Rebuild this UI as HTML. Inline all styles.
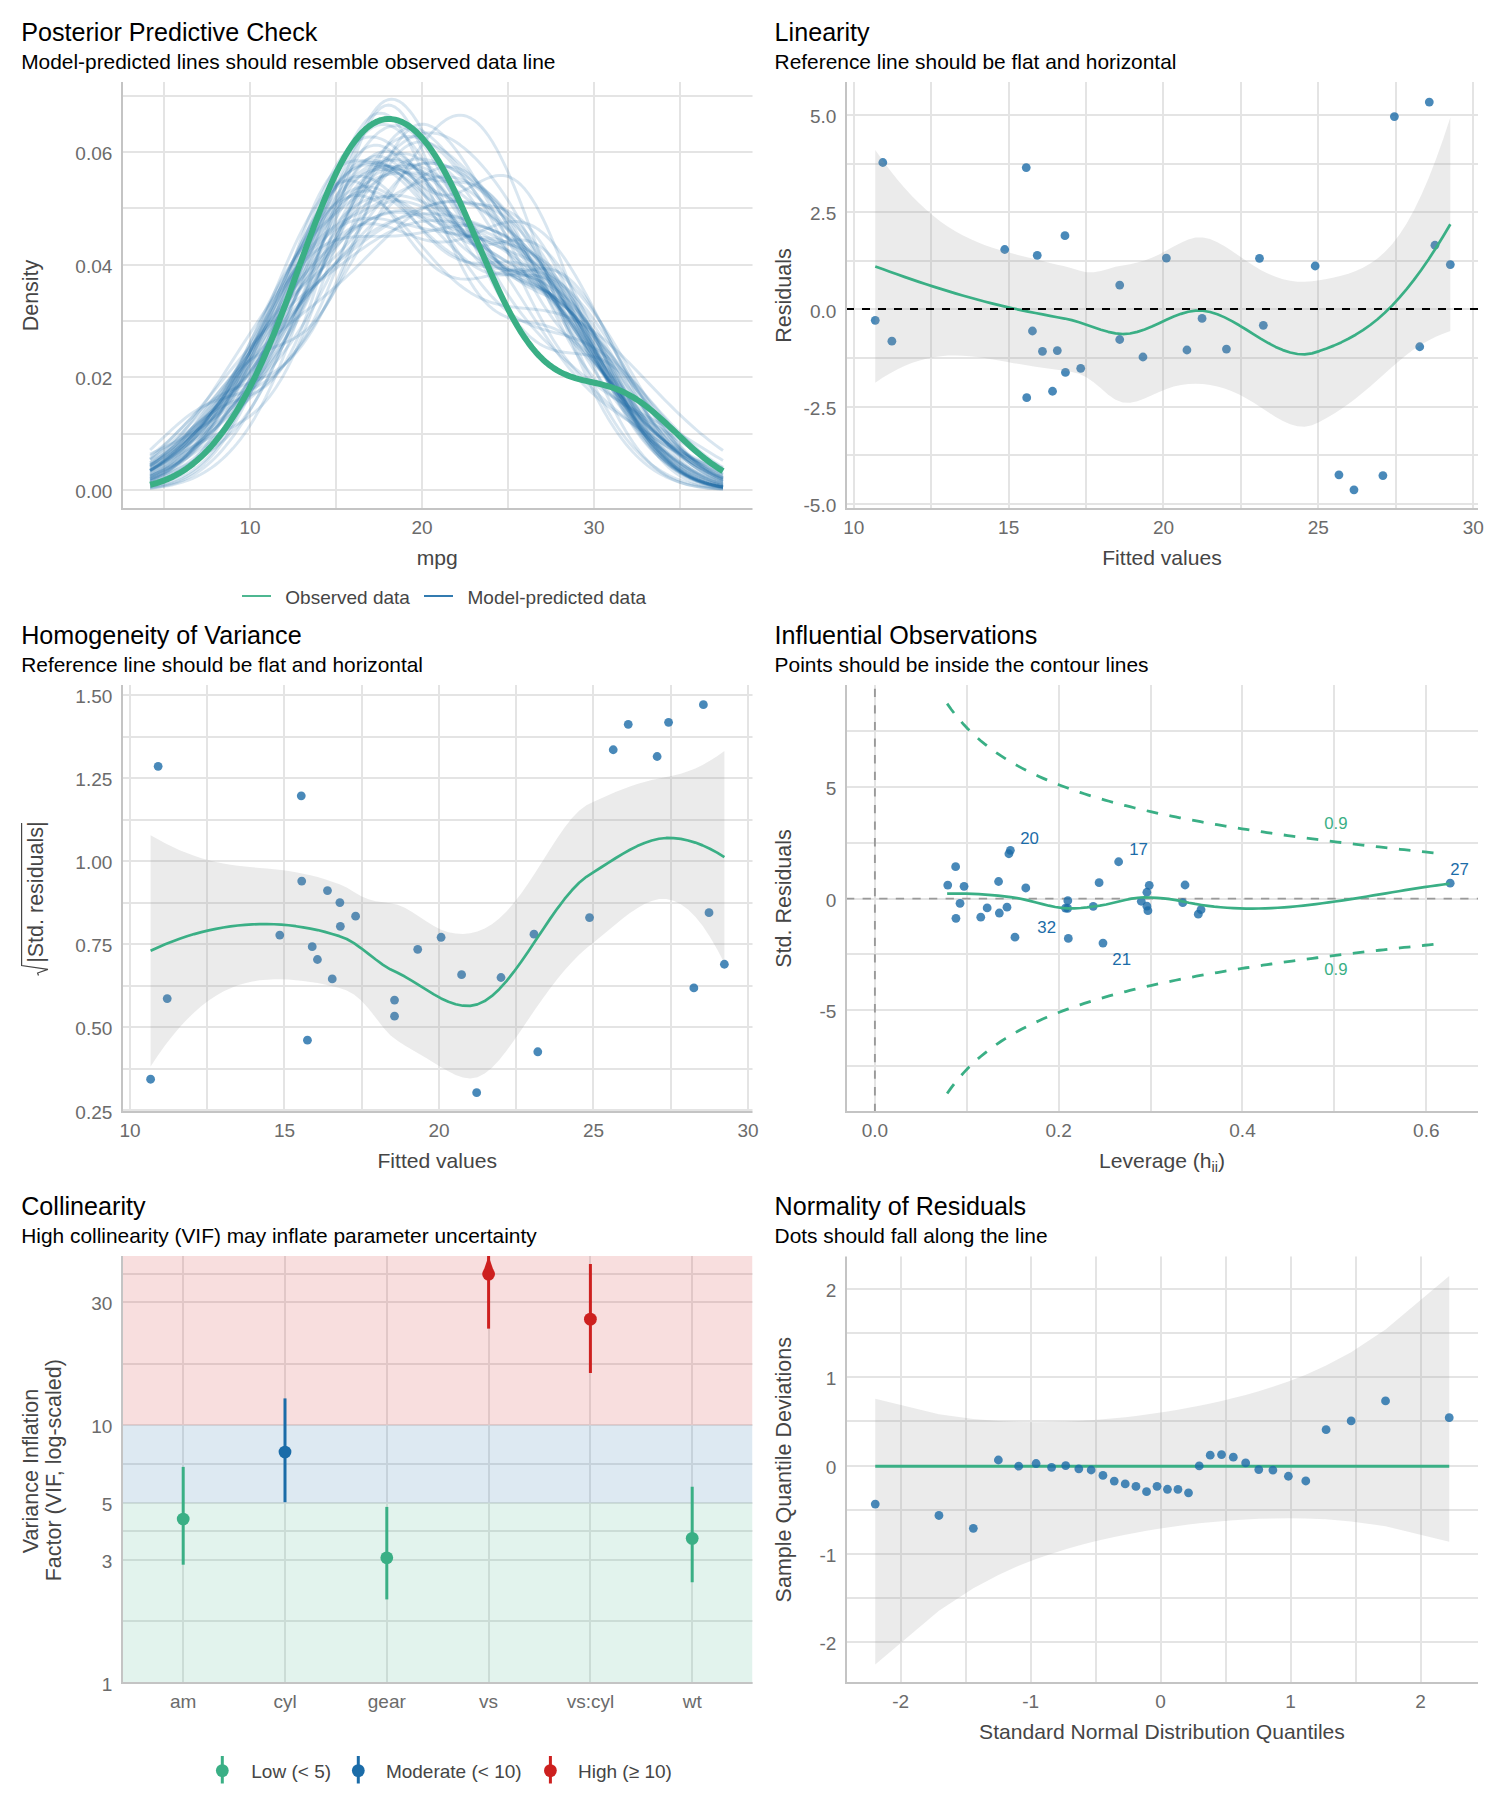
<!DOCTYPE html>
<html><head><meta charset="utf-8"><title>check_model</title>
<style>html,body{margin:0;padding:0;background:#fff}svg{display:block}text{font-family:"Liberation Sans",sans-serif}</style></head>
<body>
<svg width="1500" height="1800" viewBox="0 0 1500 1800" font-family="Liberation Sans, sans-serif">
<rect width="1500" height="1800" fill="#fff"/>
<clipPath id="c1"><rect x="122" y="82" width="630.5" height="427"/></clipPath>
<line x1="164" x2="164" y1="82" y2="509" stroke="#e4e4e4" stroke-width="2"/>
<line x1="336" x2="336" y1="82" y2="509" stroke="#e4e4e4" stroke-width="2"/>
<line x1="508" x2="508" y1="82" y2="509" stroke="#e4e4e4" stroke-width="2"/>
<line x1="680" x2="680" y1="82" y2="509" stroke="#e4e4e4" stroke-width="2"/>
<line x1="250" x2="250" y1="82" y2="509" stroke="#e4e4e4" stroke-width="2"/>
<line x1="422" x2="422" y1="82" y2="509" stroke="#e4e4e4" stroke-width="2"/>
<line x1="594" x2="594" y1="82" y2="509" stroke="#e4e4e4" stroke-width="2"/>
<line x1="122" x2="752.5" y1="434" y2="434" stroke="#e4e4e4" stroke-width="2"/>
<line x1="122" x2="752.5" y1="321" y2="321" stroke="#e4e4e4" stroke-width="2"/>
<line x1="122" x2="752.5" y1="208" y2="208" stroke="#e4e4e4" stroke-width="2"/>
<line x1="122" x2="752.5" y1="96" y2="96" stroke="#e4e4e4" stroke-width="2"/>
<line x1="122" x2="752.5" y1="490" y2="490" stroke="#e4e4e4" stroke-width="2"/>
<line x1="122" x2="752.5" y1="377" y2="377" stroke="#e4e4e4" stroke-width="2"/>
<line x1="122" x2="752.5" y1="265" y2="265" stroke="#e4e4e4" stroke-width="2"/>
<line x1="122" x2="752.5" y1="152" y2="152" stroke="#e4e4e4" stroke-width="2"/>
<g clip-path="url(#c1)" fill="none" stroke-linejoin="round">
<g stroke="#1b6ca8" stroke-opacity="0.17" stroke-width="2.9">
<path d="M150.07,482.43 L153.67,481.45 L157.27,480.38 L160.88,479.21 L164.48,477.95 L168.08,476.57 L171.69,475.09 L175.29,473.48 L178.89,471.75 L182.5,469.88 L186.1,467.86 L189.7,465.67 L193.31,463.32 L196.91,460.76 L200.51,458 L204.12,455.01 L207.72,451.76 L211.32,448.23 L214.93,444.4 L218.53,440.23 L222.13,435.71 L225.74,430.81 L229.34,425.49 L232.94,419.73 L236.55,413.52 L240.15,406.84 L243.75,399.66 L247.36,391.99 L250.96,383.82 L254.57,375.17 L258.17,366.04 L261.77,356.47 L265.38,346.48 L268.98,336.13 L272.58,325.47 L276.19,314.55 L279.79,303.46 L283.39,292.27 L287,281.06 L290.6,269.93 L294.2,258.97 L297.81,248.26 L301.41,237.91 L305.01,228 L308.62,218.61 L312.22,209.81 L315.82,201.68 L319.43,194.25 L323.03,187.58 L326.63,181.68 L330.24,176.57 L333.84,172.24 L337.44,168.68 L341.05,165.84 L344.65,163.7 L348.25,162.19 L351.86,161.24 L355.46,160.77 L359.06,160.72 L362.67,161 L366.27,161.53 L369.87,162.22 L373.48,163 L377.08,163.8 L380.68,164.56 L384.29,165.24 L387.89,165.78 L391.49,166.17 L395.1,166.38 L398.7,166.42 L402.3,166.29 L405.91,166.01 L409.51,165.62 L413.11,165.15 L416.72,164.64 L420.32,164.15 L423.92,163.73 L427.53,163.45 L431.13,163.34 L434.73,163.48 L438.34,163.91 L441.94,164.68 L445.54,165.82 L449.15,167.39 L452.75,169.39 L456.35,171.86 L459.96,174.81 L463.56,178.23 L467.16,182.13 L470.77,186.5 L474.37,191.32 L477.97,196.57 L481.58,202.21 L485.18,208.23 L488.78,214.57 L492.39,221.21 L495.99,228.1 L499.59,235.2 L503.2,242.47 L506.8,249.86 L510.4,257.33 L514.01,264.84 L517.61,272.35 L521.21,279.82 L524.82,287.22 L528.42,294.51 L532.02,301.66 L535.63,308.65 L539.23,315.45 L542.83,322.04 L546.44,328.4 L550.04,334.53 L553.64,340.4 L557.25,346.02 L560.85,351.39 L564.45,356.5 L568.06,361.37 L571.66,366 L575.26,370.4 L578.87,374.59 L582.47,378.59 L586.07,382.4 L589.68,386.06 L593.28,389.59 L596.88,393 L600.49,396.31 L604.09,399.55 L607.69,402.74 L611.3,405.88 L614.9,409 L618.5,412.11 L622.11,415.22 L625.71,418.33 L629.31,421.45 L632.92,424.58 L636.52,427.72 L640.12,430.87 L643.73,434.02 L647.33,437.16 L650.93,440.29 L654.54,443.38 L658.14,446.44 L661.74,449.44 L665.35,452.38 L668.95,455.23 L672.55,458 L676.16,460.67 L679.76,463.22 L683.36,465.66 L686.97,467.97 L690.57,470.14 L694.17,472.19 L697.78,474.09 L701.38,475.85 L704.98,477.48 L708.59,478.98 L712.19,480.34 L715.79,481.57 L719.4,482.68 L723,483.68"/>
<path d="M150.07,468.33 L153.67,466.4 L157.27,464.38 L160.88,462.28 L164.48,460.11 L168.08,457.88 L171.69,455.58 L175.29,453.22 L178.89,450.82 L182.5,448.36 L186.1,445.85 L189.7,443.29 L193.31,440.69 L196.91,438.04 L200.51,435.32 L204.12,432.55 L207.72,429.7 L211.32,426.77 L214.93,423.73 L218.53,420.59 L222.13,417.31 L225.74,413.89 L229.34,410.29 L232.94,406.51 L236.55,402.51 L240.15,398.29 L243.75,393.82 L247.36,389.08 L250.96,384.07 L254.57,378.75 L258.17,373.14 L261.77,367.21 L265.38,360.97 L268.98,354.42 L272.58,347.57 L276.19,340.42 L279.79,332.99 L283.39,325.3 L287,317.37 L290.6,309.24 L294.2,300.92 L297.81,292.47 L301.41,283.91 L305.01,275.28 L308.62,266.64 L312.22,258.02 L315.82,249.47 L319.43,241.04 L323.03,232.76 L326.63,224.69 L330.24,216.86 L333.84,209.33 L337.44,202.13 L341.05,195.29 L344.65,188.86 L348.25,182.87 L351.86,177.34 L355.46,172.3 L359.06,167.78 L362.67,163.79 L366.27,160.35 L369.87,157.46 L373.48,155.14 L377.08,153.39 L380.68,152.2 L384.29,151.58 L387.89,151.52 L391.49,152 L395.1,153 L398.7,154.51 L402.3,156.51 L405.91,158.96 L409.51,161.84 L413.11,165.12 L416.72,168.77 L420.32,172.74 L423.92,177 L427.53,181.51 L431.13,186.23 L434.73,191.12 L438.34,196.14 L441.94,201.25 L445.54,206.41 L449.15,211.58 L452.75,216.72 L456.35,221.8 L459.96,226.78 L463.56,231.64 L467.16,236.35 L470.77,240.88 L474.37,245.22 L477.97,249.34 L481.58,253.23 L485.18,256.89 L488.78,260.31 L492.39,263.49 L495.99,266.42 L499.59,269.13 L503.2,271.62 L506.8,273.91 L510.4,276.01 L514.01,277.95 L517.61,279.75 L521.21,281.45 L524.82,283.07 L528.42,284.65 L532.02,286.22 L535.63,287.82 L539.23,289.48 L542.83,291.24 L546.44,293.12 L550.04,295.17 L553.64,297.42 L557.25,299.88 L560.85,302.59 L564.45,305.55 L568.06,308.8 L571.66,312.34 L575.26,316.17 L578.87,320.3 L582.47,324.72 L586.07,329.42 L589.68,334.39 L593.28,339.61 L596.88,345.06 L600.49,350.72 L604.09,356.55 L607.69,362.52 L611.3,368.6 L614.9,374.76 L618.5,380.95 L622.11,387.15 L625.71,393.32 L629.31,399.43 L632.92,405.44 L636.52,411.32 L640.12,417.05 L643.73,422.6 L647.33,427.94 L650.93,433.07 L654.54,437.96 L658.14,442.6 L661.74,446.99 L665.35,451.11 L668.95,454.97 L672.55,458.56 L676.16,461.89 L679.76,464.96 L683.36,467.78 L686.97,470.36 L690.57,472.7 L694.17,474.83 L697.78,476.74 L701.38,478.46 L704.98,480 L708.59,481.36 L712.19,482.57 L715.79,483.64 L719.4,484.58 L723,485.4"/>
<path d="M150.07,465.71 L153.67,463.27 L157.27,460.67 L160.88,457.91 L164.48,454.99 L168.08,451.91 L171.69,448.69 L175.29,445.31 L178.89,441.79 L182.5,438.14 L186.1,434.37 L189.7,430.47 L193.31,426.47 L196.91,422.38 L200.51,418.21 L204.12,413.97 L207.72,409.69 L211.32,405.36 L214.93,401.01 L218.53,396.65 L222.13,392.3 L225.74,387.97 L229.34,383.67 L232.94,379.42 L236.55,375.23 L240.15,371.11 L243.75,367.07 L247.36,363.12 L250.96,359.26 L254.57,355.49 L258.17,351.83 L261.77,348.27 L265.38,344.81 L268.98,341.45 L272.58,338.18 L276.19,335.01 L279.79,331.91 L283.39,328.89 L287,325.93 L290.6,323.02 L294.2,320.16 L297.81,317.33 L301.41,314.51 L305.01,311.7 L308.62,308.89 L312.22,306.06 L315.82,303.2 L319.43,300.31 L323.03,297.37 L326.63,294.37 L330.24,291.32 L333.84,288.2 L337.44,285.02 L341.05,281.76 L344.65,278.44 L348.25,275.05 L351.86,271.61 L355.46,268.1 L359.06,264.55 L362.67,260.96 L366.27,257.35 L369.87,253.72 L373.48,250.09 L377.08,246.47 L380.68,242.88 L384.29,239.34 L387.89,235.87 L391.49,232.47 L395.1,229.17 L398.7,225.99 L402.3,222.94 L405.91,220.03 L409.51,217.29 L413.11,214.73 L416.72,212.36 L420.32,210.19 L423.92,208.24 L427.53,206.51 L431.13,205.02 L434.73,203.76 L438.34,202.75 L441.94,201.98 L445.54,201.47 L449.15,201.2 L452.75,201.19 L456.35,201.42 L459.96,201.89 L463.56,202.61 L467.16,203.56 L470.77,204.74 L474.37,206.14 L477.97,207.76 L481.58,209.59 L485.18,211.63 L488.78,213.85 L492.39,216.27 L495.99,218.86 L499.59,221.63 L503.2,224.56 L506.8,227.64 L510.4,230.88 L514.01,234.25 L517.61,237.77 L521.21,241.41 L524.82,245.17 L528.42,249.04 L532.02,253.02 L535.63,257.11 L539.23,261.29 L542.83,265.55 L546.44,269.91 L550.04,274.33 L553.64,278.83 L557.25,283.39 L560.85,288.02 L564.45,292.69 L568.06,297.42 L571.66,302.19 L575.26,306.99 L578.87,311.83 L582.47,316.69 L586.07,321.58 L589.68,326.48 L593.28,331.4 L596.88,336.32 L600.49,341.25 L604.09,346.17 L607.69,351.08 L611.3,355.98 L614.9,360.86 L618.5,365.71 L622.11,370.53 L625.71,375.32 L629.31,380.06 L632.92,384.75 L636.52,389.39 L640.12,393.96 L643.73,398.47 L647.33,402.91 L650.93,407.26 L654.54,411.52 L658.14,415.7 L661.74,419.77 L665.35,423.75 L668.95,427.61 L672.55,431.36 L676.16,434.99 L679.76,438.5 L683.36,441.88 L686.97,445.14 L690.57,448.26 L694.17,451.25 L697.78,454.1 L701.38,456.82 L704.98,459.41 L708.59,461.86 L712.19,464.17 L715.79,466.35 L719.4,468.4 L723,470.33"/>
<path d="M150.07,462.92 L153.67,460.68 L157.27,458.33 L160.88,455.88 L164.48,453.32 L168.08,450.67 L171.69,447.91 L175.29,445.05 L178.89,442.09 L182.5,439.04 L186.1,435.89 L189.7,432.64 L193.31,429.3 L196.91,425.86 L200.51,422.33 L204.12,418.71 L207.72,414.99 L211.32,411.18 L214.93,407.28 L218.53,403.29 L222.13,399.21 L225.74,395.05 L229.34,390.8 L232.94,386.48 L236.55,382.07 L240.15,377.6 L243.75,373.07 L247.36,368.47 L250.96,363.83 L254.57,359.15 L258.17,354.44 L261.77,349.71 L265.38,344.98 L268.98,340.24 L272.58,335.52 L276.19,330.83 L279.79,326.18 L283.39,321.57 L287,317.03 L290.6,312.55 L294.2,308.15 L297.81,303.83 L301.41,299.61 L305.01,295.48 L308.62,291.45 L312.22,287.53 L315.82,283.7 L319.43,279.98 L323.03,276.36 L326.63,272.84 L330.24,269.41 L333.84,266.08 L337.44,262.83 L341.05,259.66 L344.65,256.58 L348.25,253.56 L351.86,250.62 L355.46,247.75 L359.06,244.94 L362.67,242.19 L366.27,239.51 L369.87,236.89 L373.48,234.34 L377.08,231.85 L380.68,229.43 L384.29,227.08 L387.89,224.81 L391.49,222.62 L395.1,220.52 L398.7,218.51 L402.3,216.59 L405.91,214.77 L409.51,213.05 L413.11,211.45 L416.72,209.95 L420.32,208.56 L423.92,207.29 L427.53,206.14 L431.13,205.11 L434.73,204.2 L438.34,203.41 L441.94,202.75 L445.54,202.22 L449.15,201.82 L452.75,201.55 L456.35,201.42 L459.96,201.43 L463.56,201.6 L467.16,201.91 L470.77,202.39 L474.37,203.04 L477.97,203.88 L481.58,204.9 L485.18,206.13 L488.78,207.56 L492.39,209.22 L495.99,211.12 L499.59,213.26 L503.2,215.65 L506.8,218.31 L510.4,221.24 L514.01,224.44 L517.61,227.93 L521.21,231.69 L524.82,235.74 L528.42,240.06 L532.02,244.66 L535.63,249.52 L539.23,254.64 L542.83,259.99 L546.44,265.57 L550.04,271.36 L553.64,277.34 L557.25,283.49 L560.85,289.77 L564.45,296.18 L568.06,302.68 L571.66,309.24 L575.26,315.85 L578.87,322.47 L582.47,329.08 L586.07,335.66 L589.68,342.17 L593.28,348.61 L596.88,354.94 L600.49,361.14 L604.09,367.21 L607.69,373.12 L611.3,378.86 L614.9,384.42 L618.5,389.79 L622.11,394.97 L625.71,399.94 L629.31,404.71 L632.92,409.28 L636.52,413.65 L640.12,417.81 L643.73,421.78 L647.33,425.56 L650.93,429.15 L654.54,432.56 L658.14,435.81 L661.74,438.89 L665.35,441.82 L668.95,444.6 L672.55,447.25 L676.16,449.76 L679.76,452.16 L683.36,454.44 L686.97,456.61 L690.57,458.68 L694.17,460.66 L697.78,462.55 L701.38,464.34 L704.98,466.06 L708.59,467.7 L712.19,469.26 L715.79,470.75 L719.4,472.17 L723,473.51"/>
<path d="M150.07,480.07 L153.67,478.57 L157.27,476.9 L160.88,475.06 L164.48,473.02 L168.08,470.79 L171.69,468.35 L175.29,465.7 L178.89,462.84 L182.5,459.76 L186.1,456.45 L189.7,452.92 L193.31,449.17 L196.91,445.2 L200.51,441.02 L204.12,436.62 L207.72,432.01 L211.32,427.21 L214.93,422.22 L218.53,417.04 L222.13,411.68 L225.74,406.16 L229.34,400.47 L232.94,394.62 L236.55,388.62 L240.15,382.47 L243.75,376.17 L247.36,369.73 L250.96,363.14 L254.57,356.41 L258.17,349.53 L261.77,342.5 L265.38,335.32 L268.98,328 L272.58,320.52 L276.19,312.91 L279.79,305.16 L283.39,297.28 L287,289.29 L290.6,281.21 L294.2,273.06 L297.81,264.87 L301.41,256.67 L305.01,248.5 L308.62,240.4 L312.22,232.43 L315.82,224.62 L319.43,217.04 L323.03,209.74 L326.63,202.77 L330.24,196.18 L333.84,190.03 L337.44,184.36 L341.05,179.21 L344.65,174.63 L348.25,170.64 L351.86,167.27 L355.46,164.52 L359.06,162.4 L362.67,160.91 L366.27,160.02 L369.87,159.73 L373.48,159.99 L377.08,160.78 L380.68,162.04 L384.29,163.72 L387.89,165.78 L391.49,168.16 L395.1,170.8 L398.7,173.64 L402.3,176.64 L405.91,179.74 L409.51,182.9 L413.11,186.06 L416.72,189.2 L420.32,192.27 L423.92,195.26 L427.53,198.14 L431.13,200.89 L434.73,203.5 L438.34,205.98 L441.94,208.31 L445.54,210.49 L449.15,212.54 L452.75,214.45 L456.35,216.24 L459.96,217.92 L463.56,219.5 L467.16,220.99 L470.77,222.4 L474.37,223.75 L477.97,225.06 L481.58,226.34 L485.18,227.61 L488.78,228.88 L492.39,230.19 L495.99,231.56 L499.59,233 L503.2,234.54 L506.8,236.22 L510.4,238.06 L514.01,240.1 L517.61,242.35 L521.21,244.87 L524.82,247.66 L528.42,250.77 L532.02,254.22 L535.63,258.02 L539.23,262.2 L542.83,266.78 L546.44,271.75 L550.04,277.12 L553.64,282.89 L557.25,289.04 L560.85,295.56 L564.45,302.42 L568.06,309.59 L571.66,317.05 L575.26,324.74 L578.87,332.63 L582.47,340.66 L586.07,348.8 L589.68,356.97 L593.28,365.15 L596.88,373.26 L600.49,381.27 L604.09,389.13 L607.69,396.79 L611.3,404.22 L614.9,411.38 L618.5,418.24 L622.11,424.77 L625.71,430.96 L629.31,436.78 L632.92,442.24 L636.52,447.32 L640.12,452.03 L643.73,456.36 L647.33,460.33 L650.93,463.95 L654.54,467.23 L658.14,470.18 L661.74,472.83 L665.35,475.2 L668.95,477.29 L672.55,479.14 L676.16,480.77 L679.76,482.19 L683.36,483.42 L686.97,484.49 L690.57,485.41 L694.17,486.19 L697.78,486.86 L701.38,487.43 L704.98,487.9 L708.59,488.3 L712.19,488.64 L715.79,488.91 L719.4,489.14 L723,489.33"/>
<path d="M150.07,485.37 L153.67,484.46 L157.27,483.41 L160.88,482.19 L164.48,480.79 L168.08,479.19 L171.69,477.37 L175.29,475.31 L178.89,473 L182.5,470.41 L186.1,467.52 L189.7,464.33 L193.31,460.8 L196.91,456.93 L200.51,452.71 L204.12,448.14 L207.72,443.19 L211.32,437.88 L214.93,432.21 L218.53,426.18 L222.13,419.81 L225.74,413.11 L229.34,406.11 L232.94,398.83 L236.55,391.29 L240.15,383.54 L243.75,375.62 L247.36,367.55 L250.96,359.39 L254.57,351.19 L258.17,342.98 L261.77,334.82 L265.38,326.74 L268.98,318.81 L272.58,311.05 L276.19,303.52 L279.79,296.23 L283.39,289.24 L287,282.56 L290.6,276.21 L294.2,270.22 L297.81,264.59 L301.41,259.33 L305.01,254.44 L308.62,249.91 L312.22,245.73 L315.82,241.89 L319.43,238.36 L323.03,235.13 L326.63,232.17 L330.24,229.45 L333.84,226.94 L337.44,224.61 L341.05,222.43 L344.65,220.38 L348.25,218.42 L351.86,216.54 L355.46,214.7 L359.06,212.89 L362.67,211.09 L366.27,209.29 L369.87,207.47 L373.48,205.63 L377.08,203.77 L380.68,201.88 L384.29,199.96 L387.89,198.03 L391.49,196.1 L395.1,194.16 L398.7,192.24 L402.3,190.36 L405.91,188.52 L409.51,186.75 L413.11,185.06 L416.72,183.47 L420.32,182 L423.92,180.68 L427.53,179.51 L431.13,178.52 L434.73,177.73 L438.34,177.15 L441.94,176.8 L445.54,176.69 L449.15,176.84 L452.75,177.26 L456.35,177.97 L459.96,178.97 L463.56,180.27 L467.16,181.88 L470.77,183.81 L474.37,186.06 L477.97,188.63 L481.58,191.53 L485.18,194.75 L488.78,198.29 L492.39,202.14 L495.99,206.3 L499.59,210.75 L503.2,215.48 L506.8,220.49 L510.4,225.74 L514.01,231.24 L517.61,236.94 L521.21,242.84 L524.82,248.92 L528.42,255.14 L532.02,261.49 L535.63,267.95 L539.23,274.48 L542.83,281.07 L546.44,287.7 L550.04,294.33 L553.64,300.96 L557.25,307.56 L560.85,314.11 L564.45,320.6 L568.06,327.01 L571.66,333.34 L575.26,339.56 L578.87,345.68 L582.47,351.67 L586.07,357.54 L589.68,363.28 L593.28,368.89 L596.88,374.36 L600.49,379.69 L604.09,384.88 L607.69,389.93 L611.3,394.85 L614.9,399.63 L618.5,404.27 L622.11,408.78 L625.71,413.15 L629.31,417.39 L632.92,421.5 L636.52,425.49 L640.12,429.34 L643.73,433.06 L647.33,436.65 L650.93,440.12 L654.54,443.46 L658.14,446.66 L661.74,449.74 L665.35,452.69 L668.95,455.51 L672.55,458.2 L676.16,460.76 L679.76,463.18 L683.36,465.48 L686.97,467.65 L690.57,469.69 L694.17,471.6 L697.78,473.38 L701.38,475.04 L704.98,476.59 L708.59,478.01 L712.19,479.33 L715.79,480.53 L719.4,481.63 L723,482.64"/>
<path d="M150.07,483.25 L153.67,482.2 L157.27,481.04 L160.88,479.74 L164.48,478.31 L168.08,476.74 L171.69,475.01 L175.29,473.13 L178.89,471.09 L182.5,468.88 L186.1,466.49 L189.7,463.94 L193.31,461.21 L196.91,458.3 L200.51,455.22 L204.12,451.95 L207.72,448.51 L211.32,444.89 L214.93,441.08 L218.53,437.1 L222.13,432.93 L225.74,428.58 L229.34,424.03 L232.94,419.3 L236.55,414.36 L240.15,409.21 L243.75,403.85 L247.36,398.26 L250.96,392.42 L254.57,386.34 L258.17,379.99 L261.77,373.36 L265.38,366.44 L268.98,359.22 L272.58,351.69 L276.19,343.85 L279.79,335.7 L283.39,327.23 L287,318.46 L290.6,309.39 L294.2,300.06 L297.81,290.48 L301.41,280.69 L305.01,270.73 L308.62,260.65 L312.22,250.49 L315.82,240.32 L319.43,230.19 L323.03,220.18 L326.63,210.34 L330.24,200.76 L333.84,191.49 L337.44,182.62 L341.05,174.19 L344.65,166.28 L348.25,158.94 L351.86,152.23 L355.46,146.18 L359.06,140.83 L362.67,136.21 L366.27,132.34 L369.87,129.24 L373.48,126.9 L377.08,125.32 L380.68,124.48 L384.29,124.38 L387.89,124.98 L391.49,126.25 L395.1,128.15 L398.7,130.64 L402.3,133.68 L405.91,137.23 L409.51,141.22 L413.11,145.62 L416.72,150.37 L420.32,155.42 L423.92,160.73 L427.53,166.24 L431.13,171.9 L434.73,177.67 L438.34,183.51 L441.94,189.37 L445.54,195.21 L449.15,201.01 L452.75,206.72 L456.35,212.31 L459.96,217.75 L463.56,223.03 L467.16,228.11 L470.77,232.99 L474.37,237.63 L477.97,242.04 L481.58,246.21 L485.18,250.13 L488.78,253.8 L492.39,257.22 L495.99,260.4 L499.59,263.36 L503.2,266.1 L506.8,268.64 L510.4,271.01 L514.01,273.22 L517.61,275.31 L521.21,277.31 L524.82,279.25 L528.42,281.15 L532.02,283.07 L535.63,285.03 L539.23,287.07 L542.83,289.22 L546.44,291.52 L550.04,294.01 L553.64,296.71 L557.25,299.65 L560.85,302.85 L564.45,306.33 L568.06,310.11 L571.66,314.19 L575.26,318.58 L578.87,323.28 L582.47,328.27 L586.07,333.55 L589.68,339.1 L593.28,344.89 L596.88,350.89 L600.49,357.08 L604.09,363.41 L607.69,369.86 L611.3,376.38 L614.9,382.94 L618.5,389.49 L622.11,395.99 L625.71,402.4 L629.31,408.69 L632.92,414.83 L636.52,420.78 L640.12,426.52 L643.73,432.02 L647.33,437.26 L650.93,442.23 L654.54,446.91 L658.14,451.3 L661.74,455.39 L665.35,459.18 L668.95,462.68 L672.55,465.88 L676.16,468.81 L679.76,471.46 L683.36,473.86 L686.97,476 L690.57,477.92 L694.17,479.63 L697.78,481.14 L701.38,482.46 L704.98,483.62 L708.59,484.63 L712.19,485.5 L715.79,486.25 L719.4,486.89 L723,487.44"/>
<path d="M150.07,466.37 L153.67,464.07 L157.27,461.67 L160.88,459.18 L164.48,456.59 L168.08,453.93 L171.69,451.19 L175.29,448.4 L178.89,445.56 L182.5,442.68 L186.1,439.77 L189.7,436.82 L193.31,433.86 L196.91,430.88 L200.51,427.89 L204.12,424.88 L207.72,421.85 L211.32,418.79 L214.93,415.7 L218.53,412.56 L222.13,409.38 L225.74,406.12 L229.34,402.79 L232.94,399.35 L236.55,395.81 L240.15,392.13 L243.75,388.32 L247.36,384.34 L250.96,380.19 L254.57,375.85 L258.17,371.31 L261.77,366.56 L265.38,361.6 L268.98,356.41 L272.58,351 L276.19,345.36 L279.79,339.5 L283.39,333.42 L287,327.12 L290.6,320.62 L294.2,313.93 L297.81,307.05 L301.41,300.02 L305.01,292.84 L308.62,285.55 L312.22,278.15 L315.82,270.69 L319.43,263.18 L323.03,255.67 L326.63,248.18 L330.24,240.74 L333.84,233.4 L337.44,226.18 L341.05,219.13 L344.65,212.28 L348.25,205.67 L351.86,199.33 L355.46,193.3 L359.06,187.61 L362.67,182.29 L366.27,177.36 L369.87,172.85 L373.48,168.78 L377.08,165.17 L380.68,162.03 L384.29,159.37 L387.89,157.19 L391.49,155.51 L395.1,154.33 L398.7,153.63 L402.3,153.42 L405.91,153.69 L409.51,154.44 L413.11,155.64 L416.72,157.29 L420.32,159.38 L423.92,161.89 L427.53,164.81 L431.13,168.1 L434.73,171.77 L438.34,175.77 L441.94,180.09 L445.54,184.71 L449.15,189.58 L452.75,194.67 L456.35,199.96 L459.96,205.4 L463.56,210.94 L467.16,216.56 L470.77,222.2 L474.37,227.82 L477.97,233.37 L481.58,238.81 L485.18,244.09 L488.78,249.19 L492.39,254.05 L495.99,258.66 L499.59,262.99 L503.2,267.01 L506.8,270.73 L510.4,274.13 L514.01,277.22 L517.61,280.02 L521.21,282.55 L524.82,284.83 L528.42,286.91 L532.02,288.82 L535.63,290.61 L539.23,292.32 L542.83,294.02 L546.44,295.75 L550.04,297.57 L553.64,299.53 L557.25,301.67 L560.85,304.04 L564.45,306.67 L568.06,309.59 L571.66,312.84 L575.26,316.41 L578.87,320.33 L582.47,324.6 L586.07,329.2 L589.68,334.12 L593.28,339.34 L596.88,344.84 L600.49,350.58 L604.09,356.52 L607.69,362.64 L611.3,368.88 L614.9,375.21 L618.5,381.58 L622.11,387.95 L625.71,394.28 L629.31,400.54 L632.92,406.67 L636.52,412.66 L640.12,418.48 L643.73,424.09 L647.33,429.48 L650.93,434.63 L654.54,439.52 L658.14,444.14 L661.74,448.49 L665.35,452.57 L668.95,456.37 L672.55,459.89 L676.16,463.15 L679.76,466.14 L683.36,468.88 L686.97,471.38 L690.57,473.64 L694.17,475.69 L697.78,477.53 L701.38,479.18 L704.98,480.65 L708.59,481.95 L712.19,483.1 L715.79,484.11 L719.4,485 L723,485.78"/>
<path d="M150.07,477.81 L153.67,476.2 L157.27,474.45 L160.88,472.54 L164.48,470.47 L168.08,468.25 L171.69,465.86 L175.29,463.31 L178.89,460.61 L182.5,457.74 L186.1,454.73 L189.7,451.57 L193.31,448.27 L196.91,444.85 L200.51,441.3 L204.12,437.65 L207.72,433.91 L211.32,430.08 L214.93,426.18 L218.53,422.22 L222.13,418.21 L225.74,414.15 L229.34,410.07 L232.94,405.95 L236.55,401.81 L240.15,397.65 L243.75,393.45 L247.36,389.22 L250.96,384.95 L254.57,380.62 L258.17,376.22 L261.77,371.73 L265.38,367.13 L268.98,362.4 L272.58,357.52 L276.19,352.46 L279.79,347.2 L283.39,341.72 L287,336 L290.6,330.04 L294.2,323.81 L297.81,317.31 L301.41,310.56 L305.01,303.54 L308.62,296.28 L312.22,288.81 L315.82,281.14 L319.43,273.33 L323.03,265.41 L326.63,257.43 L330.24,249.45 L333.84,241.53 L337.44,233.73 L341.05,226.13 L344.65,218.78 L348.25,211.75 L351.86,205.11 L355.46,198.91 L359.06,193.2 L362.67,188.04 L366.27,183.46 L369.87,179.49 L373.48,176.15 L377.08,173.45 L380.68,171.38 L384.29,169.93 L387.89,169.09 L391.49,168.82 L395.1,169.09 L398.7,169.83 L402.3,171.01 L405.91,172.55 L409.51,174.4 L413.11,176.5 L416.72,178.78 L420.32,181.17 L423.92,183.61 L427.53,186.05 L431.13,188.44 L434.73,190.73 L438.34,192.88 L441.94,194.85 L445.54,196.64 L449.15,198.22 L452.75,199.59 L456.35,200.75 L459.96,201.71 L463.56,202.49 L467.16,203.11 L470.77,203.61 L474.37,204.01 L477.97,204.37 L481.58,204.71 L485.18,205.09 L488.78,205.55 L492.39,206.13 L495.99,206.87 L499.59,207.83 L503.2,209.03 L506.8,210.51 L510.4,212.31 L514.01,214.45 L517.61,216.94 L521.21,219.82 L524.82,223.09 L528.42,226.76 L532.02,230.83 L535.63,235.3 L539.23,240.15 L542.83,245.38 L546.44,250.97 L550.04,256.9 L553.64,263.15 L557.25,269.68 L560.85,276.48 L564.45,283.52 L568.06,290.75 L571.66,298.15 L575.26,305.69 L578.87,313.33 L582.47,321.04 L586.07,328.79 L589.68,336.54 L593.28,344.26 L596.88,351.93 L600.49,359.52 L604.09,366.99 L607.69,374.33 L611.3,381.51 L614.9,388.51 L618.5,395.31 L622.11,401.89 L625.71,408.24 L629.31,414.35 L632.92,420.2 L636.52,425.78 L640.12,431.1 L643.73,436.13 L647.33,440.89 L650.93,445.37 L654.54,449.57 L658.14,453.49 L661.74,457.15 L665.35,460.53 L668.95,463.66 L672.55,466.54 L676.16,469.18 L679.76,471.59 L683.36,473.78 L686.97,475.76 L690.57,477.55 L694.17,479.15 L697.78,480.59 L701.38,481.87 L704.98,483 L708.59,484.01 L712.19,484.89 L715.79,485.66 L719.4,486.33 L723,486.91"/>
<path d="M150.07,479.25 L153.67,478.14 L157.27,476.97 L160.88,475.73 L164.48,474.42 L168.08,473.04 L171.69,471.6 L175.29,470.08 L178.89,468.49 L182.5,466.83 L186.1,465.09 L189.7,463.27 L193.31,461.37 L196.91,459.36 L200.51,457.26 L204.12,455.03 L207.72,452.68 L211.32,450.19 L214.93,447.54 L218.53,444.72 L222.13,441.7 L225.74,438.47 L229.34,435.01 L232.94,431.29 L236.55,427.3 L240.15,423.01 L243.75,418.41 L247.36,413.47 L250.96,408.19 L254.57,402.54 L258.17,396.52 L261.77,390.13 L265.38,383.35 L268.98,376.19 L272.58,368.67 L276.19,360.79 L279.79,352.56 L283.39,344.03 L287,335.21 L290.6,326.14 L294.2,316.86 L297.81,307.42 L301.41,297.86 L305.01,288.26 L308.62,278.65 L312.22,269.1 L315.82,259.68 L319.43,250.45 L323.03,241.47 L326.63,232.8 L330.24,224.5 L333.84,216.62 L337.44,209.23 L341.05,202.35 L344.65,196.03 L348.25,190.3 L351.86,185.19 L355.46,180.7 L359.06,176.84 L362.67,173.62 L366.27,171.01 L369.87,168.99 L373.48,167.54 L377.08,166.62 L380.68,166.18 L384.29,166.17 L387.89,166.54 L391.49,167.23 L395.1,168.18 L398.7,169.32 L402.3,170.6 L405.91,171.95 L409.51,173.33 L413.11,174.68 L416.72,175.97 L420.32,177.15 L423.92,178.2 L427.53,179.1 L431.13,179.84 L434.73,180.42 L438.34,180.86 L441.94,181.18 L445.54,181.4 L449.15,181.55 L452.75,181.69 L456.35,181.86 L459.96,182.12 L463.56,182.51 L467.16,183.1 L470.77,183.95 L474.37,185.09 L477.97,186.6 L481.58,188.5 L485.18,190.85 L488.78,193.66 L492.39,196.96 L495.99,200.78 L499.59,205.1 L503.2,209.93 L506.8,215.26 L510.4,221.05 L514.01,227.29 L517.61,233.92 L521.21,240.92 L524.82,248.21 L528.42,255.76 L532.02,263.5 L535.63,271.38 L539.23,279.33 L542.83,287.29 L546.44,295.22 L550.04,303.05 L553.64,310.74 L557.25,318.23 L560.85,325.5 L564.45,332.51 L568.06,339.23 L571.66,345.63 L575.26,351.71 L578.87,357.46 L582.47,362.87 L586.07,367.94 L589.68,372.69 L593.28,377.12 L596.88,381.25 L600.49,385.1 L604.09,388.69 L607.69,392.04 L611.3,395.17 L614.9,398.12 L618.5,400.91 L622.11,403.55 L625.71,406.09 L629.31,408.53 L632.92,410.9 L636.52,413.22 L640.12,415.51 L643.73,417.78 L647.33,420.04 L650.93,422.31 L654.54,424.59 L658.14,426.89 L661.74,429.21 L665.35,431.56 L668.95,433.92 L672.55,436.31 L676.16,438.72 L679.76,441.13 L683.36,443.56 L686.97,445.97 L690.57,448.38 L694.17,450.77 L697.78,453.14 L701.38,455.46 L704.98,457.74 L708.59,459.97 L712.19,462.14 L715.79,464.23 L719.4,466.25 L723,468.19"/>
<path d="M150.07,454.07 L153.67,452.42 L157.27,450.75 L160.88,449.05 L164.48,447.32 L168.08,445.56 L171.69,443.77 L175.29,441.94 L178.89,440.06 L182.5,438.14 L186.1,436.17 L189.7,434.15 L193.31,432.06 L196.91,429.92 L200.51,427.71 L204.12,425.44 L207.72,423.09 L211.32,420.66 L214.93,418.15 L218.53,415.55 L222.13,412.86 L225.74,410.08 L229.34,407.19 L232.94,404.19 L236.55,401.07 L240.15,397.83 L243.75,394.45 L247.36,390.93 L250.96,387.25 L254.57,383.41 L258.17,379.38 L261.77,375.16 L265.38,370.74 L268.98,366.1 L272.58,361.23 L276.19,356.12 L279.79,350.76 L283.39,345.15 L287,339.27 L290.6,333.12 L294.2,326.71 L297.81,320.03 L301.41,313.1 L305.01,305.92 L308.62,298.52 L312.22,290.9 L315.82,283.11 L319.43,275.17 L323.03,267.11 L326.63,258.99 L330.24,250.83 L333.84,242.7 L337.44,234.64 L341.05,226.72 L344.65,218.98 L348.25,211.48 L351.86,204.29 L355.46,197.46 L359.06,191.04 L362.67,185.09 L366.27,179.66 L369.87,174.79 L373.48,170.52 L377.08,166.88 L380.68,163.89 L384.29,161.58 L387.89,159.94 L391.49,158.99 L395.1,158.72 L398.7,159.11 L402.3,160.15 L405.91,161.79 L409.51,164.01 L413.11,166.77 L416.72,170.01 L420.32,173.7 L423.92,177.76 L427.53,182.16 L431.13,186.82 L434.73,191.7 L438.34,196.73 L441.94,201.85 L445.54,207.02 L449.15,212.17 L452.75,217.27 L456.35,222.26 L459.96,227.11 L463.56,231.78 L467.16,236.25 L470.77,240.48 L474.37,244.46 L477.97,248.17 L481.58,251.62 L485.18,254.78 L488.78,257.68 L492.39,260.3 L495.99,262.68 L499.59,264.82 L503.2,266.74 L506.8,268.47 L510.4,270.04 L514.01,271.47 L517.61,272.8 L521.21,274.07 L524.82,275.3 L528.42,276.54 L532.02,277.83 L535.63,279.19 L539.23,280.67 L542.83,282.29 L546.44,284.09 L550.04,286.11 L553.64,288.36 L557.25,290.87 L560.85,293.65 L564.45,296.73 L568.06,300.12 L571.66,303.81 L575.26,307.82 L578.87,312.14 L582.47,316.75 L586.07,321.66 L589.68,326.83 L593.28,332.26 L596.88,337.92 L600.49,343.78 L604.09,349.81 L607.69,355.98 L611.3,362.25 L614.9,368.6 L618.5,374.98 L622.11,381.37 L625.71,387.72 L629.31,394.01 L632.92,400.2 L636.52,406.26 L640.12,412.17 L643.73,417.91 L647.33,423.44 L650.93,428.76 L654.54,433.84 L658.14,438.67 L661.74,443.26 L665.35,447.57 L668.95,451.63 L672.55,455.41 L676.16,458.94 L679.76,462.2 L683.36,465.21 L686.97,467.97 L690.57,470.5 L694.17,472.79 L697.78,474.88 L701.38,476.76 L704.98,478.45 L708.59,479.96 L712.19,481.3 L715.79,482.5 L719.4,483.56 L723,484.49"/>
<path d="M150.07,469.57 L153.67,467.49 L157.27,465.28 L160.88,462.92 L164.48,460.42 L168.08,457.77 L171.69,454.97 L175.29,452.02 L178.89,448.91 L182.5,445.65 L186.1,442.23 L189.7,438.65 L193.31,434.9 L196.91,430.98 L200.51,426.9 L204.12,422.63 L207.72,418.19 L211.32,413.57 L214.93,408.75 L218.53,403.75 L222.13,398.54 L225.74,393.14 L229.34,387.54 L232.94,381.72 L236.55,375.7 L240.15,369.48 L243.75,363.04 L247.36,356.41 L250.96,349.58 L254.57,342.56 L258.17,335.36 L261.77,328.01 L265.38,320.5 L268.98,312.87 L272.58,305.14 L276.19,297.33 L279.79,289.47 L283.39,281.59 L287,273.73 L290.6,265.92 L294.2,258.2 L297.81,250.61 L301.41,243.19 L305.01,235.98 L308.62,229.02 L312.22,222.35 L315.82,216.02 L319.43,210.04 L323.03,204.47 L326.63,199.34 L330.24,194.67 L333.84,190.49 L337.44,186.82 L341.05,183.68 L344.65,181.08 L348.25,179.03 L351.86,177.54 L355.46,176.61 L359.06,176.22 L362.67,176.38 L366.27,177.06 L369.87,178.24 L373.48,179.9 L377.08,182 L380.68,184.53 L384.29,187.44 L387.89,190.69 L391.49,194.24 L395.1,198.04 L398.7,202.05 L402.3,206.23 L405.91,210.51 L409.51,214.86 L413.11,219.22 L416.72,223.56 L420.32,227.82 L423.92,231.95 L427.53,235.93 L431.13,239.71 L434.73,243.27 L438.34,246.57 L441.94,249.58 L445.54,252.3 L449.15,254.71 L452.75,256.8 L456.35,258.57 L459.96,260.03 L463.56,261.19 L467.16,262.06 L470.77,262.67 L474.37,263.04 L477.97,263.21 L481.58,263.21 L485.18,263.07 L488.78,262.84 L492.39,262.57 L495.99,262.29 L499.59,262.05 L503.2,261.89 L506.8,261.86 L510.4,262 L514.01,262.35 L517.61,262.93 L521.21,263.79 L524.82,264.95 L528.42,266.44 L532.02,268.27 L535.63,270.45 L539.23,272.99 L542.83,275.91 L546.44,279.19 L550.04,282.83 L553.64,286.81 L557.25,291.14 L560.85,295.78 L564.45,300.71 L568.06,305.92 L571.66,311.37 L575.26,317.04 L578.87,322.9 L582.47,328.92 L586.07,335.06 L589.68,341.3 L593.28,347.6 L596.88,353.95 L600.49,360.3 L604.09,366.62 L607.69,372.91 L611.3,379.12 L614.9,385.24 L618.5,391.25 L622.11,397.13 L625.71,402.85 L629.31,408.42 L632.92,413.8 L636.52,419 L640.12,424 L643.73,428.8 L647.33,433.38 L650.93,437.75 L654.54,441.91 L658.14,445.85 L661.74,449.57 L665.35,453.07 L668.95,456.36 L672.55,459.44 L676.16,462.31 L679.76,464.98 L683.36,467.46 L686.97,469.76 L690.57,471.87 L694.17,473.81 L697.78,475.59 L701.38,477.21 L704.98,478.69 L708.59,480.03 L712.19,481.23 L715.79,482.32 L719.4,483.3 L723,484.17"/>
<path d="M150.07,480.82 L153.67,479.34 L157.27,477.67 L160.88,475.8 L164.48,473.7 L168.08,471.36 L171.69,468.78 L175.29,465.92 L178.89,462.79 L182.5,459.36 L186.1,455.62 L189.7,451.58 L193.31,447.21 L196.91,442.53 L200.51,437.51 L204.12,432.18 L207.72,426.53 L211.32,420.57 L214.93,414.32 L218.53,407.79 L222.13,400.99 L225.74,393.97 L229.34,386.73 L232.94,379.31 L236.55,371.74 L240.15,364.06 L243.75,356.3 L247.36,348.5 L250.96,340.69 L254.57,332.93 L258.17,325.23 L261.77,317.65 L265.38,310.2 L268.98,302.94 L272.58,295.88 L276.19,289.05 L279.79,282.48 L283.39,276.17 L287,270.14 L290.6,264.41 L294.2,258.96 L297.81,253.81 L301.41,248.94 L305.01,244.35 L308.62,240.01 L312.22,235.91 L315.82,232.04 L319.43,228.36 L323.03,224.85 L326.63,221.48 L330.24,218.24 L333.84,215.1 L337.44,212.03 L341.05,209.02 L344.65,206.06 L348.25,203.12 L351.86,200.2 L355.46,197.3 L359.06,194.42 L362.67,191.56 L366.27,188.75 L369.87,185.99 L373.48,183.31 L377.08,180.74 L380.68,178.29 L384.29,176.02 L387.89,173.94 L391.49,172.11 L395.1,170.55 L398.7,169.3 L402.3,168.39 L405.91,167.87 L409.51,167.75 L413.11,168.06 L416.72,168.83 L420.32,170.07 L423.92,171.79 L427.53,173.99 L431.13,176.67 L434.73,179.83 L438.34,183.44 L441.94,187.49 L445.54,191.95 L449.15,196.79 L452.75,201.98 L456.35,207.48 L459.96,213.24 L463.56,219.22 L467.16,225.37 L470.77,231.66 L474.37,238.03 L477.97,244.44 L481.58,250.86 L485.18,257.24 L488.78,263.55 L492.39,269.75 L495.99,275.82 L499.59,281.74 L503.2,287.49 L506.8,293.05 L510.4,298.42 L514.01,303.6 L517.61,308.57 L521.21,313.35 L524.82,317.93 L528.42,322.34 L532.02,326.58 L535.63,330.65 L539.23,334.58 L542.83,338.38 L546.44,342.06 L550.04,345.63 L553.64,349.11 L557.25,352.51 L560.85,355.83 L564.45,359.09 L568.06,362.29 L571.66,365.43 L575.26,368.51 L578.87,371.54 L582.47,374.52 L586.07,377.43 L589.68,380.29 L593.28,383.09 L596.88,385.82 L600.49,388.48 L604.09,391.06 L607.69,393.57 L611.3,396.01 L614.9,398.36 L618.5,400.64 L622.11,402.85 L625.71,404.99 L629.31,407.06 L632.92,409.08 L636.52,411.04 L640.12,412.97 L643.73,414.86 L647.33,416.73 L650.93,418.59 L654.54,420.44 L658.14,422.31 L661.74,424.19 L665.35,426.09 L668.95,428.03 L672.55,430 L676.16,432.01 L679.76,434.06 L683.36,436.16 L686.97,438.29 L690.57,440.46 L694.17,442.67 L697.78,444.9 L701.38,447.15 L704.98,449.41 L708.59,451.67 L712.19,453.92 L715.79,456.16 L719.4,458.36 L723,460.53"/>
<path d="M150.07,470.44 L153.67,468.62 L157.27,466.72 L160.88,464.76 L164.48,462.75 L168.08,460.71 L171.69,458.63 L175.29,456.54 L178.89,454.45 L182.5,452.37 L186.1,450.31 L189.7,448.28 L193.31,446.28 L196.91,444.34 L200.51,442.44 L204.12,440.59 L207.72,438.79 L211.32,437.03 L214.93,435.31 L218.53,433.61 L222.13,431.91 L225.74,430.19 L229.34,428.43 L232.94,426.61 L236.55,424.68 L240.15,422.63 L243.75,420.41 L247.36,418 L250.96,415.34 L254.57,412.41 L258.17,409.17 L261.77,405.59 L265.38,401.63 L268.98,397.27 L272.58,392.49 L276.19,387.25 L279.79,381.56 L283.39,375.4 L287,368.77 L290.6,361.68 L294.2,354.13 L297.81,346.15 L301.41,337.77 L305.01,329.02 L308.62,319.93 L312.22,310.55 L315.82,300.93 L319.43,291.14 L323.03,281.22 L326.63,271.24 L330.24,261.26 L333.84,251.34 L337.44,241.55 L341.05,231.96 L344.65,222.61 L348.25,213.57 L351.86,204.89 L355.46,196.62 L359.06,188.8 L362.67,181.46 L366.27,174.64 L369.87,168.35 L373.48,162.63 L377.08,157.48 L380.68,152.91 L384.29,148.92 L387.89,145.5 L391.49,142.66 L395.1,140.37 L398.7,138.62 L402.3,137.4 L405.91,136.69 L409.51,136.47 L413.11,136.71 L416.72,137.4 L420.32,138.51 L423.92,140.02 L427.53,141.91 L431.13,144.16 L434.73,146.74 L438.34,149.63 L441.94,152.82 L445.54,156.27 L449.15,159.98 L452.75,163.91 L456.35,168.05 L459.96,172.36 L463.56,176.84 L467.16,181.46 L470.77,186.2 L474.37,191.04 L477.97,195.95 L481.58,200.91 L485.18,205.92 L488.78,210.94 L492.39,215.98 L495.99,221 L499.59,226.02 L503.2,231 L506.8,235.96 L510.4,240.88 L514.01,245.77 L517.61,250.63 L521.21,255.47 L524.82,260.28 L528.42,265.08 L532.02,269.88 L535.63,274.69 L539.23,279.51 L542.83,284.36 L546.44,289.24 L550.04,294.17 L553.64,299.16 L557.25,304.2 L560.85,309.3 L564.45,314.47 L568.06,319.7 L571.66,324.99 L575.26,330.33 L578.87,335.72 L582.47,341.13 L586.07,346.57 L589.68,352.01 L593.28,357.44 L596.88,362.85 L600.49,368.21 L604.09,373.5 L607.69,378.71 L611.3,383.82 L614.9,388.81 L618.5,393.67 L622.11,398.39 L625.71,402.95 L629.31,407.34 L632.92,411.56 L636.52,415.6 L640.12,419.45 L643.73,423.13 L647.33,426.62 L650.93,429.94 L654.54,433.09 L658.14,436.07 L661.74,438.9 L665.35,441.58 L668.95,444.12 L672.55,446.54 L676.16,448.84 L679.76,451.04 L683.36,453.14 L686.97,455.15 L690.57,457.08 L694.17,458.95 L697.78,460.74 L701.38,462.48 L704.98,464.16 L708.59,465.78 L712.19,467.35 L715.79,468.88 L719.4,470.35 L723,471.77"/>
<path d="M150.07,488.12 L153.67,487.69 L157.27,487.18 L160.88,486.57 L164.48,485.87 L168.08,485.05 L171.69,484.1 L175.29,483.02 L178.89,481.77 L182.5,480.36 L186.1,478.77 L189.7,476.97 L193.31,474.97 L196.91,472.75 L200.51,470.29 L204.12,467.59 L207.72,464.64 L211.32,461.43 L214.93,457.96 L218.53,454.22 L222.13,450.21 L225.74,445.93 L229.34,441.38 L232.94,436.58 L236.55,431.51 L240.15,426.19 L243.75,420.62 L247.36,414.82 L250.96,408.78 L254.57,402.51 L258.17,396.02 L261.77,389.31 L265.38,382.38 L268.98,375.24 L272.58,367.88 L276.19,360.3 L279.79,352.49 L283.39,344.46 L287,336.19 L290.6,327.67 L294.2,318.91 L297.81,309.9 L301.41,300.64 L305.01,291.12 L308.62,281.36 L312.22,271.37 L315.82,261.16 L319.43,250.76 L323.03,240.21 L326.63,229.54 L330.24,218.81 L333.84,208.07 L337.44,197.39 L341.05,186.85 L344.65,176.52 L348.25,166.49 L351.86,156.85 L355.46,147.69 L359.06,139.1 L362.67,131.16 L366.27,123.96 L369.87,117.57 L373.48,112.06 L377.08,107.49 L380.68,103.89 L384.29,101.29 L387.89,99.72 L391.49,99.16 L395.1,99.61 L398.7,101.04 L402.3,103.39 L405.91,106.62 L409.51,110.67 L413.11,115.44 L416.72,120.87 L420.32,126.87 L423.92,133.34 L427.53,140.2 L431.13,147.36 L434.73,154.73 L438.34,162.23 L441.94,169.78 L445.54,177.32 L449.15,184.79 L452.75,192.13 L456.35,199.3 L459.96,206.25 L463.56,212.97 L467.16,219.41 L470.77,225.57 L474.37,231.43 L477.97,236.98 L481.58,242.22 L485.18,247.14 L488.78,251.75 L492.39,256.04 L495.99,260.02 L499.59,263.71 L503.2,267.1 L506.8,270.21 L510.4,273.05 L514.01,275.64 L517.61,278 L521.21,280.14 L524.82,282.1 L528.42,283.91 L532.02,285.59 L535.63,287.18 L539.23,288.72 L542.83,290.26 L546.44,291.83 L550.04,293.48 L553.64,295.26 L557.25,297.22 L560.85,299.38 L564.45,301.81 L568.06,304.52 L571.66,307.56 L575.26,310.95 L578.87,314.71 L582.47,318.85 L586.07,323.38 L589.68,328.29 L593.28,333.56 L596.88,339.19 L600.49,345.14 L604.09,351.38 L607.69,357.86 L611.3,364.55 L614.9,371.4 L618.5,378.34 L622.11,385.33 L625.71,392.33 L629.31,399.26 L632.92,406.09 L636.52,412.77 L640.12,419.25 L643.73,425.49 L647.33,431.47 L650.93,437.15 L654.54,442.52 L658.14,447.55 L661.74,452.24 L665.35,456.58 L668.95,460.58 L672.55,464.22 L676.16,467.54 L679.76,470.53 L683.36,473.21 L686.97,475.59 L690.57,477.71 L694.17,479.57 L697.78,481.2 L701.38,482.61 L704.98,483.84 L708.59,484.89 L712.19,485.78 L715.79,486.55 L719.4,487.19 L723,487.73"/>
<path d="M150.07,486.08 L153.67,485.3 L157.27,484.4 L160.88,483.36 L164.48,482.17 L168.08,480.8 L171.69,479.25 L175.29,477.5 L178.89,475.53 L182.5,473.32 L186.1,470.86 L189.7,468.13 L193.31,465.13 L196.91,461.84 L200.51,458.24 L204.12,454.33 L207.72,450.11 L211.32,445.57 L214.93,440.71 L218.53,435.53 L222.13,430.03 L225.74,424.23 L229.34,418.14 L232.94,411.77 L236.55,405.13 L240.15,398.26 L243.75,391.15 L247.36,383.85 L250.96,376.38 L254.57,368.75 L258.17,361.01 L261.77,353.17 L265.38,345.26 L268.98,337.32 L272.58,329.37 L276.19,321.44 L279.79,313.55 L283.39,305.72 L287,297.99 L290.6,290.37 L294.2,282.89 L297.81,275.57 L301.41,268.42 L305.01,261.46 L308.62,254.71 L312.22,248.18 L315.82,241.89 L319.43,235.85 L323.03,230.08 L326.63,224.57 L330.24,219.34 L333.84,214.4 L337.44,209.76 L341.05,205.41 L344.65,201.36 L348.25,197.61 L351.86,194.16 L355.46,191.01 L359.06,188.15 L362.67,185.57 L366.27,183.28 L369.87,181.24 L373.48,179.47 L377.08,177.94 L380.68,176.64 L384.29,175.55 L387.89,174.66 L391.49,173.96 L395.1,173.44 L398.7,173.07 L402.3,172.84 L405.91,172.75 L409.51,172.79 L413.11,172.94 L416.72,173.2 L420.32,173.57 L423.92,174.04 L427.53,174.62 L431.13,175.3 L434.73,176.09 L438.34,177.01 L441.94,178.05 L445.54,179.22 L449.15,180.54 L452.75,182.02 L456.35,183.66 L459.96,185.49 L463.56,187.5 L467.16,189.72 L470.77,192.14 L474.37,194.78 L477.97,197.64 L481.58,200.73 L485.18,204.04 L488.78,207.57 L492.39,211.32 L495.99,215.29 L499.59,219.45 L503.2,223.81 L506.8,228.34 L510.4,233.03 L514.01,237.86 L517.61,242.82 L521.21,247.88 L524.82,253.04 L528.42,258.27 L532.02,263.55 L535.63,268.88 L539.23,274.24 L542.83,279.61 L546.44,284.99 L550.04,290.38 L553.64,295.78 L557.25,301.17 L560.85,306.57 L564.45,311.97 L568.06,317.38 L571.66,322.81 L575.26,328.26 L578.87,333.74 L582.47,339.26 L586.07,344.81 L589.68,350.4 L593.28,356.03 L596.88,361.7 L600.49,367.4 L604.09,373.12 L607.69,378.86 L611.3,384.6 L614.9,390.33 L618.5,396.03 L622.11,401.68 L625.71,407.26 L629.31,412.75 L632.92,418.13 L636.52,423.37 L640.12,428.46 L643.73,433.38 L647.33,438.11 L650.93,442.63 L654.54,446.94 L658.14,451.01 L661.74,454.85 L665.35,458.45 L668.95,461.8 L672.55,464.9 L676.16,467.77 L679.76,470.39 L683.36,472.79 L686.97,474.96 L690.57,476.92 L694.17,478.68 L697.78,480.25 L701.38,481.64 L704.98,482.87 L708.59,483.95 L712.19,484.89 L715.79,485.71 L719.4,486.42 L723,487.02"/>
<path d="M150.07,479.03 L153.67,477.51 L157.27,475.84 L160.88,473.99 L164.48,471.97 L168.08,469.75 L171.69,467.33 L175.29,464.7 L178.89,461.85 L182.5,458.77 L186.1,455.46 L189.7,451.9 L193.31,448.1 L196.91,444.04 L200.51,439.73 L204.12,435.15 L207.72,430.32 L211.32,425.23 L214.93,419.88 L218.53,414.28 L222.13,408.43 L225.74,402.33 L229.34,396 L232.94,389.44 L236.55,382.66 L240.15,375.67 L243.75,368.5 L247.36,361.15 L250.96,353.63 L254.57,345.97 L258.17,338.18 L261.77,330.29 L265.38,322.3 L268.98,314.26 L272.58,306.16 L276.19,298.05 L279.79,289.95 L283.39,281.87 L287,273.85 L290.6,265.92 L294.2,258.09 L297.81,250.4 L301.41,242.89 L305.01,235.56 L308.62,228.46 L312.22,221.62 L315.82,215.06 L319.43,208.8 L323.03,202.88 L326.63,197.31 L330.24,192.13 L333.84,187.35 L337.44,183 L341.05,179.08 L344.65,175.62 L348.25,172.63 L351.86,170.11 L355.46,168.06 L359.06,166.5 L362.67,165.42 L366.27,164.8 L369.87,164.66 L373.48,164.97 L377.08,165.71 L380.68,166.88 L384.29,168.45 L387.89,170.4 L391.49,172.71 L395.1,175.34 L398.7,178.27 L402.3,181.48 L405.91,184.92 L409.51,188.58 L413.11,192.41 L416.72,196.39 L420.32,200.48 L423.92,204.65 L427.53,208.88 L431.13,213.12 L434.73,217.35 L438.34,221.54 L441.94,225.66 L445.54,229.69 L449.15,233.59 L452.75,237.35 L456.35,240.94 L459.96,244.35 L463.56,247.56 L467.16,250.55 L470.77,253.33 L474.37,255.87 L477.97,258.19 L481.58,260.28 L485.18,262.16 L488.78,263.83 L492.39,265.31 L495.99,266.62 L499.59,267.79 L503.2,268.84 L506.8,269.81 L510.4,270.72 L514.01,271.62 L517.61,272.55 L521.21,273.54 L524.82,274.63 L528.42,275.87 L532.02,277.29 L535.63,278.92 L539.23,280.8 L542.83,282.96 L546.44,285.42 L550.04,288.2 L553.64,291.32 L557.25,294.79 L560.85,298.61 L564.45,302.78 L568.06,307.29 L571.66,312.14 L575.26,317.31 L578.87,322.77 L582.47,328.5 L586.07,334.47 L589.68,340.65 L593.28,347 L596.88,353.49 L600.49,360.08 L604.09,366.73 L607.69,373.41 L611.3,380.07 L614.9,386.68 L618.5,393.2 L622.11,399.6 L625.71,405.86 L629.31,411.94 L632.92,417.83 L636.52,423.49 L640.12,428.91 L643.73,434.09 L647.33,439 L650.93,443.64 L654.54,448 L658.14,452.09 L661.74,455.9 L665.35,459.43 L668.95,462.7 L672.55,465.7 L676.16,468.46 L679.76,470.97 L683.36,473.25 L686.97,475.31 L690.57,477.17 L694.17,478.83 L697.78,480.32 L701.38,481.64 L704.98,482.81 L708.59,483.85 L712.19,484.75 L715.79,485.54 L719.4,486.23 L723,486.83"/>
<path d="M150.07,467.22 L153.67,465.22 L157.27,463.1 L160.88,460.86 L164.48,458.49 L168.08,455.99 L171.69,453.36 L175.29,450.59 L178.89,447.69 L182.5,444.65 L186.1,441.46 L189.7,438.13 L193.31,434.65 L196.91,431.01 L200.51,427.23 L204.12,423.28 L207.72,419.18 L211.32,414.91 L214.93,410.48 L218.53,405.88 L222.13,401.12 L225.74,396.18 L229.34,391.08 L232.94,385.81 L236.55,380.36 L240.15,374.75 L243.75,368.97 L247.36,363.03 L250.96,356.94 L254.57,350.69 L258.17,344.31 L261.77,337.79 L265.38,331.15 L268.98,324.4 L272.58,317.56 L276.19,310.65 L279.79,303.68 L283.39,296.67 L287,289.66 L290.6,282.66 L294.2,275.7 L297.81,268.82 L301.41,262.03 L305.01,255.38 L308.62,248.89 L312.22,242.6 L315.82,236.54 L319.43,230.74 L323.03,225.24 L326.63,220.06 L330.24,215.24 L333.84,210.79 L337.44,206.75 L341.05,203.14 L344.65,199.98 L348.25,197.27 L351.86,195.04 L355.46,193.28 L359.06,192 L362.67,191.2 L366.27,190.88 L369.87,191.01 L373.48,191.59 L377.08,192.59 L380.68,194 L384.29,195.78 L387.89,197.9 L391.49,200.34 L395.1,203.06 L398.7,206.01 L402.3,209.17 L405.91,212.49 L409.51,215.93 L413.11,219.45 L416.72,223.03 L420.32,226.61 L423.92,230.16 L427.53,233.65 L431.13,237.06 L434.73,240.34 L438.34,243.49 L441.94,246.47 L445.54,249.27 L449.15,251.88 L452.75,254.29 L456.35,256.49 L459.96,258.47 L463.56,260.24 L467.16,261.8 L470.77,263.17 L474.37,264.34 L477.97,265.33 L481.58,266.17 L485.18,266.86 L488.78,267.44 L492.39,267.91 L495.99,268.31 L499.59,268.66 L503.2,268.98 L506.8,269.31 L510.4,269.67 L514.01,270.08 L517.61,270.58 L521.21,271.19 L524.82,271.94 L528.42,272.85 L532.02,273.94 L535.63,275.24 L539.23,276.76 L542.83,278.51 L546.44,280.53 L550.04,282.81 L553.64,285.36 L557.25,288.19 L560.85,291.3 L564.45,294.7 L568.06,298.37 L571.66,302.32 L575.26,306.53 L578.87,310.98 L582.47,315.68 L586.07,320.59 L589.68,325.7 L593.28,330.99 L596.88,336.43 L600.49,342 L604.09,347.68 L607.69,353.44 L611.3,359.26 L614.9,365.1 L618.5,370.95 L622.11,376.78 L625.71,382.57 L629.31,388.29 L632.92,393.92 L636.52,399.45 L640.12,404.85 L643.73,410.12 L647.33,415.23 L650.93,420.17 L654.54,424.94 L658.14,429.52 L661.74,433.9 L665.35,438.09 L668.95,442.08 L672.55,445.87 L676.16,449.45 L679.76,452.83 L683.36,456 L686.97,458.99 L690.57,461.77 L694.17,464.37 L697.78,466.79 L701.38,469.04 L704.98,471.11 L708.59,473.02 L712.19,474.78 L715.79,476.39 L719.4,477.87 L723,479.21"/>
<path d="M150.07,471.19 L153.67,469.2 L157.27,467.09 L160.88,464.83 L164.48,462.44 L168.08,459.92 L171.69,457.25 L175.29,454.46 L178.89,451.53 L182.5,448.47 L186.1,445.29 L189.7,441.99 L193.31,438.58 L196.91,435.05 L200.51,431.41 L204.12,427.67 L207.72,423.83 L211.32,419.89 L214.93,415.86 L218.53,411.74 L222.13,407.53 L225.74,403.22 L229.34,398.83 L232.94,394.34 L236.55,389.76 L240.15,385.08 L243.75,380.3 L247.36,375.4 L250.96,370.39 L254.57,365.26 L258.17,360 L261.77,354.61 L265.38,349.07 L268.98,343.39 L272.58,337.55 L276.19,331.57 L279.79,325.43 L283.39,319.13 L287,312.68 L290.6,306.09 L294.2,299.36 L297.81,292.51 L301.41,285.55 L305.01,278.5 L308.62,271.38 L312.22,264.22 L315.82,257.04 L319.43,249.88 L323.03,242.78 L326.63,235.77 L330.24,228.88 L333.84,222.17 L337.44,215.66 L341.05,209.41 L344.65,203.45 L348.25,197.82 L351.86,192.56 L355.46,187.72 L359.06,183.31 L362.67,179.37 L366.27,175.93 L369.87,173.01 L373.48,170.62 L377.08,168.77 L380.68,167.47 L384.29,166.71 L387.89,166.49 L391.49,166.8 L395.1,167.62 L398.7,168.92 L402.3,170.68 L405.91,172.86 L409.51,175.43 L413.11,178.34 L416.72,181.56 L420.32,185.03 L423.92,188.72 L427.53,192.57 L431.13,196.55 L434.73,200.6 L438.34,204.69 L441.94,208.78 L445.54,212.82 L449.15,216.78 L452.75,220.65 L456.35,224.38 L459.96,227.97 L463.56,231.4 L467.16,234.65 L470.77,237.74 L474.37,240.64 L477.97,243.39 L481.58,245.97 L485.18,248.41 L488.78,250.72 L492.39,252.93 L495.99,255.06 L499.59,257.13 L503.2,259.18 L506.8,261.22 L510.4,263.29 L514.01,265.42 L517.61,267.62 L521.21,269.93 L524.82,272.37 L528.42,274.95 L532.02,277.7 L535.63,280.62 L539.23,283.74 L542.83,287.04 L546.44,290.55 L550.04,294.26 L553.64,298.17 L557.25,302.26 L560.85,306.54 L564.45,311 L568.06,315.61 L571.66,320.36 L575.26,325.24 L578.87,330.23 L582.47,335.3 L586.07,340.45 L589.68,345.65 L593.28,350.87 L596.88,356.12 L600.49,361.35 L604.09,366.57 L607.69,371.75 L611.3,376.88 L614.9,381.94 L618.5,386.93 L622.11,391.83 L625.71,396.63 L629.31,401.33 L632.92,405.93 L636.52,410.4 L640.12,414.76 L643.73,418.99 L647.33,423.09 L650.93,427.06 L654.54,430.91 L658.14,434.61 L661.74,438.18 L665.35,441.62 L668.95,444.92 L672.55,448.08 L676.16,451.11 L679.76,453.99 L683.36,456.75 L686.97,459.36 L690.57,461.84 L694.17,464.19 L697.78,466.4 L701.38,468.48 L704.98,470.44 L708.59,472.26 L712.19,473.97 L715.79,475.55 L719.4,477.02 L723,478.38"/>
<path d="M150.07,462.84 L153.67,460.63 L157.27,458.33 L160.88,455.95 L164.48,453.48 L168.08,450.92 L171.69,448.29 L175.29,445.58 L178.89,442.79 L182.5,439.93 L186.1,436.99 L189.7,433.98 L193.31,430.89 L196.91,427.73 L200.51,424.5 L204.12,421.18 L207.72,417.78 L211.32,414.29 L214.93,410.71 L218.53,407.05 L222.13,403.29 L225.74,399.43 L229.34,395.47 L232.94,391.42 L236.55,387.27 L240.15,383.03 L243.75,378.69 L247.36,374.26 L250.96,369.74 L254.57,365.16 L258.17,360.5 L261.77,355.78 L265.38,351.02 L268.98,346.22 L272.58,341.39 L276.19,336.55 L279.79,331.7 L283.39,326.87 L287,322.06 L290.6,317.28 L294.2,312.54 L297.81,307.86 L301.41,303.23 L305.01,298.67 L308.62,294.17 L312.22,289.75 L315.82,285.4 L319.43,281.13 L323.03,276.92 L326.63,272.78 L330.24,268.7 L333.84,264.68 L337.44,260.71 L341.05,256.79 L344.65,252.91 L348.25,249.05 L351.86,245.22 L355.46,241.42 L359.06,237.62 L362.67,233.84 L366.27,230.06 L369.87,226.3 L373.48,222.53 L377.08,218.78 L380.68,215.04 L384.29,211.31 L387.89,207.61 L391.49,203.95 L395.1,200.34 L398.7,196.8 L402.3,193.33 L405.91,189.97 L409.51,186.73 L413.11,183.63 L416.72,180.71 L420.32,177.98 L423.92,175.48 L427.53,173.23 L431.13,171.26 L434.73,169.61 L438.34,168.3 L441.94,167.35 L445.54,166.79 L449.15,166.65 L452.75,166.95 L456.35,167.69 L459.96,168.9 L463.56,170.59 L467.16,172.75 L470.77,175.38 L474.37,178.49 L477.97,182.05 L481.58,186.06 L485.18,190.48 L488.78,195.3 L492.39,200.49 L495.99,206.01 L499.59,211.82 L503.2,217.88 L506.8,224.16 L510.4,230.61 L514.01,237.19 L517.61,243.86 L521.21,250.57 L524.82,257.28 L528.42,263.97 L532.02,270.6 L535.63,277.13 L539.23,283.55 L542.83,289.83 L546.44,295.95 L550.04,301.91 L553.64,307.7 L557.25,313.31 L560.85,318.75 L564.45,324.01 L568.06,329.11 L571.66,334.06 L575.26,338.87 L578.87,343.56 L582.47,348.13 L586.07,352.61 L589.68,357.01 L593.28,361.35 L596.88,365.64 L600.49,369.89 L604.09,374.11 L607.69,378.32 L611.3,382.52 L614.9,386.72 L618.5,390.91 L622.11,395.1 L625.71,399.28 L629.31,403.46 L632.92,407.62 L636.52,411.75 L640.12,415.86 L643.73,419.92 L647.33,423.93 L650.93,427.87 L654.54,431.74 L658.14,435.52 L661.74,439.2 L665.35,442.78 L668.95,446.23 L672.55,449.55 L676.16,452.74 L679.76,455.78 L683.36,458.68 L686.97,461.42 L690.57,464.01 L694.17,466.45 L697.78,468.73 L701.38,470.85 L704.98,472.82 L708.59,474.64 L712.19,476.32 L715.79,477.86 L719.4,479.26 L723,480.54"/>
<path d="M150.07,459.85 L153.67,457.23 L157.27,454.49 L160.88,451.61 L164.48,448.61 L168.08,445.5 L171.69,442.27 L175.29,438.93 L178.89,435.48 L182.5,431.94 L186.1,428.31 L189.7,424.58 L193.31,420.77 L196.91,416.89 L200.51,412.92 L204.12,408.89 L207.72,404.8 L211.32,400.64 L214.93,396.42 L218.53,392.14 L222.13,387.8 L225.74,383.41 L229.34,378.96 L232.94,374.45 L236.55,369.89 L240.15,365.27 L243.75,360.59 L247.36,355.85 L250.96,351.06 L254.57,346.21 L258.17,341.3 L261.77,336.33 L265.38,331.31 L268.98,326.24 L272.58,321.12 L276.19,315.96 L279.79,310.75 L283.39,305.52 L287,300.26 L290.6,294.98 L294.2,289.7 L297.81,284.43 L301.41,279.16 L305.01,273.93 L308.62,268.74 L312.22,263.61 L315.82,258.55 L319.43,253.57 L323.03,248.7 L326.63,243.95 L330.24,239.34 L333.84,234.88 L337.44,230.58 L341.05,226.48 L344.65,222.58 L348.25,218.89 L351.86,215.44 L355.46,212.23 L359.06,209.28 L362.67,206.6 L366.27,204.2 L369.87,202.07 L373.48,200.24 L377.08,198.7 L380.68,197.46 L384.29,196.5 L387.89,195.83 L391.49,195.44 L395.1,195.33 L398.7,195.47 L402.3,195.86 L405.91,196.49 L409.51,197.33 L413.11,198.36 L416.72,199.58 L420.32,200.96 L423.92,202.47 L427.53,204.11 L431.13,205.84 L434.73,207.66 L438.34,209.54 L441.94,211.47 L445.54,213.43 L449.15,215.41 L452.75,217.41 L456.35,219.41 L459.96,221.41 L463.56,223.41 L467.16,225.41 L470.77,227.41 L474.37,229.42 L477.97,231.44 L481.58,233.49 L485.18,235.57 L488.78,237.71 L492.39,239.9 L495.99,242.18 L499.59,244.55 L503.2,247.02 L506.8,249.62 L510.4,252.35 L514.01,255.23 L517.61,258.28 L521.21,261.49 L524.82,264.88 L528.42,268.46 L532.02,272.23 L535.63,276.19 L539.23,280.34 L542.83,284.68 L546.44,289.2 L550.04,293.9 L553.64,298.77 L557.25,303.8 L560.85,308.97 L564.45,314.27 L568.06,319.68 L571.66,325.2 L575.26,330.79 L578.87,336.45 L582.47,342.15 L586.07,347.88 L589.68,353.61 L593.28,359.33 L596.88,365.02 L600.49,370.66 L604.09,376.24 L607.69,381.75 L611.3,387.16 L614.9,392.46 L618.5,397.64 L622.11,402.7 L625.71,407.62 L629.31,412.39 L632.92,417.01 L636.52,421.48 L640.12,425.78 L643.73,429.91 L647.33,433.88 L650.93,437.67 L654.54,441.3 L658.14,444.76 L661.74,448.05 L665.35,451.18 L668.95,454.14 L672.55,456.94 L676.16,459.58 L679.76,462.07 L683.36,464.41 L686.97,466.61 L690.57,468.66 L694.17,470.58 L697.78,472.37 L701.38,474.03 L704.98,475.57 L708.59,477 L712.19,478.32 L715.79,479.53 L719.4,480.64 L723,481.66"/>
<path d="M150.07,455.88 L153.67,453.21 L157.27,450.41 L160.88,447.48 L164.48,444.41 L168.08,441.21 L171.69,437.89 L175.29,434.44 L178.89,430.86 L182.5,427.17 L186.1,423.37 L189.7,419.45 L193.31,415.44 L196.91,411.34 L200.51,407.16 L204.12,402.9 L207.72,398.58 L211.32,394.2 L214.93,389.79 L218.53,385.34 L222.13,380.88 L225.74,376.41 L229.34,371.95 L232.94,367.5 L236.55,363.08 L240.15,358.7 L243.75,354.37 L247.36,350.11 L250.96,345.91 L254.57,341.78 L258.17,337.74 L261.77,333.78 L265.38,329.91 L268.98,326.14 L272.58,322.45 L276.19,318.86 L279.79,315.36 L283.39,311.95 L287,308.62 L290.6,305.37 L294.2,302.19 L297.81,299.07 L301.41,296.01 L305.01,293.01 L308.62,290.05 L312.22,287.12 L315.82,284.23 L319.43,281.37 L323.03,278.52 L326.63,275.69 L330.24,272.88 L333.84,270.08 L337.44,267.3 L341.05,264.53 L344.65,261.78 L348.25,259.05 L351.86,256.35 L355.46,253.69 L359.06,251.06 L362.67,248.5 L366.27,245.99 L369.87,243.55 L373.48,241.2 L377.08,238.93 L380.68,236.77 L384.29,234.71 L387.89,232.78 L391.49,230.97 L395.1,229.3 L398.7,227.76 L402.3,226.37 L405.91,225.13 L409.51,224.04 L413.11,223.11 L416.72,222.32 L420.32,221.68 L423.92,221.2 L427.53,220.86 L431.13,220.66 L434.73,220.6 L438.34,220.67 L441.94,220.87 L445.54,221.2 L449.15,221.64 L452.75,222.19 L456.35,222.86 L459.96,223.63 L463.56,224.51 L467.16,225.49 L470.77,226.56 L474.37,227.74 L477.97,229.02 L481.58,230.39 L485.18,231.87 L488.78,233.46 L492.39,235.15 L495.99,236.96 L499.59,238.88 L503.2,240.92 L506.8,243.08 L510.4,245.38 L514.01,247.81 L517.61,250.37 L521.21,253.08 L524.82,255.93 L528.42,258.93 L532.02,262.08 L535.63,265.38 L539.23,268.83 L542.83,272.44 L546.44,276.19 L550.04,280.1 L553.64,284.15 L557.25,288.34 L560.85,292.67 L564.45,297.13 L568.06,301.72 L571.66,306.42 L575.26,311.23 L578.87,316.15 L582.47,321.15 L586.07,326.23 L589.68,331.39 L593.28,336.6 L596.88,341.85 L600.49,347.14 L604.09,352.45 L607.69,357.77 L611.3,363.08 L614.9,368.38 L618.5,373.65 L622.11,378.87 L625.71,384.05 L629.31,389.15 L632.92,394.18 L636.52,399.13 L640.12,403.97 L643.73,408.71 L647.33,413.33 L650.93,417.82 L654.54,422.19 L658.14,426.41 L661.74,430.5 L665.35,434.43 L668.95,438.21 L672.55,441.83 L676.16,445.3 L679.76,448.6 L683.36,451.75 L686.97,454.73 L690.57,457.56 L694.17,460.22 L697.78,462.73 L701.38,465.09 L704.98,467.3 L708.59,469.36 L712.19,471.28 L715.79,473.07 L719.4,474.72 L723,476.25"/>
<path d="M150.07,474.11 L153.67,472.1 L157.27,469.92 L160.88,467.55 L164.48,464.98 L168.08,462.22 L171.69,459.26 L175.29,456.1 L178.89,452.74 L182.5,449.18 L186.1,445.41 L189.7,441.45 L193.31,437.29 L196.91,432.95 L200.51,428.43 L204.12,423.73 L207.72,418.86 L211.32,413.84 L214.93,408.66 L218.53,403.34 L222.13,397.88 L225.74,392.29 L229.34,386.59 L232.94,380.76 L236.55,374.83 L240.15,368.8 L243.75,362.66 L247.36,356.44 L250.96,350.12 L254.57,343.71 L258.17,337.22 L261.77,330.66 L265.38,324.02 L268.98,317.31 L272.58,310.55 L276.19,303.74 L279.79,296.89 L283.39,290.02 L287,283.14 L290.6,276.28 L294.2,269.46 L297.81,262.69 L301.41,256.02 L305.01,249.46 L308.62,243.06 L312.22,236.84 L315.82,230.84 L319.43,225.1 L323.03,219.65 L326.63,214.52 L330.24,209.75 L333.84,205.37 L337.44,201.41 L341.05,197.88 L344.65,194.82 L348.25,192.23 L351.86,190.13 L355.46,188.52 L359.06,187.4 L362.67,186.76 L366.27,186.58 L369.87,186.86 L373.48,187.56 L377.08,188.65 L380.68,190.11 L384.29,191.89 L387.89,193.95 L391.49,196.25 L395.1,198.75 L398.7,201.39 L402.3,204.14 L405.91,206.95 L409.51,209.78 L413.11,212.58 L416.72,215.32 L420.32,217.96 L423.92,220.48 L427.53,222.84 L431.13,225.03 L434.73,227.03 L438.34,228.83 L441.94,230.42 L445.54,231.81 L449.15,233 L452.75,233.99 L456.35,234.8 L459.96,235.46 L463.56,235.97 L467.16,236.37 L470.77,236.68 L474.37,236.94 L477.97,237.17 L481.58,237.41 L485.18,237.69 L488.78,238.05 L492.39,238.52 L495.99,239.13 L499.59,239.92 L503.2,240.91 L506.8,242.13 L510.4,243.61 L514.01,245.37 L517.61,247.42 L521.21,249.78 L524.82,252.46 L528.42,255.47 L532.02,258.81 L535.63,262.48 L539.23,266.47 L542.83,270.78 L546.44,275.39 L550.04,280.3 L553.64,285.48 L557.25,290.91 L560.85,296.57 L564.45,302.43 L568.06,308.48 L571.66,314.68 L575.26,321.01 L578.87,327.44 L582.47,333.95 L586.07,340.49 L589.68,347.06 L593.28,353.63 L596.88,360.16 L600.49,366.64 L604.09,373.04 L607.69,379.35 L611.3,385.55 L614.9,391.62 L618.5,397.54 L622.11,403.29 L625.71,408.88 L629.31,414.28 L632.92,419.49 L636.52,424.5 L640.12,429.31 L643.73,433.9 L647.33,438.28 L650.93,442.44 L654.54,446.38 L658.14,450.11 L661.74,453.62 L665.35,456.91 L668.95,460 L672.55,462.87 L676.16,465.55 L679.76,468.03 L683.36,470.32 L686.97,472.43 L690.57,474.36 L694.17,476.13 L697.78,477.74 L701.38,479.2 L704.98,480.52 L708.59,481.71 L712.19,482.78 L715.79,483.73 L719.4,484.58 L723,485.34"/>
<path d="M150.07,464.96 L153.67,462.98 L157.27,460.88 L160.88,458.64 L164.48,456.27 L168.08,453.75 L171.69,451.08 L175.29,448.25 L178.89,445.25 L182.5,442.06 L186.1,438.69 L189.7,435.13 L193.31,431.36 L196.91,427.39 L200.51,423.21 L204.12,418.82 L207.72,414.21 L211.32,409.38 L214.93,404.34 L218.53,399.1 L222.13,393.65 L225.74,388.01 L229.34,382.2 L232.94,376.22 L236.55,370.09 L240.15,363.84 L243.75,357.49 L247.36,351.06 L250.96,344.57 L254.57,338.06 L258.17,331.55 L261.77,325.09 L265.38,318.68 L268.98,312.38 L272.58,306.21 L276.19,300.19 L279.79,294.36 L283.39,288.75 L287,283.37 L290.6,278.26 L294.2,273.43 L297.81,268.89 L301.41,264.66 L305.01,260.76 L308.62,257.18 L312.22,253.92 L315.82,250.99 L319.43,248.39 L323.03,246.09 L326.63,244.09 L330.24,242.38 L333.84,240.93 L337.44,239.73 L341.05,238.76 L344.65,237.99 L348.25,237.41 L351.86,236.98 L355.46,236.68 L359.06,236.49 L362.67,236.38 L366.27,236.34 L369.87,236.34 L373.48,236.35 L377.08,236.37 L380.68,236.37 L384.29,236.34 L387.89,236.27 L391.49,236.15 L395.1,235.97 L398.7,235.72 L402.3,235.41 L405.91,235.02 L409.51,234.57 L413.11,234.05 L416.72,233.48 L420.32,232.85 L423.92,232.17 L427.53,231.46 L431.13,230.73 L434.73,229.98 L438.34,229.24 L441.94,228.52 L445.54,227.84 L449.15,227.2 L452.75,226.64 L456.35,226.16 L459.96,225.79 L463.56,225.53 L467.16,225.42 L470.77,225.46 L474.37,225.68 L477.97,226.08 L481.58,226.68 L485.18,227.5 L488.78,228.55 L492.39,229.83 L495.99,231.36 L499.59,233.14 L503.2,235.18 L506.8,237.47 L510.4,240.03 L514.01,242.85 L517.61,245.92 L521.21,249.24 L524.82,252.8 L528.42,256.6 L532.02,260.62 L535.63,264.84 L539.23,269.26 L542.83,273.86 L546.44,278.62 L550.04,283.53 L553.64,288.57 L557.25,293.72 L560.85,298.96 L564.45,304.28 L568.06,309.65 L571.66,315.07 L575.26,320.51 L578.87,325.95 L582.47,331.4 L586.07,336.82 L589.68,342.22 L593.28,347.57 L596.88,352.87 L600.49,358.1 L604.09,363.27 L607.69,368.36 L611.3,373.37 L614.9,378.29 L618.5,383.11 L622.11,387.84 L625.71,392.47 L629.31,397 L632.92,401.42 L636.52,405.74 L640.12,409.95 L643.73,414.05 L647.33,418.03 L650.93,421.91 L654.54,425.68 L658.14,429.33 L661.74,432.86 L665.35,436.28 L668.95,439.58 L672.55,442.77 L676.16,445.83 L679.76,448.78 L683.36,451.6 L686.97,454.31 L690.57,456.89 L694.17,459.36 L697.78,461.7 L701.38,463.93 L704.98,466.03 L708.59,468.02 L712.19,469.9 L715.79,471.66 L719.4,473.31 L723,474.85"/>
<path d="M150.07,470.39 L153.67,468.44 L157.27,466.38 L160.88,464.2 L164.48,461.89 L168.08,459.47 L171.69,456.93 L175.29,454.26 L178.89,451.49 L182.5,448.59 L186.1,445.59 L189.7,442.47 L193.31,439.24 L196.91,435.9 L200.51,432.45 L204.12,428.89 L207.72,425.22 L211.32,421.45 L214.93,417.55 L218.53,413.55 L222.13,409.42 L225.74,405.17 L229.34,400.8 L232.94,396.28 L236.55,391.62 L240.15,386.8 L243.75,381.82 L247.36,376.66 L250.96,371.31 L254.57,365.75 L258.17,359.98 L261.77,353.98 L265.38,347.74 L268.98,341.24 L272.58,334.47 L276.19,327.42 L279.79,320.09 L283.39,312.46 L287,304.54 L290.6,296.33 L294.2,287.84 L297.81,279.08 L301.41,270.06 L305.01,260.82 L308.62,251.37 L312.22,241.77 L315.82,232.05 L319.43,222.26 L323.03,212.47 L326.63,202.72 L330.24,193.11 L333.84,183.68 L337.44,174.53 L341.05,165.73 L344.65,157.37 L348.25,149.51 L351.86,142.25 L355.46,135.65 L359.06,129.78 L362.67,124.72 L366.27,120.51 L369.87,117.22 L373.48,114.86 L377.08,113.48 L380.68,113.09 L384.29,113.69 L387.89,115.29 L391.49,117.85 L395.1,121.34 L398.7,125.73 L402.3,130.96 L405.91,136.96 L409.51,143.67 L413.11,151 L416.72,158.87 L420.32,167.19 L423.92,175.87 L427.53,184.81 L431.13,193.92 L434.73,203.11 L438.34,212.29 L441.94,221.37 L445.54,230.28 L449.15,238.94 L452.75,247.3 L456.35,255.29 L459.96,262.86 L463.56,269.98 L467.16,276.62 L470.77,282.74 L474.37,288.35 L477.97,293.44 L481.58,298 L485.18,302.06 L488.78,305.62 L492.39,308.71 L495.99,311.36 L499.59,313.61 L503.2,315.49 L506.8,317.05 L510.4,318.32 L514.01,319.36 L517.61,320.22 L521.21,320.93 L524.82,321.55 L528.42,322.13 L532.02,322.71 L535.63,323.33 L539.23,324.03 L542.83,324.86 L546.44,325.85 L550.04,327.02 L553.64,328.41 L557.25,330.03 L560.85,331.9 L564.45,334.04 L568.06,336.45 L571.66,339.12 L575.26,342.07 L578.87,345.28 L582.47,348.74 L586.07,352.43 L589.68,356.33 L593.28,360.42 L596.88,364.67 L600.49,369.05 L604.09,373.54 L607.69,378.09 L611.3,382.69 L614.9,387.3 L618.5,391.89 L622.11,396.43 L625.71,400.9 L629.31,405.26 L632.92,409.51 L636.52,413.62 L640.12,417.58 L643.73,421.37 L647.33,424.99 L650.93,428.44 L654.54,431.7 L658.14,434.79 L661.74,437.7 L665.35,440.45 L668.95,443.03 L672.55,445.46 L676.16,447.76 L679.76,449.92 L683.36,451.97 L686.97,453.91 L690.57,455.75 L694.17,457.52 L697.78,459.2 L701.38,460.83 L704.98,462.39 L708.59,463.9 L712.19,465.37 L715.79,466.79 L719.4,468.18 L723,469.53"/>
<path d="M150.07,470.4 L153.67,468.32 L157.27,466.09 L160.88,463.69 L164.48,461.14 L168.08,458.43 L171.69,455.55 L175.29,452.5 L178.89,449.29 L182.5,445.92 L186.1,442.38 L189.7,438.68 L193.31,434.83 L196.91,430.83 L200.51,426.68 L204.12,422.39 L207.72,417.96 L211.32,413.41 L214.93,408.75 L218.53,403.97 L222.13,399.09 L225.74,394.12 L229.34,389.07 L232.94,383.95 L236.55,378.77 L240.15,373.53 L243.75,368.26 L247.36,362.95 L250.96,357.62 L254.57,352.28 L258.17,346.95 L261.77,341.62 L265.38,336.3 L268.98,331.02 L272.58,325.76 L276.19,320.55 L279.79,315.39 L283.39,310.29 L287,305.26 L290.6,300.29 L294.2,295.4 L297.81,290.6 L301.41,285.88 L305.01,281.26 L308.62,276.74 L312.22,272.32 L315.82,268 L319.43,263.8 L323.03,259.72 L326.63,255.77 L330.24,251.93 L333.84,248.23 L337.44,244.67 L341.05,241.25 L344.65,237.98 L348.25,234.86 L351.86,231.91 L355.46,229.11 L359.06,226.49 L362.67,224.05 L366.27,221.79 L369.87,219.72 L373.48,217.85 L377.08,216.18 L380.68,214.71 L384.29,213.45 L387.89,212.41 L391.49,211.58 L395.1,210.96 L398.7,210.57 L402.3,210.39 L405.91,210.42 L409.51,210.66 L413.11,211.11 L416.72,211.75 L420.32,212.59 L423.92,213.61 L427.53,214.8 L431.13,216.15 L434.73,217.65 L438.34,219.29 L441.94,221.06 L445.54,222.94 L449.15,224.92 L452.75,226.98 L456.35,229.12 L459.96,231.32 L463.56,233.57 L467.16,235.86 L470.77,238.18 L474.37,240.53 L477.97,242.89 L481.58,245.27 L485.18,247.65 L488.78,250.04 L492.39,252.43 L495.99,254.82 L499.59,257.23 L503.2,259.63 L506.8,262.05 L510.4,264.48 L514.01,266.94 L517.61,269.42 L521.21,271.92 L524.82,274.47 L528.42,277.06 L532.02,279.69 L535.63,282.38 L539.23,285.13 L542.83,287.94 L546.44,290.82 L550.04,293.77 L553.64,296.8 L557.25,299.9 L560.85,303.08 L564.45,306.34 L568.06,309.68 L571.66,313.1 L575.26,316.59 L578.87,320.17 L582.47,323.81 L586.07,327.53 L589.68,331.31 L593.28,335.16 L596.88,339.06 L600.49,343.03 L604.09,347.04 L607.69,351.11 L611.3,355.21 L614.9,359.35 L618.5,363.52 L622.11,367.72 L625.71,371.93 L629.31,376.16 L632.92,380.39 L636.52,384.62 L640.12,388.85 L643.73,393.06 L647.33,397.25 L650.93,401.41 L654.54,405.53 L658.14,409.6 L661.74,413.63 L665.35,417.59 L668.95,421.48 L672.55,425.3 L676.16,429.03 L679.76,432.67 L683.36,436.22 L686.97,439.66 L690.57,442.98 L694.17,446.2 L697.78,449.29 L701.38,452.26 L704.98,455.1 L708.59,457.82 L712.19,460.39 L715.79,462.84 L719.4,465.15 L723,467.33"/>
<path d="M150.07,475.61 L153.67,474.27 L157.27,472.86 L160.88,471.37 L164.48,469.8 L168.08,468.14 L171.69,466.39 L175.29,464.55 L178.89,462.62 L182.5,460.59 L186.1,458.46 L189.7,456.21 L193.31,453.86 L196.91,451.38 L200.51,448.77 L204.12,446.03 L207.72,443.14 L211.32,440.11 L214.93,436.91 L218.53,433.56 L222.13,430.02 L225.74,426.31 L229.34,422.42 L232.94,418.33 L236.55,414.05 L240.15,409.57 L243.75,404.89 L247.36,400.02 L250.96,394.95 L254.57,389.68 L258.17,384.23 L261.77,378.6 L265.38,372.78 L268.98,366.81 L272.58,360.67 L276.19,354.39 L279.79,347.98 L283.39,341.44 L287,334.8 L290.6,328.06 L294.2,321.25 L297.81,314.37 L301.41,307.43 L305.01,300.47 L308.62,293.48 L312.22,286.49 L315.82,279.51 L319.43,272.55 L323.03,265.64 L326.63,258.79 L330.24,252.02 L333.84,245.34 L337.44,238.77 L341.05,232.35 L344.65,226.08 L348.25,219.98 L351.86,214.09 L355.46,208.43 L359.06,203.01 L362.67,197.86 L366.27,193.01 L369.87,188.49 L373.48,184.3 L377.08,180.47 L380.68,177.03 L384.29,173.99 L387.89,171.36 L391.49,169.15 L395.1,167.37 L398.7,166.02 L402.3,165.11 L405.91,164.61 L409.51,164.54 L413.11,164.86 L416.72,165.56 L420.32,166.63 L423.92,168.02 L427.53,169.72 L431.13,171.68 L434.73,173.88 L438.34,176.29 L441.94,178.86 L445.54,181.56 L449.15,184.37 L452.75,187.24 L456.35,190.15 L459.96,193.08 L463.56,196 L467.16,198.9 L470.77,201.76 L474.37,204.57 L477.97,207.35 L481.58,210.08 L485.18,212.77 L488.78,215.44 L492.39,218.11 L495.99,220.78 L499.59,223.48 L503.2,226.24 L506.8,229.07 L510.4,232.02 L514.01,235.09 L517.61,238.32 L521.21,241.73 L524.82,245.34 L528.42,249.17 L532.02,253.23 L535.63,257.53 L539.23,262.09 L542.83,266.91 L546.44,271.97 L550.04,277.29 L553.64,282.85 L557.25,288.63 L560.85,294.62 L564.45,300.8 L568.06,307.14 L571.66,313.62 L575.26,320.21 L578.87,326.87 L582.47,333.58 L586.07,340.3 L589.68,347 L593.28,353.65 L596.88,360.21 L600.49,366.66 L604.09,372.97 L607.69,379.12 L611.3,385.07 L614.9,390.82 L618.5,396.34 L622.11,401.62 L625.71,406.64 L629.31,411.41 L632.92,415.91 L636.52,420.15 L640.12,424.13 L643.73,427.85 L647.33,431.31 L650.93,434.54 L654.54,437.53 L658.14,440.31 L661.74,442.89 L665.35,445.28 L668.95,447.5 L672.55,449.56 L676.16,451.49 L679.76,453.29 L683.36,454.99 L686.97,456.59 L690.57,458.11 L694.17,459.57 L697.78,460.97 L701.38,462.33 L704.98,463.64 L708.59,464.92 L712.19,466.18 L715.79,467.41 L719.4,468.62 L723,469.81"/>
<path d="M150.07,475.41 L153.67,473.7 L157.27,471.83 L160.88,469.79 L164.48,467.58 L168.08,465.18 L171.69,462.59 L175.29,459.8 L178.89,456.81 L182.5,453.59 L186.1,450.16 L189.7,446.49 L193.31,442.6 L196.91,438.46 L200.51,434.09 L204.12,429.47 L207.72,424.61 L211.32,419.52 L214.93,414.18 L218.53,408.6 L222.13,402.8 L225.74,396.78 L229.34,390.54 L232.94,384.09 L236.55,377.46 L240.15,370.64 L243.75,363.66 L247.36,356.54 L250.96,349.29 L254.57,341.94 L258.17,334.49 L261.77,326.99 L265.38,319.45 L268.98,311.9 L272.58,304.36 L276.19,296.86 L279.79,289.44 L283.39,282.11 L287,274.91 L290.6,267.87 L294.2,261.01 L297.81,254.37 L301.41,247.97 L305.01,241.83 L308.62,236 L312.22,230.48 L315.82,225.3 L319.43,220.49 L323.03,216.06 L326.63,212.03 L330.24,208.43 L333.84,205.25 L337.44,202.51 L341.05,200.22 L344.65,198.39 L348.25,197.01 L351.86,196.08 L355.46,195.6 L359.06,195.57 L362.67,195.97 L366.27,196.79 L369.87,198.02 L373.48,199.64 L377.08,201.62 L380.68,203.95 L384.29,206.6 L387.89,209.54 L391.49,212.75 L395.1,216.2 L398.7,219.85 L402.3,223.68 L405.91,227.65 L409.51,231.73 L413.11,235.9 L416.72,240.11 L420.32,244.35 L423.92,248.58 L427.53,252.77 L431.13,256.91 L434.73,260.95 L438.34,264.89 L441.94,268.7 L445.54,272.36 L449.15,275.86 L452.75,279.18 L456.35,282.32 L459.96,285.26 L463.56,288 L467.16,290.54 L470.77,292.88 L474.37,295 L477.97,296.93 L481.58,298.66 L485.18,300.2 L488.78,301.57 L492.39,302.76 L495.99,303.8 L499.59,304.7 L503.2,305.47 L506.8,306.12 L510.4,306.69 L514.01,307.17 L517.61,307.59 L521.21,307.98 L524.82,308.34 L528.42,308.69 L532.02,309.06 L535.63,309.46 L539.23,309.91 L542.83,310.42 L546.44,311.02 L550.04,311.71 L553.64,312.51 L557.25,313.44 L560.85,314.5 L564.45,315.7 L568.06,317.05 L571.66,318.56 L575.26,320.23 L578.87,322.07 L582.47,324.07 L586.07,326.24 L589.68,328.57 L593.28,331.06 L596.88,333.71 L600.49,336.5 L604.09,339.44 L607.69,342.51 L611.3,345.69 L614.9,349 L618.5,352.4 L622.11,355.88 L625.71,359.45 L629.31,363.08 L632.92,366.76 L636.52,370.48 L640.12,374.24 L643.73,378 L647.33,381.78 L650.93,385.55 L654.54,389.31 L658.14,393.05 L661.74,396.77 L665.35,400.44 L668.95,404.07 L672.55,407.65 L676.16,411.18 L679.76,414.65 L683.36,418.05 L686.97,421.39 L690.57,424.66 L694.17,427.86 L697.78,430.98 L701.38,434.02 L704.98,436.98 L708.59,439.86 L712.19,442.66 L715.79,445.38 L719.4,448 L723,450.55"/>
<path d="M150.07,470.9 L153.67,468.82 L157.27,466.58 L160.88,464.16 L164.48,461.58 L168.08,458.81 L171.69,455.86 L175.29,452.73 L178.89,449.41 L182.5,445.9 L186.1,442.21 L189.7,438.32 L193.31,434.25 L196.91,430 L200.51,425.57 L204.12,420.97 L207.72,416.21 L211.32,411.29 L214.93,406.23 L218.53,401.04 L222.13,395.72 L225.74,390.29 L229.34,384.77 L232.94,379.17 L236.55,373.51 L240.15,367.8 L243.75,362.06 L247.36,356.31 L250.96,350.57 L254.57,344.84 L258.17,339.15 L261.77,333.52 L265.38,327.95 L268.98,322.47 L272.58,317.07 L276.19,311.78 L279.79,306.61 L283.39,301.55 L287,296.63 L290.6,291.83 L294.2,287.17 L297.81,282.64 L301.41,278.26 L305.01,274.01 L308.62,269.89 L312.22,265.91 L315.82,262.05 L319.43,258.32 L323.03,254.72 L326.63,251.23 L330.24,247.87 L333.84,244.63 L337.44,241.5 L341.05,238.5 L344.65,235.62 L348.25,232.87 L351.86,230.25 L355.46,227.77 L359.06,225.44 L362.67,223.27 L366.27,221.26 L369.87,219.43 L373.48,217.79 L377.08,216.34 L380.68,215.1 L384.29,214.07 L387.89,213.26 L391.49,212.68 L395.1,212.32 L398.7,212.18 L402.3,212.27 L405.91,212.58 L409.51,213.1 L413.11,213.81 L416.72,214.71 L420.32,215.78 L423.92,216.99 L427.53,218.33 L431.13,219.78 L434.73,221.3 L438.34,222.88 L441.94,224.49 L445.54,226.11 L449.15,227.71 L452.75,229.28 L456.35,230.78 L459.96,232.22 L463.56,233.57 L467.16,234.82 L470.77,235.98 L474.37,237.04 L477.97,238 L481.58,238.87 L485.18,239.67 L488.78,240.4 L492.39,241.1 L495.99,241.78 L499.59,242.48 L503.2,243.21 L506.8,244.01 L510.4,244.92 L514.01,245.95 L517.61,247.16 L521.21,248.55 L524.82,250.18 L528.42,252.05 L532.02,254.19 L535.63,256.63 L539.23,259.38 L542.83,262.44 L546.44,265.84 L550.04,269.56 L553.64,273.61 L557.25,277.98 L560.85,282.66 L564.45,287.63 L568.06,292.88 L571.66,298.37 L575.26,304.1 L578.87,310.02 L582.47,316.11 L586.07,322.34 L589.68,328.67 L593.28,335.08 L596.88,341.52 L600.49,347.97 L604.09,354.41 L607.69,360.79 L611.3,367.1 L614.9,373.3 L618.5,379.39 L622.11,385.33 L625.71,391.11 L629.31,396.72 L632.92,402.14 L636.52,407.37 L640.12,412.4 L643.73,417.22 L647.33,421.84 L650.93,426.24 L654.54,430.44 L658.14,434.43 L661.74,438.23 L665.35,441.82 L668.95,445.22 L672.55,448.44 L676.16,451.47 L679.76,454.34 L683.36,457.03 L686.97,459.57 L690.57,461.96 L694.17,464.2 L697.78,466.3 L701.38,468.27 L704.98,470.11 L708.59,471.84 L712.19,473.44 L715.79,474.94 L719.4,476.33 L723,477.62"/>
<path d="M150.07,450.01 L153.67,446.68 L157.27,443.29 L160.88,439.87 L164.48,436.46 L168.08,433.07 L171.69,429.73 L175.29,426.48 L178.89,423.33 L182.5,420.32 L186.1,417.45 L189.7,414.76 L193.31,412.24 L196.91,409.92 L200.51,407.79 L204.12,405.85 L207.72,404.1 L211.32,402.52 L214.93,401.09 L218.53,399.8 L222.13,398.62 L225.74,397.52 L229.34,396.47 L232.94,395.44 L236.55,394.38 L240.15,393.28 L243.75,392.08 L247.36,390.77 L250.96,389.3 L254.57,387.66 L258.17,385.81 L261.77,383.73 L265.38,381.42 L268.98,378.84 L272.58,375.99 L276.19,372.88 L279.79,369.49 L283.39,365.82 L287,361.89 L290.6,357.7 L294.2,353.26 L297.81,348.59 L301.41,343.69 L305.01,338.59 L308.62,333.3 L312.22,327.85 L315.82,322.24 L319.43,316.49 L323.03,310.63 L326.63,304.68 L330.24,298.64 L333.84,292.53 L337.44,286.37 L341.05,280.17 L344.65,273.94 L348.25,267.69 L351.86,261.43 L355.46,255.17 L359.06,248.91 L362.67,242.65 L366.27,236.4 L369.87,230.16 L373.48,223.93 L377.08,217.72 L380.68,211.52 L384.29,205.35 L387.89,199.21 L391.49,193.1 L395.1,187.03 L398.7,181.02 L402.3,175.09 L405.91,169.25 L409.51,163.52 L413.11,157.94 L416.72,152.54 L420.32,147.34 L423.92,142.39 L427.53,137.72 L431.13,133.37 L434.73,129.4 L438.34,125.83 L441.94,122.71 L445.54,120.08 L449.15,117.98 L452.75,116.44 L456.35,115.5 L459.96,115.17 L463.56,115.49 L467.16,116.46 L470.77,118.1 L474.37,120.41 L477.97,123.39 L481.58,127.04 L485.18,131.34 L488.78,136.26 L492.39,141.8 L495.99,147.93 L499.59,154.6 L503.2,161.79 L506.8,169.46 L510.4,177.58 L514.01,186.09 L517.61,194.95 L521.21,204.12 L524.82,213.57 L528.42,223.23 L532.02,233.07 L535.63,243.04 L539.23,253.1 L542.83,263.21 L546.44,273.33 L550.04,283.41 L553.64,293.43 L557.25,303.35 L560.85,313.13 L564.45,322.74 L568.06,332.16 L571.66,341.36 L575.26,350.32 L578.87,359.02 L582.47,367.44 L586.07,375.56 L589.68,383.38 L593.28,390.88 L596.88,398.07 L600.49,404.92 L604.09,411.44 L607.69,417.64 L611.3,423.5 L614.9,429.04 L618.5,434.25 L622.11,439.15 L625.71,443.74 L629.31,448.03 L632.92,452.03 L636.52,455.74 L640.12,459.18 L643.73,462.36 L647.33,465.29 L650.93,467.98 L654.54,470.44 L658.14,472.69 L661.74,474.73 L665.35,476.58 L668.95,478.25 L672.55,479.75 L676.16,481.1 L679.76,482.3 L683.36,483.37 L686.97,484.31 L690.57,485.15 L694.17,485.88 L697.78,486.52 L701.38,487.07 L704.98,487.55 L708.59,487.96 L712.19,488.32 L715.79,488.62 L719.4,488.88 L723,489.1"/>
<path d="M150.07,458.8 L153.67,455.62 L157.27,452.3 L160.88,448.86 L164.48,445.32 L168.08,441.69 L171.69,438.01 L175.29,434.29 L178.89,430.58 L182.5,426.89 L186.1,423.25 L189.7,419.7 L193.31,416.24 L196.91,412.92 L200.51,409.74 L204.12,406.73 L207.72,403.89 L211.32,401.24 L214.93,398.79 L218.53,396.52 L222.13,394.44 L225.74,392.53 L229.34,390.79 L232.94,389.19 L236.55,387.7 L240.15,386.32 L243.75,384.99 L247.36,383.7 L250.96,382.41 L254.57,381.08 L258.17,379.69 L261.77,378.19 L265.38,376.55 L268.98,374.74 L272.58,372.73 L276.19,370.48 L279.79,367.98 L283.39,365.18 L287,362.07 L290.6,358.63 L294.2,354.84 L297.81,350.69 L301.41,346.15 L305.01,341.22 L308.62,335.9 L312.22,330.18 L315.82,324.07 L319.43,317.57 L323.03,310.69 L326.63,303.45 L330.24,295.87 L333.84,287.97 L337.44,279.8 L341.05,271.39 L344.65,262.79 L348.25,254.05 L351.86,245.23 L355.46,236.39 L359.06,227.59 L362.67,218.91 L366.27,210.42 L369.87,202.18 L373.48,194.27 L377.08,186.75 L380.68,179.68 L384.29,173.13 L387.89,167.14 L391.49,161.75 L395.1,156.99 L398.7,152.89 L402.3,149.45 L405.91,146.67 L409.51,144.55 L413.11,143.06 L416.72,142.17 L420.32,141.86 L423.92,142.07 L427.53,142.77 L431.13,143.9 L434.73,145.43 L438.34,147.31 L441.94,149.5 L445.54,151.95 L449.15,154.64 L452.75,157.55 L456.35,160.64 L459.96,163.92 L463.56,167.36 L467.16,170.98 L470.77,174.77 L474.37,178.73 L477.97,182.88 L481.58,187.22 L485.18,191.76 L488.78,196.5 L492.39,201.44 L495.99,206.58 L499.59,211.91 L503.2,217.43 L506.8,223.11 L510.4,228.93 L514.01,234.86 L517.61,240.89 L521.21,246.98 L524.82,253.1 L528.42,259.22 L532.02,265.32 L535.63,271.35 L539.23,277.32 L542.83,283.18 L546.44,288.94 L550.04,294.59 L553.64,300.12 L557.25,305.53 L560.85,310.83 L564.45,316.04 L568.06,321.17 L571.66,326.23 L575.26,331.25 L578.87,336.24 L582.47,341.23 L586.07,346.23 L589.68,351.27 L593.28,356.34 L596.88,361.47 L600.49,366.66 L604.09,371.91 L607.69,377.21 L611.3,382.57 L614.9,387.96 L618.5,393.38 L622.11,398.81 L625.71,404.23 L629.31,409.61 L632.92,414.92 L636.52,420.16 L640.12,425.28 L643.73,430.27 L647.33,435.11 L650.93,439.77 L654.54,444.23 L658.14,448.48 L661.74,452.51 L665.35,456.3 L668.95,459.85 L672.55,463.15 L676.16,466.2 L679.76,469.02 L683.36,471.59 L686.97,473.92 L690.57,476.03 L694.17,477.93 L697.78,479.62 L701.38,481.13 L704.98,482.45 L708.59,483.62 L712.19,484.63 L715.79,485.51 L719.4,486.27 L723,486.92"/>
<path d="M150.07,476.66 L153.67,475.09 L157.27,473.37 L160.88,471.5 L164.48,469.48 L168.08,467.29 L171.69,464.92 L175.29,462.37 L178.89,459.63 L182.5,456.7 L186.1,453.56 L189.7,450.21 L193.31,446.64 L196.91,442.85 L200.51,438.83 L204.12,434.58 L207.72,430.09 L211.32,425.36 L214.93,420.38 L218.53,415.17 L222.13,409.7 L225.74,404 L229.34,398.06 L232.94,391.88 L236.55,385.47 L240.15,378.84 L243.75,371.99 L247.36,364.94 L250.96,357.69 L254.57,350.27 L258.17,342.68 L261.77,334.96 L265.38,327.1 L268.98,319.15 L272.58,311.11 L276.19,303.02 L279.79,294.89 L283.39,286.77 L287,278.67 L290.6,270.62 L294.2,262.66 L297.81,254.81 L301.41,247.11 L305.01,239.58 L308.62,232.27 L312.22,225.18 L315.82,218.36 L319.43,211.84 L323.03,205.63 L326.63,199.76 L330.24,194.27 L333.84,189.16 L337.44,184.45 L341.05,180.17 L344.65,176.33 L348.25,172.94 L351.86,170.01 L355.46,167.54 L359.06,165.55 L362.67,164.02 L366.27,162.97 L369.87,162.39 L373.48,162.27 L377.08,162.61 L380.68,163.39 L384.29,164.6 L387.89,166.24 L391.49,168.27 L395.1,170.7 L398.7,173.49 L402.3,176.63 L405.91,180.1 L409.51,183.88 L413.11,187.93 L416.72,192.24 L420.32,196.79 L423.92,201.54 L427.53,206.48 L431.13,211.57 L434.73,216.79 L438.34,222.11 L441.94,227.51 L445.54,232.96 L449.15,238.43 L452.75,243.89 L456.35,249.33 L459.96,254.71 L463.56,260.01 L467.16,265.22 L470.77,270.29 L474.37,275.23 L477.97,280 L481.58,284.59 L485.18,288.98 L488.78,293.16 L492.39,297.12 L495.99,300.85 L499.59,304.34 L503.2,307.6 L506.8,310.61 L510.4,313.39 L514.01,315.93 L517.61,318.25 L521.21,320.34 L524.82,322.24 L528.42,323.95 L532.02,325.48 L535.63,326.86 L539.23,328.12 L542.83,329.26 L546.44,330.32 L550.04,331.32 L553.64,332.28 L557.25,333.23 L560.85,334.2 L564.45,335.21 L568.06,336.28 L571.66,337.43 L575.26,338.69 L578.87,340.08 L582.47,341.61 L586.07,343.3 L589.68,345.15 L593.28,347.18 L596.88,349.4 L600.49,351.82 L604.09,354.42 L607.69,357.22 L611.3,360.2 L614.9,363.37 L618.5,366.71 L622.11,370.21 L625.71,373.87 L629.31,377.66 L632.92,381.57 L636.52,385.59 L640.12,389.69 L643.73,393.86 L647.33,398.08 L650.93,402.33 L654.54,406.59 L658.14,410.84 L661.74,415.07 L665.35,419.25 L668.95,423.37 L672.55,427.41 L676.16,431.36 L679.76,435.2 L683.36,438.93 L686.97,442.54 L690.57,446.01 L694.17,449.33 L697.78,452.51 L701.38,455.53 L704.98,458.4 L708.59,461.12 L712.19,463.67 L715.79,466.07 L719.4,468.31 L723,470.4"/>
<path d="M150.07,470.36 L153.67,468.24 L157.27,465.97 L160.88,463.55 L164.48,460.97 L168.08,458.23 L171.69,455.33 L175.29,452.27 L178.89,449.06 L182.5,445.68 L186.1,442.15 L189.7,438.46 L193.31,434.62 L196.91,430.62 L200.51,426.47 L204.12,422.18 L207.72,417.74 L211.32,413.15 L214.93,408.42 L218.53,403.55 L222.13,398.53 L225.74,393.37 L229.34,388.07 L232.94,382.63 L236.55,377.06 L240.15,371.34 L243.75,365.48 L247.36,359.49 L250.96,353.36 L254.57,347.1 L258.17,340.72 L261.77,334.22 L265.38,327.61 L268.98,320.89 L272.58,314.09 L276.19,307.2 L279.79,300.26 L283.39,293.26 L287,286.24 L290.6,279.22 L294.2,272.21 L297.81,265.24 L301.41,258.34 L305.01,251.53 L308.62,244.83 L312.22,238.27 L315.82,231.89 L319.43,225.7 L323.03,219.74 L326.63,214.01 L330.24,208.56 L333.84,203.4 L337.44,198.55 L341.05,194.03 L344.65,189.85 L348.25,186.04 L351.86,182.59 L355.46,179.53 L359.06,176.86 L362.67,174.6 L366.27,172.73 L369.87,171.27 L373.48,170.21 L377.08,169.56 L380.68,169.31 L384.29,169.45 L387.89,169.98 L391.49,170.89 L395.1,172.17 L398.7,173.8 L402.3,175.76 L405.91,178.04 L409.51,180.61 L413.11,183.46 L416.72,186.55 L420.32,189.86 L423.92,193.36 L427.53,197.01 L431.13,200.8 L434.73,204.67 L438.34,208.61 L441.94,212.58 L445.54,216.54 L449.15,220.46 L452.75,224.33 L456.35,228.11 L459.96,231.77 L463.56,235.31 L467.16,238.7 L470.77,241.93 L474.37,245 L477.97,247.91 L481.58,250.65 L485.18,253.23 L488.78,255.66 L492.39,257.96 L495.99,260.15 L499.59,262.24 L503.2,264.26 L506.8,266.24 L510.4,268.2 L514.01,270.18 L517.61,272.2 L521.21,274.29 L524.82,276.48 L528.42,278.8 L532.02,281.27 L535.63,283.92 L539.23,286.76 L542.83,289.82 L546.44,293.1 L550.04,296.62 L553.64,300.39 L557.25,304.41 L560.85,308.68 L564.45,313.19 L568.06,317.95 L571.66,322.93 L575.26,328.14 L578.87,333.54 L582.47,339.13 L586.07,344.87 L589.68,350.75 L593.28,356.74 L596.88,362.82 L600.49,368.95 L604.09,375.11 L607.69,381.27 L611.3,387.4 L614.9,393.47 L618.5,399.46 L622.11,405.34 L625.71,411.09 L629.31,416.68 L632.92,422.1 L636.52,427.33 L640.12,432.34 L643.73,437.13 L647.33,441.69 L650.93,446.02 L654.54,450.09 L658.14,453.92 L661.74,457.49 L665.35,460.82 L668.95,463.9 L672.55,466.75 L676.16,469.36 L679.76,471.75 L683.36,473.92 L686.97,475.89 L690.57,477.67 L694.17,479.26 L697.78,480.69 L701.38,481.96 L704.98,483.09 L708.59,484.08 L712.19,484.95 L715.79,485.72 L719.4,486.38 L723,486.96"/>
<path d="M150.07,459.54 L153.67,457.17 L157.27,454.72 L160.88,452.18 L164.48,449.57 L168.08,446.89 L171.69,444.15 L175.29,441.35 L178.89,438.5 L182.5,435.6 L186.1,432.65 L189.7,429.67 L193.31,426.66 L196.91,423.61 L200.51,420.53 L204.12,417.42 L207.72,414.27 L211.32,411.09 L214.93,407.87 L218.53,404.61 L222.13,401.3 L225.74,397.93 L229.34,394.5 L232.94,391 L236.55,387.42 L240.15,383.75 L243.75,379.98 L247.36,376.1 L250.96,372.1 L254.57,367.99 L258.17,363.74 L261.77,359.35 L265.38,354.83 L268.98,350.16 L272.58,345.35 L276.19,340.4 L279.79,335.31 L283.39,330.09 L287,324.74 L290.6,319.29 L294.2,313.73 L297.81,308.08 L301.41,302.36 L305.01,296.6 L308.62,290.8 L312.22,285 L315.82,279.21 L319.43,273.46 L323.03,267.78 L326.63,262.18 L330.24,256.71 L333.84,251.38 L337.44,246.21 L341.05,241.24 L344.65,236.48 L348.25,231.96 L351.86,227.7 L355.46,223.72 L359.06,220.02 L362.67,216.64 L366.27,213.58 L369.87,210.84 L373.48,208.44 L377.08,206.38 L380.68,204.66 L384.29,203.27 L387.89,202.23 L391.49,201.51 L395.1,201.11 L398.7,201.01 L402.3,201.21 L405.91,201.69 L409.51,202.42 L413.11,203.39 L416.72,204.58 L420.32,205.97 L423.92,207.52 L427.53,209.23 L431.13,211.07 L434.73,213.01 L438.34,215.03 L441.94,217.11 L445.54,219.23 L449.15,221.36 L452.75,223.5 L456.35,225.62 L459.96,227.71 L463.56,229.76 L467.16,231.76 L470.77,233.7 L474.37,235.58 L477.97,237.39 L481.58,239.13 L485.18,240.81 L488.78,242.44 L492.39,244.01 L495.99,245.53 L499.59,247.03 L503.2,248.51 L506.8,249.98 L510.4,251.47 L514.01,252.98 L517.61,254.54 L521.21,256.16 L524.82,257.87 L528.42,259.67 L532.02,261.6 L535.63,263.66 L539.23,265.88 L542.83,268.27 L546.44,270.84 L550.04,273.62 L553.64,276.6 L557.25,279.81 L560.85,283.24 L564.45,286.91 L568.06,290.81 L571.66,294.95 L575.26,299.32 L578.87,303.92 L582.47,308.74 L586.07,313.78 L589.68,319.02 L593.28,324.44 L596.88,330.03 L600.49,335.78 L604.09,341.65 L607.69,347.63 L611.3,353.69 L614.9,359.81 L618.5,365.96 L622.11,372.13 L625.71,378.27 L629.31,384.38 L632.92,390.42 L636.52,396.37 L640.12,402.21 L643.73,407.91 L647.33,413.47 L650.93,418.85 L654.54,424.04 L658.14,429.04 L661.74,433.83 L665.35,438.39 L668.95,442.73 L672.55,446.84 L676.16,450.71 L679.76,454.35 L683.36,457.75 L686.97,460.92 L690.57,463.86 L694.17,466.58 L697.78,469.08 L701.38,471.38 L704.98,473.48 L708.59,475.4 L712.19,477.13 L715.79,478.7 L719.4,480.11 L723,481.37"/>
<path d="M150.07,481.64 L153.67,480.46 L157.27,479.16 L160.88,477.73 L164.48,476.18 L168.08,474.48 L171.69,472.65 L175.29,470.68 L178.89,468.56 L182.5,466.28 L186.1,463.86 L189.7,461.27 L193.31,458.53 L196.91,455.62 L200.51,452.54 L204.12,449.3 L207.72,445.88 L211.32,442.29 L214.93,438.51 L218.53,434.56 L222.13,430.42 L225.74,426.1 L229.34,421.59 L232.94,416.89 L236.55,412.01 L240.15,406.94 L243.75,401.69 L247.36,396.27 L250.96,390.68 L254.57,384.92 L258.17,379.01 L261.77,372.96 L265.38,366.77 L268.98,360.47 L272.58,354.06 L276.19,347.56 L279.79,340.98 L283.39,334.33 L287,327.64 L290.6,320.91 L294.2,314.15 L297.81,307.37 L301.41,300.6 L305.01,293.82 L308.62,287.06 L312.22,280.31 L315.82,273.59 L319.43,266.89 L323.03,260.23 L326.63,253.61 L330.24,247.03 L333.84,240.5 L337.44,234.02 L341.05,227.62 L344.65,221.28 L348.25,215.04 L351.86,208.89 L355.46,202.86 L359.06,196.96 L362.67,191.2 L366.27,185.61 L369.87,180.2 L373.48,175 L377.08,170.03 L380.68,165.29 L384.29,160.82 L387.89,156.63 L391.49,152.75 L395.1,149.17 L398.7,145.93 L402.3,143.03 L405.91,140.48 L409.51,138.29 L413.11,136.46 L416.72,135.01 L420.32,133.92 L423.92,133.21 L427.53,132.86 L431.13,132.87 L434.73,133.24 L438.34,133.95 L441.94,134.99 L445.54,136.36 L449.15,138.04 L452.75,140.01 L456.35,142.26 L459.96,144.79 L463.56,147.57 L467.16,150.6 L470.77,153.86 L474.37,157.35 L477.97,161.06 L481.58,164.98 L485.18,169.12 L488.78,173.47 L492.39,178.04 L495.99,182.83 L499.59,187.85 L503.2,193.1 L506.8,198.59 L510.4,204.33 L514.01,210.33 L517.61,216.59 L521.21,223.12 L524.82,229.91 L528.42,236.96 L532.02,244.26 L535.63,251.81 L539.23,259.59 L542.83,267.58 L546.44,275.75 L550.04,284.08 L553.64,292.54 L557.25,301.09 L560.85,309.7 L564.45,318.33 L568.06,326.94 L571.66,335.5 L575.26,343.96 L578.87,352.29 L582.47,360.46 L586.07,368.44 L589.68,376.2 L593.28,383.72 L596.88,390.96 L600.49,397.93 L604.09,404.6 L607.69,410.97 L611.3,417.03 L614.9,422.78 L618.5,428.21 L622.11,433.34 L625.71,438.16 L629.31,442.68 L632.92,446.91 L636.52,450.86 L640.12,454.54 L643.73,457.96 L647.33,461.12 L650.93,464.05 L654.54,466.75 L658.14,469.24 L661.74,471.52 L665.35,473.6 L668.95,475.5 L672.55,477.23 L676.16,478.79 L679.76,480.2 L683.36,481.47 L686.97,482.6 L690.57,483.62 L694.17,484.52 L697.78,485.31 L701.38,486.01 L704.98,486.63 L708.59,487.16 L712.19,487.62 L715.79,488.02 L719.4,488.37 L723,488.66"/>
<path d="M150.07,481.12 L153.67,479.78 L157.27,478.29 L160.88,476.61 L164.48,474.75 L168.08,472.69 L171.69,470.42 L175.29,467.91 L178.89,465.17 L182.5,462.17 L186.1,458.9 L189.7,455.36 L193.31,451.53 L196.91,447.41 L200.51,442.98 L204.12,438.24 L207.72,433.19 L211.32,427.82 L214.93,422.14 L218.53,416.14 L222.13,409.82 L225.74,403.21 L229.34,396.3 L232.94,389.11 L236.55,381.64 L240.15,373.93 L243.75,365.98 L247.36,357.81 L250.96,349.46 L254.57,340.95 L258.17,332.31 L261.77,323.57 L265.38,314.75 L268.98,305.91 L272.58,297.07 L276.19,288.28 L279.79,279.56 L283.39,270.97 L287,262.55 L290.6,254.33 L294.2,246.36 L297.81,238.68 L301.41,231.33 L305.01,224.34 L308.62,217.77 L312.22,211.64 L315.82,205.99 L319.43,200.85 L323.03,196.24 L326.63,192.2 L330.24,188.74 L333.84,185.88 L337.44,183.63 L341.05,182 L344.65,180.98 L348.25,180.58 L351.86,180.78 L355.46,181.57 L359.06,182.93 L362.67,184.84 L366.27,187.25 L369.87,190.14 L373.48,193.46 L377.08,197.18 L380.68,201.23 L384.29,205.58 L387.89,210.16 L391.49,214.92 L395.1,219.81 L398.7,224.77 L402.3,229.75 L405.91,234.68 L409.51,239.52 L413.11,244.23 L416.72,248.74 L420.32,253.03 L423.92,257.06 L427.53,260.79 L431.13,264.21 L434.73,267.28 L438.34,270 L441.94,272.36 L445.54,274.35 L449.15,275.98 L452.75,277.26 L456.35,278.2 L459.96,278.82 L463.56,279.15 L467.16,279.2 L470.77,279.01 L474.37,278.61 L477.97,278.03 L481.58,277.31 L485.18,276.49 L488.78,275.59 L492.39,274.65 L495.99,273.71 L499.59,272.8 L503.2,271.95 L506.8,271.19 L510.4,270.55 L514.01,270.04 L517.61,269.71 L521.21,269.55 L524.82,269.6 L528.42,269.86 L532.02,270.36 L535.63,271.1 L539.23,272.09 L542.83,273.33 L546.44,274.85 L550.04,276.63 L553.64,278.69 L557.25,281.02 L560.85,283.62 L564.45,286.5 L568.06,289.64 L571.66,293.06 L575.26,296.73 L578.87,300.66 L582.47,304.84 L586.07,309.25 L589.68,313.9 L593.28,318.75 L596.88,323.81 L600.49,329.05 L604.09,334.46 L607.69,340.02 L611.3,345.71 L614.9,351.51 L618.5,357.39 L622.11,363.34 L625.71,369.32 L629.31,375.32 L632.92,381.31 L636.52,387.27 L640.12,393.16 L643.73,398.98 L647.33,404.69 L650.93,410.28 L654.54,415.72 L658.14,421 L661.74,426.1 L665.35,431.01 L668.95,435.71 L672.55,440.19 L676.16,444.46 L679.76,448.49 L683.36,452.29 L686.97,455.86 L690.57,459.19 L694.17,462.29 L697.78,465.17 L701.38,467.82 L704.98,470.26 L708.59,472.5 L712.19,474.53 L715.79,476.38 L719.4,478.05 L723,479.56"/>
<path d="M150.07,476.03 L153.67,474.54 L157.27,472.93 L160.88,471.21 L164.48,469.36 L168.08,467.38 L171.69,465.28 L175.29,463.03 L178.89,460.65 L182.5,458.12 L186.1,455.44 L189.7,452.61 L193.31,449.63 L196.91,446.48 L200.51,443.16 L204.12,439.68 L207.72,436.03 L211.32,432.19 L214.93,428.18 L218.53,423.99 L222.13,419.61 L225.74,415.04 L229.34,410.29 L232.94,405.34 L236.55,400.22 L240.15,394.9 L243.75,389.41 L247.36,383.75 L250.96,377.91 L254.57,371.92 L258.17,365.78 L261.77,359.51 L265.38,353.12 L268.98,346.63 L272.58,340.05 L276.19,333.42 L279.79,326.75 L283.39,320.07 L287,313.41 L290.6,306.79 L294.2,300.24 L297.81,293.8 L301.41,287.5 L305.01,281.35 L308.62,275.4 L312.22,269.68 L315.82,264.21 L319.43,259.01 L323.03,254.12 L326.63,249.56 L330.24,245.33 L333.84,241.47 L337.44,237.98 L341.05,234.87 L344.65,232.16 L348.25,229.83 L351.86,227.89 L355.46,226.33 L359.06,225.14 L362.67,224.32 L366.27,223.83 L369.87,223.67 L373.48,223.8 L377.08,224.21 L380.68,224.86 L384.29,225.72 L387.89,226.76 L391.49,227.95 L395.1,229.25 L398.7,230.63 L402.3,232.05 L405.91,233.48 L409.51,234.89 L413.11,236.24 L416.72,237.51 L420.32,238.66 L423.92,239.68 L427.53,240.53 L431.13,241.21 L434.73,241.7 L438.34,241.99 L441.94,242.06 L445.54,241.92 L449.15,241.57 L452.75,241.01 L456.35,240.25 L459.96,239.31 L463.56,238.2 L467.16,236.94 L470.77,235.57 L474.37,234.09 L477.97,232.56 L481.58,230.99 L485.18,229.43 L488.78,227.9 L492.39,226.46 L495.99,225.13 L499.59,223.95 L503.2,222.96 L506.8,222.19 L510.4,221.69 L514.01,221.47 L517.61,221.57 L521.21,222.02 L524.82,222.83 L528.42,224.03 L532.02,225.62 L535.63,227.63 L539.23,230.05 L542.83,232.88 L546.44,236.13 L550.04,239.78 L553.64,243.83 L557.25,248.25 L560.85,253.04 L564.45,258.17 L568.06,263.61 L571.66,269.34 L575.26,275.33 L578.87,281.55 L582.47,287.98 L586.07,294.57 L589.68,301.3 L593.28,308.15 L596.88,315.06 L600.49,322.03 L604.09,329.02 L607.69,336 L611.3,342.95 L614.9,349.84 L618.5,356.66 L622.11,363.38 L625.71,369.98 L629.31,376.45 L632.92,382.78 L636.52,388.95 L640.12,394.94 L643.73,400.76 L647.33,406.39 L650.93,411.82 L654.54,417.05 L658.14,422.07 L661.74,426.89 L665.35,431.49 L668.95,435.88 L672.55,440.06 L676.16,444.02 L679.76,447.77 L683.36,451.32 L686.97,454.65 L690.57,457.78 L694.17,460.71 L697.78,463.45 L701.38,466 L704.98,468.37 L708.59,470.56 L712.19,472.58 L715.79,474.44 L719.4,476.14 L723,477.69"/>
<path d="M150.07,465.08 L153.67,463.15 L157.27,461.13 L160.88,459.01 L164.48,456.79 L168.08,454.46 L171.69,452.03 L175.29,449.48 L178.89,446.82 L182.5,444.04 L186.1,441.15 L189.7,438.12 L193.31,434.96 L196.91,431.67 L200.51,428.24 L204.12,424.66 L207.72,420.93 L211.32,417.06 L214.93,413.02 L218.53,408.82 L222.13,404.46 L225.74,399.94 L229.34,395.25 L232.94,390.39 L236.55,385.37 L240.15,380.18 L243.75,374.84 L247.36,369.33 L250.96,363.68 L254.57,357.88 L258.17,351.95 L261.77,345.9 L265.38,339.74 L268.98,333.48 L272.58,327.14 L276.19,320.74 L279.79,314.29 L283.39,307.82 L287,301.34 L290.6,294.88 L294.2,288.46 L297.81,282.1 L301.41,275.82 L305.01,269.65 L308.62,263.61 L312.22,257.73 L315.82,252.02 L319.43,246.5 L323.03,241.2 L326.63,236.14 L330.24,231.32 L333.84,226.78 L337.44,222.51 L341.05,218.55 L344.65,214.89 L348.25,211.55 L351.86,208.53 L355.46,205.85 L359.06,203.5 L362.67,201.5 L366.27,199.85 L369.87,198.55 L373.48,197.59 L377.08,196.99 L380.68,196.73 L384.29,196.82 L387.89,197.26 L391.49,198.02 L395.1,199.12 L398.7,200.54 L402.3,202.27 L405.91,204.3 L409.51,206.61 L413.11,209.18 L416.72,212 L420.32,215.05 L423.92,218.3 L427.53,221.71 L431.13,225.27 L434.73,228.95 L438.34,232.69 L441.94,236.48 L445.54,240.27 L449.15,244.03 L452.75,247.71 L456.35,251.28 L459.96,254.69 L463.56,257.93 L467.16,260.95 L470.77,263.72 L474.37,266.21 L477.97,268.41 L481.58,270.31 L485.18,271.88 L488.78,273.12 L492.39,274.04 L495.99,274.65 L499.59,274.96 L503.2,274.99 L506.8,274.77 L510.4,274.34 L514.01,273.74 L517.61,273 L521.21,272.19 L524.82,271.35 L528.42,270.53 L532.02,269.8 L535.63,269.2 L539.23,268.79 L542.83,268.63 L546.44,268.76 L550.04,269.22 L553.64,270.07 L557.25,271.33 L560.85,273.04 L564.45,275.21 L568.06,277.87 L571.66,281.01 L575.26,284.64 L578.87,288.76 L582.47,293.35 L586.07,298.38 L589.68,303.84 L593.28,309.69 L596.88,315.9 L600.49,322.41 L604.09,329.2 L607.69,336.21 L611.3,343.39 L614.9,350.7 L618.5,358.08 L622.11,365.49 L625.71,372.87 L629.31,380.2 L632.92,387.41 L636.52,394.48 L640.12,401.37 L643.73,408.04 L647.33,414.47 L650.93,420.64 L654.54,426.53 L658.14,432.12 L661.74,437.41 L665.35,442.38 L668.95,447.03 L672.55,451.36 L676.16,455.38 L679.76,459.09 L683.36,462.51 L686.97,465.63 L690.57,468.48 L694.17,471.06 L697.78,473.39 L701.38,475.49 L704.98,477.37 L708.59,479.05 L712.19,480.54 L715.79,481.86 L719.4,483.02 L723,484.04"/>
<path d="M150.07,486.8 L153.67,486.18 L157.27,485.46 L160.88,484.64 L164.48,483.69 L168.08,482.6 L171.69,481.37 L175.29,479.97 L178.89,478.4 L182.5,476.63 L186.1,474.64 L189.7,472.44 L193.31,469.99 L196.91,467.28 L200.51,464.29 L204.12,461.02 L207.72,457.43 L211.32,453.53 L214.93,449.29 L218.53,444.71 L222.13,439.76 L225.74,434.45 L229.34,428.76 L232.94,422.69 L236.55,416.24 L240.15,409.39 L243.75,402.16 L247.36,394.55 L250.96,386.56 L254.57,378.2 L258.17,369.5 L261.77,360.46 L265.38,351.11 L268.98,341.48 L272.58,331.59 L276.19,321.49 L279.79,311.2 L283.39,300.77 L287,290.26 L290.6,279.69 L294.2,269.14 L297.81,258.66 L301.41,248.29 L305.01,238.11 L308.62,228.16 L312.22,218.51 L315.82,209.21 L319.43,200.32 L323.03,191.88 L326.63,183.95 L330.24,176.56 L333.84,169.75 L337.44,163.54 L341.05,157.98 L344.65,153.06 L348.25,148.8 L351.86,145.2 L355.46,142.27 L359.06,139.98 L362.67,138.33 L366.27,137.29 L369.87,136.85 L373.48,136.97 L377.08,137.62 L380.68,138.77 L384.29,140.38 L387.89,142.43 L391.49,144.87 L395.1,147.68 L398.7,150.82 L402.3,154.26 L405.91,157.97 L409.51,161.92 L413.11,166.09 L416.72,170.45 L420.32,174.98 L423.92,179.64 L427.53,184.43 L431.13,189.3 L434.73,194.25 L438.34,199.24 L441.94,204.26 L445.54,209.27 L449.15,214.25 L452.75,219.17 L456.35,224.02 L459.96,228.75 L463.56,233.36 L467.16,237.81 L470.77,242.08 L474.37,246.15 L477.97,250.01 L481.58,253.65 L485.18,257.05 L488.78,260.21 L492.39,263.13 L495.99,265.81 L499.59,268.26 L503.2,270.51 L506.8,272.55 L510.4,274.43 L514.01,276.17 L517.61,277.8 L521.21,279.35 L524.82,280.86 L528.42,282.37 L532.02,283.91 L535.63,285.54 L539.23,287.28 L542.83,289.18 L546.44,291.26 L550.04,293.56 L553.64,296.11 L557.25,298.93 L560.85,302.04 L564.45,305.46 L568.06,309.19 L571.66,313.24 L575.26,317.6 L578.87,322.28 L582.47,327.25 L586.07,332.5 L589.68,338.01 L593.28,343.76 L596.88,349.71 L600.49,355.83 L604.09,362.09 L607.69,368.45 L611.3,374.88 L614.9,381.34 L618.5,387.78 L622.11,394.19 L625.71,400.5 L629.31,406.71 L632.92,412.77 L636.52,418.65 L640.12,424.34 L643.73,429.8 L647.33,435.02 L650.93,439.99 L654.54,444.69 L658.14,449.11 L661.74,453.24 L665.35,457.1 L668.95,460.67 L672.55,463.97 L676.16,466.99 L679.76,469.75 L683.36,472.25 L686.97,474.51 L690.57,476.55 L694.17,478.37 L697.78,479.99 L701.38,481.42 L704.98,482.68 L708.59,483.79 L712.19,484.76 L715.79,485.59 L719.4,486.32 L723,486.94"/>
<path d="M150.07,466.75 L153.67,464.02 L157.27,461.13 L160.88,458.08 L164.48,454.89 L168.08,451.59 L171.69,448.19 L175.29,444.73 L178.89,441.23 L182.5,437.72 L186.1,434.24 L189.7,430.81 L193.31,427.46 L196.91,424.23 L200.51,421.14 L204.12,418.22 L207.72,415.47 L211.32,412.93 L214.93,410.59 L218.53,408.45 L222.13,406.51 L225.74,404.75 L229.34,403.16 L232.94,401.69 L236.55,400.31 L240.15,398.98 L243.75,397.66 L247.36,396.27 L250.96,394.77 L254.57,393.09 L258.17,391.16 L261.77,388.93 L265.38,386.33 L268.98,383.3 L272.58,379.77 L276.19,375.7 L279.79,371.03 L283.39,365.74 L287,359.78 L290.6,353.14 L294.2,345.79 L297.81,337.75 L301.41,329.01 L305.01,319.61 L308.62,309.56 L312.22,298.92 L315.82,287.74 L319.43,276.1 L323.03,264.06 L326.63,251.72 L330.24,239.19 L333.84,226.56 L337.44,213.95 L341.05,201.49 L344.65,189.3 L348.25,177.5 L351.86,166.23 L355.46,155.6 L359.06,145.74 L362.67,136.75 L366.27,128.74 L369.87,121.79 L373.48,115.98 L377.08,111.38 L380.68,108 L384.29,105.89 L387.89,105.05 L391.49,105.45 L395.1,107.06 L398.7,109.84 L402.3,113.7 L405.91,118.57 L409.51,124.35 L413.11,130.92 L416.72,138.17 L420.32,145.98 L423.92,154.22 L427.53,162.76 L431.13,171.49 L434.73,180.28 L438.34,189.02 L441.94,197.61 L445.54,205.96 L449.15,213.98 L452.75,221.6 L456.35,228.77 L459.96,235.44 L463.56,241.58 L467.16,247.17 L470.77,252.19 L474.37,256.65 L477.97,260.55 L481.58,263.9 L485.18,266.74 L488.78,269.09 L492.39,270.98 L495.99,272.46 L499.59,273.57 L503.2,274.36 L506.8,274.87 L510.4,275.16 L514.01,275.28 L517.61,275.29 L521.21,275.25 L524.82,275.2 L528.42,275.22 L532.02,275.35 L535.63,275.66 L539.23,276.19 L542.83,277.01 L546.44,278.15 L550.04,279.66 L553.64,281.58 L557.25,283.94 L560.85,286.78 L564.45,290.1 L568.06,293.92 L571.66,298.24 L575.26,303.06 L578.87,308.37 L582.47,314.13 L586.07,320.32 L589.68,326.9 L593.28,333.83 L596.88,341.05 L600.49,348.52 L604.09,356.17 L607.69,363.94 L611.3,371.77 L614.9,379.6 L618.5,387.37 L622.11,395.03 L625.71,402.52 L629.31,409.79 L632.92,416.81 L636.52,423.52 L640.12,429.91 L643.73,435.95 L647.33,441.62 L650.93,446.91 L654.54,451.81 L658.14,456.32 L661.74,460.45 L665.35,464.2 L668.95,467.59 L672.55,470.64 L676.16,473.36 L679.76,475.77 L683.36,477.9 L686.97,479.76 L690.57,481.39 L694.17,482.79 L697.78,484.01 L701.38,485.04 L704.98,485.92 L708.59,486.67 L712.19,487.3 L715.79,487.82 L719.4,488.26 L723,488.62"/>
<path d="M150.07,476.97 L153.67,475.1 L157.27,473.04 L160.88,470.77 L164.48,468.27 L168.08,465.55 L171.69,462.58 L175.29,459.38 L178.89,455.91 L182.5,452.2 L186.1,448.23 L189.7,443.99 L193.31,439.51 L196.91,434.77 L200.51,429.78 L204.12,424.55 L207.72,419.09 L211.32,413.42 L214.93,407.54 L218.53,401.46 L222.13,395.21 L225.74,388.8 L229.34,382.24 L232.94,375.56 L236.55,368.77 L240.15,361.9 L243.75,354.95 L247.36,347.95 L250.96,340.91 L254.57,333.86 L258.17,326.8 L261.77,319.75 L265.38,312.73 L268.98,305.75 L272.58,298.82 L276.19,291.96 L279.79,285.17 L283.39,278.46 L287,271.85 L290.6,265.35 L294.2,258.95 L297.81,252.68 L301.41,246.54 L305.01,240.53 L308.62,234.67 L312.22,228.97 L315.82,223.42 L319.43,218.04 L323.03,212.85 L326.63,207.84 L330.24,203.03 L333.84,198.42 L337.44,194.03 L341.05,189.86 L344.65,185.93 L348.25,182.24 L351.86,178.8 L355.46,175.64 L359.06,172.74 L362.67,170.13 L366.27,167.8 L369.87,165.78 L373.48,164.07 L377.08,162.66 L380.68,161.58 L384.29,160.82 L387.89,160.38 L391.49,160.26 L395.1,160.47 L398.7,161.01 L402.3,161.85 L405.91,163.02 L409.51,164.48 L413.11,166.24 L416.72,168.29 L420.32,170.61 L423.92,173.18 L427.53,176.01 L431.13,179.06 L434.73,182.33 L438.34,185.8 L441.94,189.46 L445.54,193.3 L449.15,197.29 L452.75,201.43 L456.35,205.71 L459.96,210.12 L463.56,214.64 L467.16,219.27 L470.77,224 L474.37,228.83 L477.97,233.75 L481.58,238.75 L485.18,243.84 L488.78,249.01 L492.39,254.26 L495.99,259.57 L499.59,264.96 L503.2,270.41 L506.8,275.91 L510.4,281.46 L514.01,287.05 L517.61,292.67 L521.21,298.31 L524.82,303.95 L528.42,309.59 L532.02,315.2 L535.63,320.78 L539.23,326.31 L542.83,331.77 L546.44,337.14 L550.04,342.41 L553.64,347.57 L557.25,352.6 L560.85,357.49 L564.45,362.22 L568.06,366.8 L571.66,371.2 L575.26,375.43 L578.87,379.49 L582.47,383.37 L586.07,387.08 L589.68,390.62 L593.28,394 L596.88,397.22 L600.49,400.3 L604.09,403.25 L607.69,406.08 L611.3,408.81 L614.9,411.45 L618.5,414.01 L622.11,416.51 L625.71,418.97 L629.31,421.39 L632.92,423.79 L636.52,426.17 L640.12,428.55 L643.73,430.94 L647.33,433.32 L650.93,435.72 L654.54,438.13 L658.14,440.54 L661.74,442.96 L665.35,445.37 L668.95,447.79 L672.55,450.19 L676.16,452.56 L679.76,454.91 L683.36,457.23 L686.97,459.49 L690.57,461.7 L694.17,463.84 L697.78,465.91 L701.38,467.9 L704.98,469.8 L708.59,471.62 L712.19,473.33 L715.79,474.95 L719.4,476.46 L723,477.88"/>
<path d="M150.07,472.56 L153.67,470.63 L157.27,468.55 L160.88,466.32 L164.48,463.93 L168.08,461.39 L171.69,458.69 L175.29,455.83 L178.89,452.82 L182.5,449.65 L186.1,446.32 L189.7,442.85 L193.31,439.23 L196.91,435.47 L200.51,431.59 L204.12,427.57 L207.72,423.44 L211.32,419.21 L214.93,414.87 L218.53,410.44 L222.13,405.94 L225.74,401.36 L229.34,396.73 L232.94,392.04 L236.55,387.31 L240.15,382.55 L243.75,377.76 L247.36,372.95 L250.96,368.14 L254.57,363.32 L258.17,358.51 L261.77,353.71 L265.38,348.91 L268.98,344.14 L272.58,339.39 L276.19,334.66 L279.79,329.95 L283.39,325.28 L287,320.64 L290.6,316.04 L294.2,311.47 L297.81,306.94 L301.41,302.46 L305.01,298.03 L308.62,293.65 L312.22,289.33 L315.82,285.06 L319.43,280.87 L323.03,276.75 L326.63,272.71 L330.24,268.76 L333.84,264.9 L337.44,261.14 L341.05,257.5 L344.65,253.97 L348.25,250.56 L351.86,247.29 L355.46,244.15 L359.06,241.16 L362.67,238.32 L366.27,235.62 L369.87,233.09 L373.48,230.71 L377.08,228.5 L380.68,226.45 L384.29,224.56 L387.89,222.83 L391.49,221.26 L395.1,219.86 L398.7,218.6 L402.3,217.5 L405.91,216.55 L409.51,215.75 L413.11,215.08 L416.72,214.56 L420.32,214.17 L423.92,213.92 L427.53,213.79 L431.13,213.79 L434.73,213.91 L438.34,214.14 L441.94,214.5 L445.54,214.97 L449.15,215.55 L452.75,216.24 L456.35,217.04 L459.96,217.95 L463.56,218.95 L467.16,220.05 L470.77,221.25 L474.37,222.54 L477.97,223.92 L481.58,225.37 L485.18,226.91 L488.78,228.52 L492.39,230.2 L495.99,231.95 L499.59,233.76 L503.2,235.63 L506.8,237.55 L510.4,239.53 L514.01,241.56 L517.61,243.65 L521.21,245.79 L524.82,247.99 L528.42,250.26 L532.02,252.59 L535.63,255 L539.23,257.5 L542.83,260.08 L546.44,262.78 L550.04,265.58 L553.64,268.51 L557.25,271.58 L560.85,274.79 L564.45,278.17 L568.06,281.71 L571.66,285.43 L575.26,289.34 L578.87,293.44 L582.47,297.74 L586.07,302.24 L589.68,306.93 L593.28,311.81 L596.88,316.89 L600.49,322.15 L604.09,327.57 L607.69,333.16 L611.3,338.88 L614.9,344.72 L618.5,350.67 L622.11,356.7 L625.71,362.79 L629.31,368.91 L632.92,375.04 L636.52,381.15 L640.12,387.23 L643.73,393.23 L647.33,399.15 L650.93,404.95 L654.54,410.62 L658.14,416.13 L661.74,421.47 L665.35,426.62 L668.95,431.56 L672.55,436.29 L676.16,440.8 L679.76,445.07 L683.36,449.1 L686.97,452.9 L690.57,456.45 L694.17,459.77 L697.78,462.85 L701.38,465.7 L704.98,468.33 L708.59,470.74 L712.19,472.94 L715.79,474.94 L719.4,476.76 L723,478.4"/>
<path d="M150.07,474.07 L153.67,472.33 L157.27,470.46 L160.88,468.49 L164.48,466.41 L168.08,464.23 L171.69,461.94 L175.29,459.55 L178.89,457.08 L182.5,454.51 L186.1,451.87 L189.7,449.15 L193.31,446.36 L196.91,443.51 L200.51,440.6 L204.12,437.64 L207.72,434.65 L211.32,431.61 L214.93,428.55 L218.53,425.46 L222.13,422.36 L225.74,419.25 L229.34,416.13 L232.94,413.01 L236.55,409.89 L240.15,406.78 L243.75,403.66 L247.36,400.54 L250.96,397.41 L254.57,394.27 L258.17,391.09 L261.77,387.87 L265.38,384.59 L268.98,381.22 L272.58,377.75 L276.19,374.13 L279.79,370.35 L283.39,366.36 L287,362.14 L290.6,357.65 L294.2,352.86 L297.81,347.73 L301.41,342.24 L305.01,336.36 L308.62,330.08 L312.22,323.36 L315.82,316.22 L319.43,308.65 L323.03,300.66 L326.63,292.27 L330.24,283.51 L333.84,274.41 L337.44,265.03 L341.05,255.41 L344.65,245.63 L348.25,235.76 L351.86,225.87 L355.46,216.04 L359.06,206.37 L362.67,196.94 L366.27,187.84 L369.87,179.15 L373.48,170.95 L377.08,163.33 L380.68,156.33 L384.29,150.03 L387.89,144.48 L391.49,139.7 L395.1,135.72 L398.7,132.57 L402.3,130.23 L405.91,128.69 L409.51,127.93 L413.11,127.92 L416.72,128.61 L420.32,129.95 L423.92,131.87 L427.53,134.31 L431.13,137.21 L434.73,140.47 L438.34,144.05 L441.94,147.85 L445.54,151.83 L449.15,155.91 L452.75,160.04 L456.35,164.16 L459.96,168.24 L463.56,172.24 L467.16,176.13 L470.77,179.91 L474.37,183.55 L477.97,187.06 L481.58,190.45 L485.18,193.73 L488.78,196.92 L492.39,200.05 L495.99,203.14 L499.59,206.24 L503.2,209.36 L506.8,212.56 L510.4,215.87 L514.01,219.31 L517.61,222.93 L521.21,226.75 L524.82,230.8 L528.42,235.1 L532.02,239.67 L535.63,244.52 L539.23,249.65 L542.83,255.08 L546.44,260.79 L550.04,266.79 L553.64,273.04 L557.25,279.55 L560.85,286.29 L564.45,293.22 L568.06,300.33 L571.66,307.59 L575.26,314.97 L578.87,322.43 L582.47,329.93 L586.07,337.46 L589.68,344.97 L593.28,352.44 L596.88,359.83 L600.49,367.13 L604.09,374.29 L607.69,381.3 L611.3,388.15 L614.9,394.8 L618.5,401.24 L622.11,407.46 L625.71,413.45 L629.31,419.19 L632.92,424.69 L636.52,429.92 L640.12,434.9 L643.73,439.61 L647.33,444.06 L650.93,448.24 L654.54,452.17 L658.14,455.83 L661.74,459.25 L665.35,462.42 L668.95,465.35 L672.55,468.05 L676.16,470.53 L679.76,472.8 L683.36,474.86 L686.97,476.73 L690.57,478.42 L694.17,479.93 L697.78,481.29 L701.38,482.5 L704.98,483.57 L708.59,484.51 L712.19,485.34 L715.79,486.07 L719.4,486.7 L723,487.24"/>
<path d="M150.07,470.83 L153.67,468.3 L157.27,465.54 L160.88,462.56 L164.48,459.35 L168.08,455.92 L171.69,452.27 L175.29,448.41 L178.89,444.35 L182.5,440.1 L186.1,435.68 L189.7,431.12 L193.31,426.44 L196.91,421.66 L200.51,416.81 L204.12,411.94 L207.72,407.05 L211.32,402.21 L214.93,397.42 L218.53,392.74 L222.13,388.19 L225.74,383.81 L229.34,379.62 L232.94,375.64 L236.55,371.9 L240.15,368.41 L243.75,365.18 L247.36,362.22 L250.96,359.52 L254.57,357.08 L258.17,354.87 L261.77,352.89 L265.38,351.09 L268.98,349.45 L272.58,347.92 L276.19,346.46 L279.79,345.03 L283.39,343.56 L287,342.01 L290.6,340.32 L294.2,338.44 L297.81,336.3 L301.41,333.85 L305.01,331.05 L308.62,327.84 L312.22,324.18 L315.82,320.04 L319.43,315.39 L323.03,310.21 L326.63,304.48 L330.24,298.2 L333.84,291.39 L337.44,284.05 L341.05,276.23 L344.65,267.96 L348.25,259.29 L351.86,250.29 L355.46,241.02 L359.06,231.57 L362.67,222.01 L366.27,212.45 L369.87,202.97 L373.48,193.68 L377.08,184.66 L380.68,176.01 L384.29,167.83 L387.89,160.18 L391.49,153.15 L395.1,146.8 L398.7,141.19 L402.3,136.34 L405.91,132.3 L409.51,129.08 L413.11,126.67 L416.72,125.08 L420.32,124.28 L423.92,124.23 L427.53,124.91 L431.13,126.27 L434.73,128.25 L438.34,130.81 L441.94,133.9 L445.54,137.45 L449.15,141.43 L452.75,145.78 L456.35,150.46 L459.96,155.44 L463.56,160.69 L467.16,166.17 L470.77,171.86 L474.37,177.76 L477.97,183.83 L481.58,190.08 L485.18,196.49 L488.78,203.04 L492.39,209.73 L495.99,216.54 L499.59,223.45 L503.2,230.44 L506.8,237.48 L510.4,244.56 L514.01,251.63 L517.61,258.66 L521.21,265.62 L524.82,272.47 L528.42,279.17 L532.02,285.69 L535.63,292 L539.23,298.08 L542.83,303.89 L546.44,309.44 L550.04,314.71 L553.64,319.71 L557.25,324.44 L560.85,328.92 L564.45,333.17 L568.06,337.23 L571.66,341.12 L575.26,344.89 L578.87,348.57 L582.47,352.21 L586.07,355.85 L589.68,359.51 L593.28,363.25 L596.88,367.08 L600.49,371.04 L604.09,375.13 L607.69,379.37 L611.3,383.76 L614.9,388.3 L618.5,392.98 L622.11,397.78 L625.71,402.67 L629.31,407.64 L632.92,412.65 L636.52,417.67 L640.12,422.66 L643.73,427.6 L647.33,432.45 L650.93,437.17 L654.54,441.74 L658.14,446.13 L661.74,450.33 L665.35,454.3 L668.95,458.04 L672.55,461.53 L676.16,464.78 L679.76,467.77 L683.36,470.52 L686.97,473.01 L690.57,475.27 L694.17,477.29 L697.78,479.1 L701.38,480.71 L704.98,482.12 L708.59,483.35 L712.19,484.43 L715.79,485.36 L719.4,486.16 L723,486.84"/>
<path d="M150.07,478.65 L153.67,477.12 L157.27,475.44 L160.88,473.62 L164.48,471.65 L168.08,469.52 L171.69,467.23 L175.29,464.79 L178.89,462.19 L182.5,459.44 L186.1,456.55 L189.7,453.51 L193.31,450.35 L196.91,447.06 L200.51,443.65 L204.12,440.14 L207.72,436.54 L211.32,432.86 L214.93,429.12 L218.53,425.32 L222.13,421.48 L225.74,417.61 L229.34,413.71 L232.94,409.8 L236.55,405.89 L240.15,401.97 L243.75,398.04 L247.36,394.12 L250.96,390.19 L254.57,386.24 L258.17,382.27 L261.77,378.27 L265.38,374.23 L268.98,370.11 L272.58,365.92 L276.19,361.63 L279.79,357.21 L283.39,352.66 L287,347.94 L290.6,343.04 L294.2,337.95 L297.81,332.64 L301.41,327.11 L305.01,321.34 L308.62,315.35 L312.22,309.11 L315.82,302.65 L319.43,295.97 L323.03,289.08 L326.63,282.03 L330.24,274.82 L333.84,267.49 L337.44,260.08 L341.05,252.64 L344.65,245.2 L348.25,237.82 L351.86,230.55 L355.46,223.43 L359.06,216.51 L362.67,209.84 L366.27,203.48 L369.87,197.45 L373.48,191.8 L377.08,186.55 L380.68,181.75 L384.29,177.4 L387.89,173.52 L391.49,170.12 L395.1,167.19 L398.7,164.74 L402.3,162.76 L405.91,161.21 L409.51,160.09 L413.11,159.36 L416.72,159 L420.32,158.98 L423.92,159.26 L427.53,159.82 L431.13,160.61 L434.73,161.62 L438.34,162.81 L441.94,164.16 L445.54,165.65 L449.15,167.27 L452.75,169 L456.35,170.85 L459.96,172.79 L463.56,174.85 L467.16,177.02 L470.77,179.31 L474.37,181.73 L477.97,184.3 L481.58,187.04 L485.18,189.96 L488.78,193.07 L492.39,196.39 L495.99,199.94 L499.59,203.72 L503.2,207.74 L506.8,212.01 L510.4,216.53 L514.01,221.28 L517.61,226.28 L521.21,231.5 L524.82,236.93 L528.42,242.56 L532.02,248.36 L535.63,254.31 L539.23,260.38 L542.83,266.55 L546.44,272.79 L550.04,279.07 L553.64,285.36 L557.25,291.65 L560.85,297.91 L564.45,304.11 L568.06,310.23 L571.66,316.27 L575.26,322.22 L578.87,328.05 L582.47,333.76 L586.07,339.36 L589.68,344.85 L593.28,350.21 L596.88,355.47 L600.49,360.62 L604.09,365.68 L607.69,370.65 L611.3,375.53 L614.9,380.35 L618.5,385.09 L622.11,389.78 L625.71,394.41 L629.31,398.99 L632.92,403.52 L636.52,408 L640.12,412.41 L643.73,416.77 L647.33,421.06 L650.93,425.28 L654.54,429.41 L658.14,433.45 L661.74,437.39 L665.35,441.21 L668.95,444.91 L672.55,448.47 L676.16,451.89 L679.76,455.15 L683.36,458.26 L686.97,461.2 L690.57,463.97 L694.17,466.57 L697.78,469 L701.38,471.25 L704.98,473.34 L708.59,475.25 L712.19,477 L715.79,478.6 L719.4,480.04 L723,481.34"/>
<path d="M150.07,464.68 L153.67,461.95 L157.27,459.02 L160.88,455.89 L164.48,452.56 L168.08,449.03 L171.69,445.3 L175.29,441.38 L178.89,437.27 L182.5,432.98 L186.1,428.51 L189.7,423.88 L193.31,419.09 L196.91,414.16 L200.51,409.1 L204.12,403.92 L207.72,398.63 L211.32,393.26 L214.93,387.81 L218.53,382.29 L222.13,376.73 L225.74,371.13 L229.34,365.52 L232.94,359.89 L236.55,354.26 L240.15,348.64 L243.75,343.05 L247.36,337.49 L250.96,331.96 L254.57,326.48 L258.17,321.04 L261.77,315.67 L265.38,310.35 L268.98,305.1 L272.58,299.92 L276.19,294.82 L279.79,289.8 L283.39,284.86 L287,280.03 L290.6,275.29 L294.2,270.67 L297.81,266.17 L301.41,261.8 L305.01,257.57 L308.62,253.5 L312.22,249.6 L315.82,245.88 L319.43,242.36 L323.03,239.04 L326.63,235.95 L330.24,233.08 L333.84,230.45 L337.44,228.08 L341.05,225.96 L344.65,224.1 L348.25,222.5 L351.86,221.16 L355.46,220.08 L359.06,219.26 L362.67,218.67 L366.27,218.31 L369.87,218.17 L373.48,218.23 L377.08,218.47 L380.68,218.88 L384.29,219.42 L387.89,220.08 L391.49,220.83 L395.1,221.66 L398.7,222.54 L402.3,223.45 L405.91,224.37 L409.51,225.28 L413.11,226.18 L416.72,227.04 L420.32,227.87 L423.92,228.64 L427.53,229.36 L431.13,230.03 L434.73,230.66 L438.34,231.23 L441.94,231.77 L445.54,232.28 L449.15,232.78 L452.75,233.28 L456.35,233.8 L459.96,234.35 L463.56,234.95 L467.16,235.62 L470.77,236.38 L474.37,237.25 L477.97,238.24 L481.58,239.37 L485.18,240.65 L488.78,242.11 L492.39,243.74 L495.99,245.58 L499.59,247.61 L503.2,249.85 L506.8,252.31 L510.4,254.98 L514.01,257.88 L517.61,260.99 L521.21,264.31 L524.82,267.84 L528.42,271.58 L532.02,275.51 L535.63,279.63 L539.23,283.92 L542.83,288.37 L546.44,292.98 L550.04,297.72 L553.64,302.57 L557.25,307.54 L560.85,312.59 L564.45,317.72 L568.06,322.91 L571.66,328.13 L575.26,333.39 L578.87,338.65 L582.47,343.91 L586.07,349.16 L589.68,354.37 L593.28,359.53 L596.88,364.64 L600.49,369.68 L604.09,374.65 L607.69,379.52 L611.3,384.3 L614.9,388.97 L618.5,393.54 L622.11,397.99 L625.71,402.32 L629.31,406.53 L632.92,410.62 L636.52,414.57 L640.12,418.4 L643.73,422.11 L647.33,425.68 L650.93,429.13 L654.54,432.46 L658.14,435.66 L661.74,438.74 L665.35,441.7 L668.95,444.54 L672.55,447.27 L676.16,449.89 L679.76,452.39 L683.36,454.8 L686.97,457.09 L690.57,459.29 L694.17,461.38 L697.78,463.38 L701.38,465.28 L704.98,467.09 L708.59,468.81 L712.19,470.44 L715.79,471.98 L719.4,473.44 L723,474.81"/>
<path d="M150.07,488.27 L153.67,487.9 L157.27,487.48 L160.88,486.98 L164.48,486.41 L168.08,485.76 L171.69,485.02 L175.29,484.17 L178.89,483.21 L182.5,482.13 L186.1,480.92 L189.7,479.56 L193.31,478.06 L196.91,476.39 L200.51,474.56 L204.12,472.53 L207.72,470.31 L211.32,467.89 L214.93,465.25 L218.53,462.37 L222.13,459.26 L225.74,455.89 L229.34,452.25 L232.94,448.33 L236.55,444.12 L240.15,439.6 L243.75,434.75 L247.36,429.57 L250.96,424.04 L254.57,418.14 L258.17,411.87 L261.77,405.22 L265.38,398.17 L268.98,390.73 L272.58,382.89 L276.19,374.65 L279.79,366.02 L283.39,357.01 L287,347.65 L290.6,337.95 L294.2,327.95 L297.81,317.68 L301.41,307.2 L305.01,296.56 L308.62,285.81 L312.22,275.02 L315.82,264.27 L319.43,253.63 L323.03,243.18 L326.63,233 L330.24,223.18 L333.84,213.79 L337.44,204.92 L341.05,196.64 L344.65,189.01 L348.25,182.11 L351.86,175.96 L355.46,170.63 L359.06,166.13 L362.67,162.47 L366.27,159.66 L369.87,157.69 L373.48,156.53 L377.08,156.14 L380.68,156.46 L384.29,157.44 L387.89,159.01 L391.49,161.08 L395.1,163.56 L398.7,166.37 L402.3,169.41 L405.91,172.59 L409.51,175.82 L413.11,179 L416.72,182.07 L420.32,184.93 L423.92,187.52 L427.53,189.8 L431.13,191.7 L434.73,193.2 L438.34,194.28 L441.94,194.92 L445.54,195.12 L449.15,194.91 L452.75,194.29 L456.35,193.32 L459.96,192.03 L463.56,190.47 L467.16,188.71 L470.77,186.8 L474.37,184.83 L477.97,182.87 L481.58,180.98 L485.18,179.25 L488.78,177.76 L492.39,176.57 L495.99,175.75 L499.59,175.37 L503.2,175.49 L506.8,176.17 L510.4,177.43 L514.01,179.33 L517.61,181.89 L521.21,185.12 L524.82,189.04 L528.42,193.64 L532.02,198.9 L535.63,204.82 L539.23,211.36 L542.83,218.48 L546.44,226.14 L550.04,234.28 L553.64,242.85 L557.25,251.78 L560.85,261.02 L564.45,270.49 L568.06,280.14 L571.66,289.88 L575.26,299.67 L578.87,309.43 L582.47,319.12 L586.07,328.67 L589.68,338.03 L593.28,347.18 L596.88,356.06 L600.49,364.65 L604.09,372.93 L607.69,380.87 L611.3,388.46 L614.9,395.7 L618.5,402.58 L622.11,409.09 L625.71,415.25 L629.31,421.06 L632.92,426.53 L636.52,431.67 L640.12,436.49 L643.73,441.01 L647.33,445.24 L650.93,449.18 L654.54,452.86 L658.14,456.29 L661.74,459.48 L665.35,462.44 L668.95,465.18 L672.55,467.72 L676.16,470.06 L679.76,472.21 L683.36,474.18 L686.97,475.99 L690.57,477.63 L694.17,479.13 L697.78,480.48 L701.38,481.7 L704.98,482.8 L708.59,483.78 L712.19,484.65 L715.79,485.42 L719.4,486.11 L723,486.7"/>
<path d="M150.07,479.11 L153.67,477.71 L157.27,476.17 L160.88,474.49 L164.48,472.67 L168.08,470.7 L171.69,468.57 L175.29,466.29 L178.89,463.84 L182.5,461.22 L186.1,458.43 L189.7,455.47 L193.31,452.33 L196.91,449.01 L200.51,445.51 L204.12,441.82 L207.72,437.95 L211.32,433.9 L214.93,429.65 L218.53,425.22 L222.13,420.59 L225.74,415.78 L229.34,410.77 L232.94,405.57 L236.55,400.18 L240.15,394.6 L243.75,388.83 L247.36,382.86 L250.96,376.71 L254.57,370.38 L258.17,363.86 L261.77,357.16 L265.38,350.29 L268.98,343.25 L272.58,336.05 L276.19,328.7 L279.79,321.21 L283.39,313.58 L287,305.84 L290.6,297.98 L294.2,290.04 L297.81,282.02 L301.41,273.94 L305.01,265.82 L308.62,257.67 L312.22,249.54 L315.82,241.42 L319.43,233.35 L323.03,225.35 L326.63,217.45 L330.24,209.68 L333.84,202.05 L337.44,194.61 L341.05,187.38 L344.65,180.39 L348.25,173.68 L351.86,167.27 L355.46,161.2 L359.06,155.5 L362.67,150.21 L366.27,145.35 L369.87,140.96 L373.48,137.07 L377.08,133.71 L380.68,130.9 L384.29,128.66 L387.89,127.03 L391.49,126.02 L395.1,125.63 L398.7,125.89 L402.3,126.79 L405.91,128.34 L409.51,130.53 L413.11,133.34 L416.72,136.77 L420.32,140.79 L423.92,145.37 L427.53,150.48 L431.13,156.09 L434.73,162.16 L438.34,168.64 L441.94,175.49 L445.54,182.65 L449.15,190.09 L452.75,197.75 L456.35,205.57 L459.96,213.52 L463.56,221.54 L467.16,229.58 L470.77,237.6 L474.37,245.55 L477.97,253.4 L481.58,261.1 L485.18,268.61 L488.78,275.91 L492.39,282.97 L495.99,289.75 L499.59,296.24 L503.2,302.4 L506.8,308.22 L510.4,313.69 L514.01,318.79 L517.61,323.5 L521.21,327.83 L524.82,331.77 L528.42,335.31 L532.02,338.47 L535.63,341.25 L539.23,343.67 L542.83,345.73 L546.44,347.47 L550.04,348.91 L553.64,350.07 L557.25,351 L560.85,351.72 L564.45,352.29 L568.06,352.74 L571.66,353.12 L575.26,353.48 L578.87,353.87 L582.47,354.32 L586.07,354.89 L589.68,355.61 L593.28,356.53 L596.88,357.68 L600.49,359.1 L604.09,360.79 L607.69,362.8 L611.3,365.11 L614.9,367.75 L618.5,370.71 L622.11,373.98 L625.71,377.55 L629.31,381.39 L632.92,385.49 L636.52,389.82 L640.12,394.34 L643.73,399.01 L647.33,403.81 L650.93,408.68 L654.54,413.6 L658.14,418.52 L661.74,423.41 L665.35,428.22 L668.95,432.94 L672.55,437.52 L676.16,441.95 L679.76,446.2 L683.36,450.25 L686.97,454.08 L690.57,457.69 L694.17,461.06 L697.78,464.2 L701.38,467.11 L704.98,469.78 L708.59,472.22 L712.19,474.43 L715.79,476.44 L719.4,478.24 L723,479.85"/>
<path d="M150.07,487.69 L153.67,487.18 L157.27,486.58 L160.88,485.89 L164.48,485.07 L168.08,484.13 L171.69,483.03 L175.29,481.78 L178.89,480.35 L182.5,478.72 L186.1,476.87 L189.7,474.79 L193.31,472.46 L196.91,469.87 L200.51,466.99 L204.12,463.81 L207.72,460.31 L211.32,456.49 L214.93,452.34 L218.53,447.83 L222.13,442.98 L225.74,437.78 L229.34,432.22 L232.94,426.31 L236.55,420.05 L240.15,413.46 L243.75,406.55 L247.36,399.32 L250.96,391.8 L254.57,384 L258.17,375.94 L261.77,367.65 L265.38,359.15 L268.98,350.46 L272.58,341.61 L276.19,332.62 L279.79,323.51 L283.39,314.31 L287,305.05 L290.6,295.75 L294.2,286.43 L297.81,277.13 L301.41,267.86 L305.01,258.67 L308.62,249.57 L312.22,240.6 L315.82,231.78 L319.43,223.17 L323.03,214.79 L326.63,206.68 L330.24,198.88 L333.84,191.44 L337.44,184.41 L341.05,177.82 L344.65,171.72 L348.25,166.16 L351.86,161.18 L355.46,156.81 L359.06,153.1 L362.67,150.07 L366.27,147.75 L369.87,146.15 L373.48,145.29 L377.08,145.15 L380.68,145.74 L384.29,147.04 L387.89,149.01 L391.49,151.63 L395.1,154.84 L398.7,158.6 L402.3,162.83 L405.91,167.49 L409.51,172.49 L413.11,177.75 L416.72,183.21 L420.32,188.78 L423.92,194.39 L427.53,199.95 L431.13,205.41 L434.73,210.68 L438.34,215.7 L441.94,220.43 L445.54,224.81 L449.15,228.8 L452.75,232.38 L456.35,235.51 L459.96,238.19 L463.56,240.42 L467.16,242.19 L470.77,243.53 L474.37,244.45 L477.97,244.99 L481.58,245.19 L485.18,245.08 L488.78,244.72 L492.39,244.17 L495.99,243.47 L499.59,242.7 L503.2,241.91 L506.8,241.16 L510.4,240.53 L514.01,240.06 L517.61,239.82 L521.21,239.87 L524.82,240.24 L528.42,241 L532.02,242.17 L535.63,243.79 L539.23,245.89 L542.83,248.48 L546.44,251.58 L550.04,255.19 L553.64,259.32 L557.25,263.95 L560.85,269.06 L564.45,274.64 L568.06,280.65 L571.66,287.07 L575.26,293.85 L578.87,300.96 L582.47,308.35 L586.07,315.97 L589.68,323.79 L593.28,331.74 L596.88,339.78 L600.49,347.86 L604.09,355.94 L607.69,363.96 L611.3,371.9 L614.9,379.69 L618.5,387.32 L622.11,394.74 L625.71,401.93 L629.31,408.86 L632.92,415.5 L636.52,421.84 L640.12,427.86 L643.73,433.55 L647.33,438.91 L650.93,443.94 L654.54,448.62 L658.14,452.96 L661.74,456.98 L665.35,460.68 L668.95,464.06 L672.55,467.14 L676.16,469.94 L679.76,472.47 L683.36,474.74 L686.97,476.77 L690.57,478.59 L694.17,480.19 L697.78,481.61 L701.38,482.85 L704.98,483.94 L708.59,484.89 L712.19,485.71 L715.79,486.41 L719.4,487.02 L723,487.54"/>
<path d="M150.07,470.31 L153.67,468.06 L157.27,465.63 L160.88,463.01 L164.48,460.2 L168.08,457.2 L171.69,454.01 L175.29,450.63 L178.89,447.05 L182.5,443.28 L186.1,439.32 L189.7,435.18 L193.31,430.85 L196.91,426.36 L200.51,421.7 L204.12,416.9 L207.72,411.95 L211.32,406.87 L214.93,401.69 L218.53,396.4 L222.13,391.04 L225.74,385.61 L229.34,380.14 L232.94,374.64 L236.55,369.14 L240.15,363.65 L243.75,358.2 L247.36,352.8 L250.96,347.48 L254.57,342.24 L258.17,337.12 L261.77,332.11 L265.38,327.25 L268.98,322.53 L272.58,317.96 L276.19,313.56 L279.79,309.32 L283.39,305.25 L287,301.34 L290.6,297.58 L294.2,293.96 L297.81,290.47 L301.41,287.1 L305.01,283.82 L308.62,280.6 L312.22,277.44 L315.82,274.3 L319.43,271.15 L323.03,267.97 L326.63,264.74 L330.24,261.43 L333.84,258.01 L337.44,254.48 L341.05,250.8 L344.65,246.97 L348.25,242.99 L351.86,238.85 L355.46,234.55 L359.06,230.1 L362.67,225.52 L366.27,220.82 L369.87,216.05 L373.48,211.21 L377.08,206.36 L380.68,201.54 L384.29,196.78 L387.89,192.14 L391.49,187.67 L395.1,183.42 L398.7,179.43 L402.3,175.76 L405.91,172.46 L409.51,169.57 L413.11,167.13 L416.72,165.18 L420.32,163.74 L423.92,162.85 L427.53,162.51 L431.13,162.74 L434.73,163.53 L438.34,164.89 L441.94,166.79 L445.54,169.22 L449.15,172.15 L452.75,175.55 L456.35,179.37 L459.96,183.58 L463.56,188.13 L467.16,192.96 L470.77,198.03 L474.37,203.28 L477.97,208.65 L481.58,214.11 L485.18,219.6 L488.78,225.08 L492.39,230.5 L495.99,235.84 L499.59,241.05 L503.2,246.12 L506.8,251.03 L510.4,255.77 L514.01,260.33 L517.61,264.71 L521.21,268.92 L524.82,272.97 L528.42,276.88 L532.02,280.68 L535.63,284.38 L539.23,288.01 L542.83,291.61 L546.44,295.21 L550.04,298.83 L553.64,302.5 L557.25,306.27 L560.85,310.14 L564.45,314.15 L568.06,318.32 L571.66,322.66 L575.26,327.17 L578.87,331.88 L582.47,336.78 L586.07,341.86 L589.68,347.12 L593.28,352.55 L596.88,358.13 L600.49,363.84 L604.09,369.65 L607.69,375.54 L611.3,381.48 L614.9,387.45 L618.5,393.4 L622.11,399.32 L625.71,405.16 L629.31,410.91 L632.92,416.53 L636.52,421.99 L640.12,427.28 L643.73,432.37 L647.33,437.25 L650.93,441.9 L654.54,446.3 L658.14,450.46 L661.74,454.35 L665.35,458 L668.95,461.38 L672.55,464.51 L676.16,467.38 L679.76,470.02 L683.36,472.41 L686.97,474.59 L690.57,476.55 L694.17,478.31 L697.78,479.89 L701.38,481.29 L704.98,482.53 L708.59,483.62 L712.19,484.57 L715.79,485.41 L719.4,486.13 L723,486.76"/>
</g>
<path d="M150.07,484.73 L153.67,483.82 L157.27,482.79 L160.88,481.62 L164.48,480.32 L168.08,478.85 L171.69,477.23 L175.29,475.43 L178.89,473.46 L182.5,471.29 L186.1,468.92 L189.7,466.34 L193.31,463.55 L196.91,460.54 L200.51,457.29 L204.12,453.82 L207.72,450.11 L211.32,446.15 L214.93,441.95 L218.53,437.49 L222.13,432.77 L225.74,427.79 L229.34,422.54 L232.94,417.02 L236.55,411.21 L240.15,405.13 L243.75,398.75 L247.36,392.08 L250.96,385.12 L254.57,377.86 L258.17,370.3 L261.77,362.44 L265.38,354.29 L268.98,345.86 L272.58,337.15 L276.19,328.19 L279.79,318.99 L283.39,309.58 L287,299.98 L290.6,290.24 L294.2,280.38 L297.81,270.45 L301.41,260.5 L305.01,250.57 L308.62,240.71 L312.22,230.97 L315.82,221.41 L319.43,212.08 L323.03,203.02 L326.63,194.28 L330.24,185.91 L333.84,177.94 L337.44,170.41 L341.05,163.36 L344.65,156.79 L348.25,150.74 L351.86,145.22 L355.46,140.24 L359.06,135.79 L362.67,131.88 L366.27,128.51 L369.87,125.66 L373.48,123.33 L377.08,121.51 L380.68,120.19 L384.29,119.35 L387.89,118.99 L391.49,119.1 L395.1,119.66 L398.7,120.67 L402.3,122.13 L405.91,124.03 L409.51,126.36 L413.11,129.14 L416.72,132.35 L420.32,135.99 L423.92,140.06 L427.53,144.56 L431.13,149.48 L434.73,154.82 L438.34,160.56 L441.94,166.68 L445.54,173.17 L449.15,180.01 L452.75,187.17 L456.35,194.62 L459.96,202.33 L463.56,210.26 L467.16,218.36 L470.77,226.61 L474.37,234.94 L477.97,243.32 L481.58,251.71 L485.18,260.05 L488.78,268.3 L492.39,276.42 L495.99,284.36 L499.59,292.09 L503.2,299.57 L506.8,306.78 L510.4,313.68 L514.01,320.24 L517.61,326.46 L521.21,332.31 L524.82,337.79 L528.42,342.88 L532.02,347.59 L535.63,351.92 L539.23,355.86 L542.83,359.44 L546.44,362.67 L550.04,365.55 L553.64,368.12 L557.25,370.38 L560.85,372.37 L564.45,374.11 L568.06,375.63 L571.66,376.95 L575.26,378.11 L578.87,379.13 L582.47,380.05 L586.07,380.9 L589.68,381.7 L593.28,382.5 L596.88,383.3 L600.49,384.16 L604.09,385.08 L607.69,386.09 L611.3,387.21 L614.9,388.46 L618.5,389.86 L622.11,391.42 L625.71,393.15 L629.31,395.05 L632.92,397.12 L636.52,399.38 L640.12,401.8 L643.73,404.39 L647.33,407.14 L650.93,410.03 L654.54,413.05 L658.14,416.19 L661.74,419.43 L665.35,422.74 L668.95,426.11 L672.55,429.52 L676.16,432.95 L679.76,436.37 L683.36,439.78 L686.97,443.13 L690.57,446.43 L694.17,449.65 L697.78,452.77 L701.38,455.79 L704.98,458.69 L708.59,461.45 L712.19,464.08 L715.79,466.56 L719.4,468.9 L723,471.08" stroke="#3aaf85" stroke-width="6"/>
</g>
<path d="M122,82 L122,509 L752.5,509" fill="none" stroke="#c4c4c4" stroke-width="2" stroke-linejoin="miter"/>
<text x="21.2" y="40.9" font-size="25.15" fill="#000" text-anchor="start" >Posterior Predictive Check</text>
<text x="21.2" y="68.7" font-size="20.9" fill="#000" text-anchor="start" >Model-predicted lines should resemble observed data line</text>
<text x="250" y="533.7" font-size="19.0" fill="#6b6b6b" text-anchor="middle" >10</text>
<text x="422" y="533.7" font-size="19.0" fill="#6b6b6b" text-anchor="middle" >20</text>
<text x="594" y="533.7" font-size="19.0" fill="#6b6b6b" text-anchor="middle" >30</text>
<text x="112.3" y="498.1" font-size="19.0" fill="#6b6b6b" text-anchor="end" >0.00</text>
<text x="112.3" y="385.4" font-size="19.0" fill="#6b6b6b" text-anchor="end" >0.02</text>
<text x="112.3" y="272.7" font-size="19.0" fill="#6b6b6b" text-anchor="end" >0.04</text>
<text x="112.3" y="160" font-size="19.0" fill="#6b6b6b" text-anchor="end" >0.06</text>
<text x="437.25" y="565.3" font-size="21.1" fill="#454545" text-anchor="middle" >mpg</text>
<text transform="translate(37.6,295.5) rotate(-90)" font-size="21.5" fill="#454545" text-anchor="middle" >Density</text>
<line x1="242" x2="271" y1="596" y2="596" stroke="#3aaf85" stroke-width="1.8"/>
<text x="285.3" y="604" font-size="19.0" fill="#454545" text-anchor="start" >Observed data</text>
<line x1="424" x2="453" y1="596" y2="596" stroke="#1b6ca8" stroke-width="1.8"/>
<text x="467.5" y="604" font-size="19.0" fill="#454545" text-anchor="start" >Model-predicted data</text>
<clipPath id="c2"><rect x="846" y="82" width="632" height="427"/></clipPath>
<line x1="931" x2="931" y1="82" y2="509" stroke="#e4e4e4" stroke-width="2"/>
<line x1="1086" x2="1086" y1="82" y2="509" stroke="#e4e4e4" stroke-width="2"/>
<line x1="1241" x2="1241" y1="82" y2="509" stroke="#e4e4e4" stroke-width="2"/>
<line x1="1396" x2="1396" y1="82" y2="509" stroke="#e4e4e4" stroke-width="2"/>
<line x1="854" x2="854" y1="82" y2="509" stroke="#e4e4e4" stroke-width="2"/>
<line x1="1009" x2="1009" y1="82" y2="509" stroke="#e4e4e4" stroke-width="2"/>
<line x1="1163" x2="1163" y1="82" y2="509" stroke="#e4e4e4" stroke-width="2"/>
<line x1="1318" x2="1318" y1="82" y2="509" stroke="#e4e4e4" stroke-width="2"/>
<line x1="1473" x2="1473" y1="82" y2="509" stroke="#e4e4e4" stroke-width="2"/>
<line x1="846" x2="1478" y1="164" y2="164" stroke="#e4e4e4" stroke-width="2"/>
<line x1="846" x2="1478" y1="261" y2="261" stroke="#e4e4e4" stroke-width="2"/>
<line x1="846" x2="1478" y1="358" y2="358" stroke="#e4e4e4" stroke-width="2"/>
<line x1="846" x2="1478" y1="455" y2="455" stroke="#e4e4e4" stroke-width="2"/>
<line x1="846" x2="1478" y1="115" y2="115" stroke="#e4e4e4" stroke-width="2"/>
<line x1="846" x2="1478" y1="212" y2="212" stroke="#e4e4e4" stroke-width="2"/>
<line x1="846" x2="1478" y1="309" y2="309" stroke="#e4e4e4" stroke-width="2"/>
<line x1="846" x2="1478" y1="407" y2="407" stroke="#e4e4e4" stroke-width="2"/>
<line x1="846" x2="1478" y1="504" y2="504" stroke="#e4e4e4" stroke-width="2"/>
<g clip-path="url(#c2)">
<circle cx="1226.44" cy="349.05" r="4.4" fill="#1b6ca8" fill-opacity="0.8"/>
<circle cx="1202.06" cy="318.42" r="4.4" fill="#1b6ca8" fill-opacity="0.8"/>
<circle cx="1382.91" cy="475.57" r="4.4" fill="#1b6ca8" fill-opacity="0.8"/>
<circle cx="1166.39" cy="258.07" r="4.4" fill="#1b6ca8" fill-opacity="0.8"/>
<circle cx="1064.96" cy="235.7" r="4.4" fill="#1b6ca8" fill-opacity="0.8"/>
<circle cx="1142.96" cy="357.01" r="4.4" fill="#1b6ca8" fill-opacity="0.8"/>
<circle cx="1052.53" cy="391.24" r="4.4" fill="#1b6ca8" fill-opacity="0.8"/>
<circle cx="1259.49" cy="258.31" r="4.4" fill="#1b6ca8" fill-opacity="0.8"/>
<circle cx="1263.32" cy="325.35" r="4.4" fill="#1b6ca8" fill-opacity="0.8"/>
<circle cx="1119.72" cy="285.03" r="4.4" fill="#1b6ca8" fill-opacity="0.8"/>
<circle cx="1119.72" cy="339.49" r="4.4" fill="#1b6ca8" fill-opacity="0.8"/>
<circle cx="1004.72" cy="249.5" r="4.4" fill="#1b6ca8" fill-opacity="0.8"/>
<circle cx="1037.23" cy="255.33" r="4.4" fill="#1b6ca8" fill-opacity="0.8"/>
<circle cx="1032.45" cy="331.01" r="4.4" fill="#1b6ca8" fill-opacity="0.8"/>
<circle cx="891.89" cy="341.18" r="4.4" fill="#1b6ca8" fill-opacity="0.8"/>
<circle cx="875.25" cy="320.28" r="4.4" fill="#1b6ca8" fill-opacity="0.8"/>
<circle cx="882.81" cy="162.5" r="4.4" fill="#1b6ca8" fill-opacity="0.8"/>
<circle cx="1394.39" cy="116.54" r="4.4" fill="#1b6ca8" fill-opacity="0.8"/>
<circle cx="1450.33" cy="264.61" r="4.4" fill="#1b6ca8" fill-opacity="0.8"/>
<circle cx="1429.29" cy="102.03" r="4.4" fill="#1b6ca8" fill-opacity="0.8"/>
<circle cx="1353.97" cy="489.78" r="4.4" fill="#1b6ca8" fill-opacity="0.8"/>
<circle cx="1057.31" cy="350.57" r="4.4" fill="#1b6ca8" fill-opacity="0.8"/>
<circle cx="1065.44" cy="372.45" r="4.4" fill="#1b6ca8" fill-opacity="0.8"/>
<circle cx="1026.71" cy="397.71" r="4.4" fill="#1b6ca8" fill-opacity="0.8"/>
<circle cx="1026.24" cy="167.6" r="4.4" fill="#1b6ca8" fill-opacity="0.8"/>
<circle cx="1419.73" cy="346.76" r="4.4" fill="#1b6ca8" fill-opacity="0.8"/>
<circle cx="1315.17" cy="266.01" r="4.4" fill="#1b6ca8" fill-opacity="0.8"/>
<circle cx="1434.93" cy="245.26" r="4.4" fill="#1b6ca8" fill-opacity="0.8"/>
<circle cx="1080.71" cy="368.28" r="4.4" fill="#1b6ca8" fill-opacity="0.8"/>
<circle cx="1186.94" cy="350.01" r="4.4" fill="#1b6ca8" fill-opacity="0.8"/>
<circle cx="1042.46" cy="351.36" r="4.4" fill="#1b6ca8" fill-opacity="0.8"/>
<circle cx="1338.93" cy="474.78" r="4.4" fill="#1b6ca8" fill-opacity="0.8"/>
<path d="M875.25,150.08 L882.53,160.36 L889.81,170.08 L897.09,179.21 L904.37,187.75 L911.65,195.71 L918.93,203.07 L926.21,209.84 L933.49,216.02 L940.77,221.63 L948.05,226.68 L955.33,231.21 L962.6,235.25 L969.88,238.85 L977.16,242.04 L984.44,244.88 L991.72,247.43 L999,249.73 L1006.28,251.83 L1013.56,253.84 L1020.84,255.77 L1028.12,257.62 L1035.4,259.36 L1042.68,261.07 L1049.96,262.88 L1057.24,264.65 L1064.52,266.3 L1071.8,268.29 L1079.08,270.62 L1086.36,272.2 L1093.63,272.33 L1100.91,271.04 L1108.19,268.92 L1115.47,266.86 L1122.75,265.56 L1130.03,264.23 L1137.31,262.55 L1144.59,260.4 L1151.87,257.69 L1159.15,254.39 L1166.43,250.61 L1173.71,246.59 L1180.99,242.72 L1188.27,239.52 L1195.55,237.55 L1202.83,237.39 L1210.11,239.07 L1217.38,242.13 L1224.66,246.22 L1231.94,250.96 L1239.22,256.01 L1246.5,261.06 L1253.78,265.83 L1261.06,270.13 L1268.34,273.83 L1275.62,276.84 L1282.9,279.14 L1290.18,280.74 L1297.46,281.64 L1304.74,281.85 L1312.02,281.37 L1319.3,280.25 L1326.58,278.98 L1333.86,277.52 L1341.14,275.78 L1348.41,273.66 L1355.69,271.02 L1362.97,267.72 L1370.25,263.6 L1377.53,258.47 L1384.81,252.11 L1392.09,244.29 L1399.37,234.78 L1406.65,223.49 L1413.93,210.33 L1421.21,195.3 L1428.49,178.43 L1435.77,159.79 L1443.05,139.48 L1450.33,117.6 L1450.33,331.01 L1443.05,333.67 L1435.77,336.78 L1428.49,340.4 L1421.21,344.57 L1413.93,349.34 L1406.65,354.72 L1399.37,360.64 L1392.09,366.99 L1384.81,373.51 L1377.53,380.03 L1370.25,386.41 L1362.97,392.57 L1355.69,398.42 L1348.41,403.91 L1341.14,409.01 L1333.86,413.72 L1326.58,418.03 L1319.3,421.95 L1312.02,425.34 L1304.74,426.82 L1297.46,426.37 L1290.18,424.33 L1282.9,421.06 L1275.62,416.93 L1268.34,412.31 L1261.06,407.51 L1253.78,402.81 L1246.5,398.45 L1239.22,394.56 L1231.94,391.25 L1224.66,388.54 L1217.38,386.45 L1210.11,384.97 L1202.83,384.09 L1195.55,383.79 L1188.27,384.06 L1180.99,384.98 L1173.71,386.62 L1166.43,388.97 L1159.15,391.94 L1151.87,395.26 L1144.59,398.54 L1137.31,401.24 L1130.03,402.77 L1122.75,402.51 L1115.47,399.83 L1108.19,394.7 L1100.91,388.37 L1093.63,382.17 L1086.36,377.16 L1079.08,373.81 L1071.8,371.9 L1064.52,370.8 L1057.24,369.85 L1049.96,368.86 L1042.68,367.83 L1035.4,366.7 L1028.12,365.54 L1020.84,364.35 L1013.56,363.13 L1006.28,361.83 L999,360.49 L991.72,359.21 L984.44,358.03 L977.16,357.01 L969.88,356.21 L962.6,355.68 L955.33,355.47 L948.05,355.62 L940.77,356.19 L933.49,357.2 L926.21,358.67 L918.93,360.63 L911.65,363.08 L904.37,366.02 L897.09,369.47 L889.81,373.41 L882.53,377.84 L875.25,382.77Z" fill="#999" fill-opacity="0.2"/>
<path d="M875.25,266.42 L882.53,269.1 L889.81,271.74 L897.09,274.34 L904.37,276.89 L911.65,279.39 L918.93,281.85 L926.21,284.26 L933.49,286.61 L940.77,288.91 L948.05,291.15 L955.33,293.34 L962.6,295.46 L969.88,297.53 L977.16,299.52 L984.44,301.46 L991.72,303.32 L999,305.11 L1006.28,306.83 L1013.56,308.48 L1020.84,310.06 L1028.12,311.58 L1035.4,313.03 L1042.68,314.45 L1049.96,315.87 L1057.24,317.25 L1064.52,318.55 L1071.8,320.1 L1079.08,322.22 L1086.36,324.68 L1093.63,327.25 L1100.91,329.7 L1108.19,331.81 L1115.47,333.34 L1122.75,334.03 L1130.03,333.5 L1137.31,331.89 L1144.59,329.47 L1151.87,326.48 L1159.15,323.16 L1166.43,319.79 L1173.71,316.6 L1180.99,313.85 L1188.27,311.79 L1195.55,310.67 L1202.83,310.74 L1210.11,312.02 L1217.38,314.29 L1224.66,317.38 L1231.94,321.1 L1239.22,325.29 L1246.5,329.75 L1253.78,334.32 L1261.06,338.82 L1268.34,343.07 L1275.62,346.89 L1282.9,350.1 L1290.18,352.53 L1297.46,354 L1304.74,354.34 L1312.02,353.35 L1319.3,351.1 L1326.58,348.5 L1333.86,345.62 L1341.14,342.4 L1348.41,338.78 L1355.69,334.72 L1362.97,330.14 L1370.25,325.01 L1377.53,319.25 L1384.81,312.81 L1392.09,305.64 L1399.37,297.71 L1406.65,289.1 L1413.93,279.84 L1421.21,269.93 L1428.49,259.41 L1435.77,248.29 L1443.05,236.58 L1450.33,224.3" fill="none" stroke="#3aaf85" stroke-width="2.7" stroke-linejoin="round"/>
<line x1="846" x2="1478" y1="309" y2="309" stroke="#000" stroke-width="2" stroke-dasharray="8 8"/>
</g>
<path d="M846,82 L846,509 L1478,509" fill="none" stroke="#c4c4c4" stroke-width="2" stroke-linejoin="miter"/>
<text x="774.6" y="40.9" font-size="25.15" fill="#000" text-anchor="start" >Linearity</text>
<text x="774.6" y="68.7" font-size="20.9" fill="#000" text-anchor="start" >Reference line should be flat and horizontal</text>
<text x="853.8" y="533.7" font-size="19.0" fill="#6b6b6b" text-anchor="middle" >10</text>
<text x="1008.65" y="533.7" font-size="19.0" fill="#6b6b6b" text-anchor="middle" >15</text>
<text x="1163.5" y="533.7" font-size="19.0" fill="#6b6b6b" text-anchor="middle" >20</text>
<text x="1318.35" y="533.7" font-size="19.0" fill="#6b6b6b" text-anchor="middle" >25</text>
<text x="1473.2" y="533.7" font-size="19.0" fill="#6b6b6b" text-anchor="middle" >30</text>
<text x="836.3" y="123" font-size="19.0" fill="#6b6b6b" text-anchor="end" >5.0</text>
<text x="836.3" y="220.25" font-size="19.0" fill="#6b6b6b" text-anchor="end" >2.5</text>
<text x="836.3" y="317.5" font-size="19.0" fill="#6b6b6b" text-anchor="end" >0.0</text>
<text x="836.3" y="414.75" font-size="19.0" fill="#6b6b6b" text-anchor="end" >-2.5</text>
<text x="836.3" y="512" font-size="19.0" fill="#6b6b6b" text-anchor="end" >-5.0</text>
<text x="1162" y="565.3" font-size="21.1" fill="#454545" text-anchor="middle" >Fitted values</text>
<text transform="translate(790.8,295.5) rotate(-90)" font-size="21.5" fill="#454545" text-anchor="middle" >Residuals</text>
<clipPath id="c3"><rect x="122" y="685" width="630.5" height="427"/></clipPath>
<line x1="207" x2="207" y1="685" y2="1112" stroke="#e4e4e4" stroke-width="2"/>
<line x1="362" x2="362" y1="685" y2="1112" stroke="#e4e4e4" stroke-width="2"/>
<line x1="516" x2="516" y1="685" y2="1112" stroke="#e4e4e4" stroke-width="2"/>
<line x1="671" x2="671" y1="685" y2="1112" stroke="#e4e4e4" stroke-width="2"/>
<line x1="130" x2="130" y1="685" y2="1112" stroke="#e4e4e4" stroke-width="2"/>
<line x1="284" x2="284" y1="685" y2="1112" stroke="#e4e4e4" stroke-width="2"/>
<line x1="439" x2="439" y1="685" y2="1112" stroke="#e4e4e4" stroke-width="2"/>
<line x1="593" x2="593" y1="685" y2="1112" stroke="#e4e4e4" stroke-width="2"/>
<line x1="748" x2="748" y1="685" y2="1112" stroke="#e4e4e4" stroke-width="2"/>
<line x1="122" x2="752.5" y1="1069" y2="1069" stroke="#e4e4e4" stroke-width="2"/>
<line x1="122" x2="752.5" y1="986" y2="986" stroke="#e4e4e4" stroke-width="2"/>
<line x1="122" x2="752.5" y1="903" y2="903" stroke="#e4e4e4" stroke-width="2"/>
<line x1="122" x2="752.5" y1="820" y2="820" stroke="#e4e4e4" stroke-width="2"/>
<line x1="122" x2="752.5" y1="737" y2="737" stroke="#e4e4e4" stroke-width="2"/>
<line x1="122" x2="752.5" y1="1110" y2="1110" stroke="#e4e4e4" stroke-width="2"/>
<line x1="122" x2="752.5" y1="1027" y2="1027" stroke="#e4e4e4" stroke-width="2"/>
<line x1="122" x2="752.5" y1="944" y2="944" stroke="#e4e4e4" stroke-width="2"/>
<line x1="122" x2="752.5" y1="861" y2="861" stroke="#e4e4e4" stroke-width="2"/>
<line x1="122" x2="752.5" y1="778" y2="778" stroke="#e4e4e4" stroke-width="2"/>
<line x1="122" x2="752.5" y1="695" y2="695" stroke="#e4e4e4" stroke-width="2"/>
<g clip-path="url(#c3)">
<circle cx="501" cy="977.51" r="4.4" fill="#1b6ca8" fill-opacity="0.8"/>
<circle cx="476.67" cy="1092.67" r="4.4" fill="#1b6ca8" fill-opacity="0.8"/>
<circle cx="657.12" cy="756.5" r="4.4" fill="#1b6ca8" fill-opacity="0.8"/>
<circle cx="441.09" cy="937.27" r="4.4" fill="#1b6ca8" fill-opacity="0.8"/>
<circle cx="339.89" cy="902.58" r="4.4" fill="#1b6ca8" fill-opacity="0.8"/>
<circle cx="417.71" cy="949.35" r="4.4" fill="#1b6ca8" fill-opacity="0.8"/>
<circle cx="327.48" cy="890.59" r="4.4" fill="#1b6ca8" fill-opacity="0.8"/>
<circle cx="533.98" cy="934.18" r="4.4" fill="#1b6ca8" fill-opacity="0.8"/>
<circle cx="537.79" cy="1051.77" r="4.4" fill="#1b6ca8" fill-opacity="0.8"/>
<circle cx="394.52" cy="1016.2" r="4.4" fill="#1b6ca8" fill-opacity="0.8"/>
<circle cx="394.52" cy="1000.09" r="4.4" fill="#1b6ca8" fill-opacity="0.8"/>
<circle cx="279.78" cy="935.07" r="4.4" fill="#1b6ca8" fill-opacity="0.8"/>
<circle cx="312.22" cy="946.65" r="4.4" fill="#1b6ca8" fill-opacity="0.8"/>
<circle cx="307.45" cy="1040.19" r="4.4" fill="#1b6ca8" fill-opacity="0.8"/>
<circle cx="167.21" cy="998.57" r="4.4" fill="#1b6ca8" fill-opacity="0.8"/>
<circle cx="150.6" cy="1079.23" r="4.4" fill="#1b6ca8" fill-opacity="0.8"/>
<circle cx="158.14" cy="766.33" r="4.4" fill="#1b6ca8" fill-opacity="0.8"/>
<circle cx="668.57" cy="722.31" r="4.4" fill="#1b6ca8" fill-opacity="0.8"/>
<circle cx="724.38" cy="964.24" r="4.4" fill="#1b6ca8" fill-opacity="0.8"/>
<circle cx="703.39" cy="704.71" r="4.4" fill="#1b6ca8" fill-opacity="0.8"/>
<circle cx="628.24" cy="724.29" r="4.4" fill="#1b6ca8" fill-opacity="0.8"/>
<circle cx="332.25" cy="978.92" r="4.4" fill="#1b6ca8" fill-opacity="0.8"/>
<circle cx="340.36" cy="926.35" r="4.4" fill="#1b6ca8" fill-opacity="0.8"/>
<circle cx="301.72" cy="881.12" r="4.4" fill="#1b6ca8" fill-opacity="0.8"/>
<circle cx="301.25" cy="795.87" r="4.4" fill="#1b6ca8" fill-opacity="0.8"/>
<circle cx="693.85" cy="987.93" r="4.4" fill="#1b6ca8" fill-opacity="0.8"/>
<circle cx="589.53" cy="917.61" r="4.4" fill="#1b6ca8" fill-opacity="0.8"/>
<circle cx="709.02" cy="912.66" r="4.4" fill="#1b6ca8" fill-opacity="0.8"/>
<circle cx="355.6" cy="916.13" r="4.4" fill="#1b6ca8" fill-opacity="0.8"/>
<circle cx="461.59" cy="974.71" r="4.4" fill="#1b6ca8" fill-opacity="0.8"/>
<circle cx="317.43" cy="959.49" r="4.4" fill="#1b6ca8" fill-opacity="0.8"/>
<circle cx="613.23" cy="749.75" r="4.4" fill="#1b6ca8" fill-opacity="0.8"/>
<path d="M150.6,835.19 L157.87,839.37 L165.13,843.26 L172.39,846.86 L179.66,850.15 L186.92,853.12 L194.18,855.79 L201.45,858.14 L208.71,860.19 L215.97,861.95 L223.23,863.43 L230.5,864.66 L237.76,865.68 L245.02,866.53 L252.29,867.26 L259.55,867.92 L266.81,868.56 L274.08,869.22 L281.34,869.97 L288.6,870.98 L295.86,872.26 L303.13,873.71 L310.39,875.26 L317.65,877.01 L324.92,879.25 L332.18,881.72 L339.44,884.22 L346.71,887.51 L353.97,891.9 L361.23,896.13 L368.49,899.29 L375.76,901.22 L383.02,902.3 L390.28,903.21 L397.55,904.69 L404.81,907.69 L412.07,911.91 L419.34,916.74 L426.6,921.62 L433.86,926.05 L441.12,929.65 L448.39,932.2 L455.65,933.6 L462.91,933.89 L470.18,933.16 L477.44,931.49 L484.7,928.57 L491.96,924.2 L499.23,918.46 L506.49,911.4 L513.75,903.11 L521.02,893.71 L528.28,883.36 L535.54,872.3 L542.81,860.81 L550.07,849.26 L557.33,838.04 L564.59,827.6 L571.86,818.36 L579.12,810.77 L586.38,805.24 L593.65,801.72 L600.91,798.42 L608.17,795.17 L615.44,792.05 L622.7,789.13 L629.96,786.45 L637.22,784.05 L644.49,781.93 L651.75,780.08 L659.01,778.45 L666.28,777 L673.54,775.55 L680.8,773.72 L688.07,771.37 L695.33,768.43 L702.59,764.89 L709.85,760.78 L717.12,756.13 L724.38,751 L724.38,963.08 L717.12,949.13 L709.85,936.68 L702.59,925.86 L695.33,916.78 L688.07,909.52 L680.8,904.14 L673.54,900.63 L666.28,898.94 L659.01,899.11 L651.75,900.88 L644.49,903.98 L637.22,908.13 L629.96,913.07 L622.7,918.58 L615.44,924.46 L608.17,930.53 L600.91,936.61 L593.65,942.55 L586.38,948.32 L579.12,954.84 L571.86,962.2 L564.59,970.3 L557.33,979.09 L550.07,988.49 L542.81,998.44 L535.54,1008.83 L528.28,1019.5 L521.02,1030.25 L513.75,1040.81 L506.49,1050.82 L499.23,1059.9 L491.96,1067.64 L484.7,1073.58 L477.44,1077.29 L470.18,1078.49 L462.91,1077.54 L455.65,1074.98 L448.39,1071.36 L441.12,1067.16 L433.86,1062.75 L426.6,1058.35 L419.34,1054.03 L412.07,1049.75 L404.81,1045.38 L397.55,1040.8 L390.28,1035.36 L383.02,1027.31 L375.76,1017.83 L368.49,1008.45 L361.23,1000.44 L353.97,994.46 L346.71,990.48 L339.44,988.08 L332.18,986.27 L324.92,984.57 L317.65,983.11 L310.39,981.95 L303.13,980.97 L295.86,980.17 L288.6,979.59 L281.34,979.29 L274.08,979.3 L266.81,979.64 L259.55,980.37 L252.29,981.52 L245.02,983.17 L237.76,985.36 L230.5,988.14 L223.23,991.57 L215.97,995.68 L208.71,1000.5 L201.45,1006.06 L194.18,1012.38 L186.92,1019.46 L179.66,1027.31 L172.39,1035.94 L165.13,1045.34 L157.87,1055.51 L150.6,1066.44Z" fill="#999" fill-opacity="0.2"/>
<path d="M150.6,950.81 L157.87,947.44 L165.13,944.3 L172.39,941.4 L179.66,938.73 L186.92,936.29 L194.18,934.08 L201.45,932.1 L208.71,930.35 L215.97,928.81 L223.23,927.5 L230.5,926.4 L237.76,925.52 L245.02,924.85 L252.29,924.39 L259.55,924.14 L266.81,924.1 L274.08,924.26 L281.34,924.63 L288.6,925.28 L295.86,926.21 L303.13,927.34 L310.39,928.6 L317.65,930.06 L324.92,931.91 L332.18,933.99 L339.44,936.15 L346.71,938.99 L353.97,943.18 L361.23,948.28 L368.49,953.87 L375.76,959.52 L383.02,964.8 L390.28,969.29 L397.55,972.74 L404.81,976.54 L412.07,980.83 L419.34,985.38 L426.6,989.98 L433.86,994.4 L441.12,998.41 L448.39,1001.78 L455.65,1004.29 L462.91,1005.71 L470.18,1005.82 L477.44,1004.39 L484.7,1001.07 L491.96,995.92 L499.23,989.18 L506.49,981.11 L513.75,971.96 L521.02,961.98 L528.28,951.43 L535.54,940.56 L542.81,929.63 L550.07,918.88 L557.33,908.57 L564.59,898.95 L571.86,890.28 L579.12,882.8 L586.38,876.78 L593.65,872.13 L600.91,867.51 L608.17,862.85 L615.44,858.26 L622.7,853.85 L629.96,849.76 L637.22,846.09 L644.49,842.95 L651.75,840.48 L659.01,838.78 L666.28,837.97 L673.54,838.09 L680.8,838.93 L688.07,840.45 L695.33,842.61 L702.59,845.38 L709.85,848.73 L717.12,852.63 L724.38,857.04" fill="none" stroke="#3aaf85" stroke-width="2.7" stroke-linejoin="round"/>
</g>
<path d="M122,685 L122,1112 L752.5,1112" fill="none" stroke="#c4c4c4" stroke-width="2" stroke-linejoin="miter"/>
<text x="21.2" y="643.9" font-size="25.15" fill="#000" text-anchor="start" >Homogeneity of Variance</text>
<text x="21.2" y="671.7" font-size="20.9" fill="#000" text-anchor="start" >Reference line should be flat and horizontal</text>
<text x="130" y="1136.7" font-size="19.0" fill="#6b6b6b" text-anchor="middle" >10</text>
<text x="284.5" y="1136.7" font-size="19.0" fill="#6b6b6b" text-anchor="middle" >15</text>
<text x="439" y="1136.7" font-size="19.0" fill="#6b6b6b" text-anchor="middle" >20</text>
<text x="593.5" y="1136.7" font-size="19.0" fill="#6b6b6b" text-anchor="middle" >25</text>
<text x="748" y="1136.7" font-size="19.0" fill="#6b6b6b" text-anchor="middle" >30</text>
<text x="112.3" y="1118.5" font-size="19.0" fill="#6b6b6b" text-anchor="end" >0.25</text>
<text x="112.3" y="1035.42" font-size="19.0" fill="#6b6b6b" text-anchor="end" >0.50</text>
<text x="112.3" y="952.35" font-size="19.0" fill="#6b6b6b" text-anchor="end" >0.75</text>
<text x="112.3" y="869.27" font-size="19.0" fill="#6b6b6b" text-anchor="end" >1.00</text>
<text x="112.3" y="786.2" font-size="19.0" fill="#6b6b6b" text-anchor="end" >1.25</text>
<text x="112.3" y="703.12" font-size="19.0" fill="#6b6b6b" text-anchor="end" >1.50</text>
<text x="437.25" y="1168" font-size="21.1" fill="#454545" text-anchor="middle" >Fitted values</text>
<text transform="translate(43.4,892.1) rotate(-90)" font-size="21.5" fill="#454545" text-anchor="middle" >|Std. residuals|</text>
<path d="M38.5,975.5 L37.6,973 L47.9,969.4 L21.6,965.5 L21.6,823" fill="none" stroke="#454545" stroke-width="1.2"/>
<clipPath id="c4"><rect x="846" y="685" width="632" height="427"/></clipPath>
<line x1="967" x2="967" y1="685" y2="1112" stroke="#e4e4e4" stroke-width="2"/>
<line x1="1151" x2="1151" y1="685" y2="1112" stroke="#e4e4e4" stroke-width="2"/>
<line x1="1334" x2="1334" y1="685" y2="1112" stroke="#e4e4e4" stroke-width="2"/>
<line x1="875" x2="875" y1="685" y2="1112" stroke="#e4e4e4" stroke-width="2"/>
<line x1="1059" x2="1059" y1="685" y2="1112" stroke="#e4e4e4" stroke-width="2"/>
<line x1="1242" x2="1242" y1="685" y2="1112" stroke="#e4e4e4" stroke-width="2"/>
<line x1="1426" x2="1426" y1="685" y2="1112" stroke="#e4e4e4" stroke-width="2"/>
<line x1="846" x2="1478" y1="731" y2="731" stroke="#e4e4e4" stroke-width="2"/>
<line x1="846" x2="1478" y1="843" y2="843" stroke="#e4e4e4" stroke-width="2"/>
<line x1="846" x2="1478" y1="954" y2="954" stroke="#e4e4e4" stroke-width="2"/>
<line x1="846" x2="1478" y1="1066" y2="1066" stroke="#e4e4e4" stroke-width="2"/>
<line x1="846" x2="1478" y1="787" y2="787" stroke="#e4e4e4" stroke-width="2"/>
<line x1="846" x2="1478" y1="899" y2="899" stroke="#e4e4e4" stroke-width="2"/>
<line x1="846" x2="1478" y1="1010" y2="1010" stroke="#e4e4e4" stroke-width="2"/>
<g clip-path="url(#c4)">
<line x1="846" x2="1478" y1="898.6" y2="898.6" stroke="#9a9a9a" stroke-width="1.9" stroke-dasharray="8.3 8.3"/>
<line x1="874.9" x2="874.9" y1="1112" y2="685" stroke="#9a9a9a" stroke-width="1.9" stroke-dasharray="8.3 8.3"/>
<circle cx="1065.52" cy="908.03" r="4.4" fill="#1b6ca8" fill-opacity="0.8"/>
<circle cx="1067.83" cy="900.66" r="4.4" fill="#1b6ca8" fill-opacity="0.8"/>
<circle cx="1014.96" cy="937.18" r="4.4" fill="#1b6ca8" fill-opacity="0.8"/>
<circle cx="1149.24" cy="885.33" r="4.4" fill="#1b6ca8" fill-opacity="0.8"/>
<circle cx="998.57" cy="881.5" r="4.4" fill="#1b6ca8" fill-opacity="0.8"/>
<circle cx="1147.91" cy="910.65" r="4.4" fill="#1b6ca8" fill-opacity="0.8"/>
<circle cx="980.76" cy="917.14" r="4.4" fill="#1b6ca8" fill-opacity="0.8"/>
<circle cx="1185.04" cy="885.01" r="4.4" fill="#1b6ca8" fill-opacity="0.8"/>
<circle cx="1182.77" cy="902.66" r="4.4" fill="#1b6ca8" fill-opacity="0.8"/>
<circle cx="1146.88" cy="892.25" r="4.4" fill="#1b6ca8" fill-opacity="0.8"/>
<circle cx="1146.88" cy="906.16" r="4.4" fill="#1b6ca8" fill-opacity="0.8"/>
<circle cx="947.75" cy="885.1" r="4.4" fill="#1b6ca8" fill-opacity="0.8"/>
<circle cx="964.06" cy="886.29" r="4.4" fill="#1b6ca8" fill-opacity="0.8"/>
<circle cx="960.03" cy="903.35" r="4.4" fill="#1b6ca8" fill-opacity="0.8"/>
<circle cx="1093.26" cy="906.28" r="4.4" fill="#1b6ca8" fill-opacity="0.8"/>
<circle cx="1141.27" cy="901.24" r="4.4" fill="#1b6ca8" fill-opacity="0.8"/>
<circle cx="1118.63" cy="861.74" r="4.4" fill="#1b6ca8" fill-opacity="0.8"/>
<circle cx="1008.89" cy="853.75" r="4.4" fill="#1b6ca8" fill-opacity="0.8"/>
<circle cx="1025.78" cy="887.98" r="4.4" fill="#1b6ca8" fill-opacity="0.8"/>
<circle cx="1010.38" cy="850.34" r="4.4" fill="#1b6ca8" fill-opacity="0.8"/>
<circle cx="1102.98" cy="943.07" r="4.4" fill="#1b6ca8" fill-opacity="0.8"/>
<circle cx="987.15" cy="907.91" r="4.4" fill="#1b6ca8" fill-opacity="0.8"/>
<circle cx="999.33" cy="913.02" r="4.4" fill="#1b6ca8" fill-opacity="0.8"/>
<circle cx="955.94" cy="918.32" r="4.4" fill="#1b6ca8" fill-opacity="0.8"/>
<circle cx="955.63" cy="866.66" r="4.4" fill="#1b6ca8" fill-opacity="0.8"/>
<circle cx="1006.98" cy="907.14" r="4.4" fill="#1b6ca8" fill-opacity="0.8"/>
<circle cx="1450.2" cy="883.22" r="4.4" fill="#1b6ca8" fill-opacity="0.8"/>
<circle cx="1099.11" cy="882.66" r="4.4" fill="#1b6ca8" fill-opacity="0.8"/>
<circle cx="1198.28" cy="914.15" r="4.4" fill="#1b6ca8" fill-opacity="0.8"/>
<circle cx="1067.67" cy="908.27" r="4.4" fill="#1b6ca8" fill-opacity="0.8"/>
<circle cx="1201.04" cy="909.67" r="4.4" fill="#1b6ca8" fill-opacity="0.8"/>
<circle cx="1068.3" cy="938.38" r="4.4" fill="#1b6ca8" fill-opacity="0.8"/>
<path d="M947.15,893.71 L953.51,893.57 L959.87,893.54 L966.23,893.65 L972.59,893.88 L978.95,894.2 L985.31,894.61 L991.67,895.09 L998.03,895.63 L1004.39,896.33 L1010.75,897.06 L1017.11,898.02 L1023.47,899.32 L1029.83,900.85 L1036.19,902.5 L1042.55,904.15 L1048.91,905.69 L1055.27,906.99 L1061.63,907.94 L1067.99,908.42 L1074.35,908.41 L1080.71,908.02 L1087.07,907.36 L1093.43,906.53 L1099.79,905.62 L1106.15,904.46 L1112.51,903.02 L1118.87,901.48 L1125.23,899.98 L1131.6,898.69 L1137.96,897.77 L1144.32,897.36 L1150.68,897.49 L1157.04,897.82 L1163.4,898.34 L1169.76,899.09 L1176.12,900.1 L1182.48,901.39 L1188.84,902.74 L1195.2,903.93 L1201.56,904.97 L1207.92,905.87 L1214.28,906.64 L1220.64,907.26 L1227,907.76 L1233.36,908.14 L1239.72,908.39 L1246.08,908.54 L1252.44,908.57 L1258.8,908.51 L1265.16,908.34 L1271.52,908.08 L1277.88,907.74 L1284.24,907.31 L1290.6,906.8 L1296.96,906.22 L1303.32,905.57 L1309.68,904.86 L1316.04,904.1 L1322.4,903.28 L1328.76,902.41 L1335.12,901.5 L1341.48,900.56 L1347.84,899.58 L1354.2,898.57 L1360.56,897.55 L1366.92,896.5 L1373.28,895.45 L1379.64,894.38 L1386,893.32 L1392.36,892.26 L1398.72,891.21 L1405.08,890.17 L1411.44,889.15 L1417.8,888.16 L1424.16,887.19 L1430.52,886.26 L1436.88,885.36 L1443.24,884.51 L1449.6,883.71" fill="none" stroke="#3aaf85" stroke-width="2.7" stroke-linejoin="round"/>
<path d="M947.15,703.67 L951.31,709.51 L955.46,714.9 L959.61,719.91 L963.77,724.57 L967.92,728.93 L972.08,733.01 L976.23,736.85 L980.38,740.47 L984.54,743.89 L988.69,747.13 L992.84,750.21 L997,753.13 L1001.15,755.92 L1005.31,758.58 L1009.46,761.12 L1013.61,763.55 L1017.77,765.88 L1021.92,768.12 L1026.08,770.27 L1030.23,772.35 L1034.38,774.34 L1038.54,776.26 L1042.69,778.12 L1046.84,779.91 L1051,781.65 L1055.15,783.33 L1059.31,784.95 L1063.46,786.53 L1067.61,788.06 L1071.77,789.55 L1075.92,790.99 L1080.08,792.39 L1084.23,793.76 L1088.38,795.09 L1092.54,796.38 L1096.69,797.64 L1100.85,798.88 L1105,800.08 L1109.15,801.25 L1113.31,802.39 L1117.46,803.51 L1121.61,804.61 L1125.77,805.68 L1129.92,806.72 L1134.08,807.75 L1138.23,808.75 L1142.38,809.73 L1146.54,810.7 L1150.69,811.64 L1154.85,812.57 L1159,813.48 L1163.15,814.37 L1167.31,815.25 L1171.46,816.11 L1175.62,816.95 L1179.77,817.78 L1183.92,818.6 L1188.08,819.4 L1192.23,820.19 L1196.38,820.97 L1200.54,821.74 L1204.69,822.49 L1208.85,823.23 L1213,823.96 L1217.15,824.68 L1221.31,825.39 L1225.46,826.09 L1229.62,826.78 L1233.77,827.46 L1237.92,828.13 L1242.08,828.8 L1246.23,829.45 L1250.39,830.09 L1254.54,830.73 L1258.69,831.36 L1262.85,831.98 L1267,832.59 L1271.15,833.2 L1275.31,833.8 L1279.46,834.39 L1283.62,834.98 L1287.77,835.56 L1291.92,836.13 L1296.08,836.7 L1300.23,837.26 L1304.39,837.81 L1308.54,838.36 L1312.69,838.9 L1316.85,839.44 L1321,839.97 L1325.15,840.5 L1329.31,841.03 L1333.46,841.54 L1337.62,842.06 L1341.77,842.57 L1345.92,843.07 L1350.08,843.57 L1354.23,844.07 L1358.39,844.56 L1362.54,845.05 L1366.69,845.53 L1370.85,846.01 L1375,846.49 L1379.16,846.96 L1383.31,847.43 L1387.46,847.9 L1391.62,848.36 L1395.77,848.82 L1399.92,849.28 L1404.08,849.73 L1408.23,850.18 L1412.39,850.63 L1416.54,851.07 L1420.69,851.52 L1424.85,851.96 L1429,852.39 L1433.16,852.83 L1437.31,853.26 L1441.46,853.69" fill="none" stroke="#3aaf85" stroke-width="2.8" stroke-dasharray="11.6 11.6"/>
<path d="M947.15,1093.53 L951.31,1087.69 L955.46,1082.3 L959.61,1077.29 L963.77,1072.63 L967.92,1068.27 L972.08,1064.19 L976.23,1060.35 L980.38,1056.73 L984.54,1053.31 L988.69,1050.07 L992.84,1046.99 L997,1044.07 L1001.15,1041.28 L1005.31,1038.62 L1009.46,1036.08 L1013.61,1033.65 L1017.77,1031.32 L1021.92,1029.08 L1026.08,1026.93 L1030.23,1024.85 L1034.38,1022.86 L1038.54,1020.94 L1042.69,1019.08 L1046.84,1017.29 L1051,1015.55 L1055.15,1013.87 L1059.31,1012.25 L1063.46,1010.67 L1067.61,1009.14 L1071.77,1007.65 L1075.92,1006.21 L1080.08,1004.81 L1084.23,1003.44 L1088.38,1002.11 L1092.54,1000.82 L1096.69,999.56 L1100.85,998.32 L1105,997.12 L1109.15,995.95 L1113.31,994.81 L1117.46,993.69 L1121.61,992.59 L1125.77,991.52 L1129.92,990.48 L1134.08,989.45 L1138.23,988.45 L1142.38,987.47 L1146.54,986.5 L1150.69,985.56 L1154.85,984.63 L1159,983.72 L1163.15,982.83 L1167.31,981.95 L1171.46,981.09 L1175.62,980.25 L1179.77,979.42 L1183.92,978.6 L1188.08,977.8 L1192.23,977.01 L1196.38,976.23 L1200.54,975.46 L1204.69,974.71 L1208.85,973.97 L1213,973.24 L1217.15,972.52 L1221.31,971.81 L1225.46,971.11 L1229.62,970.42 L1233.77,969.74 L1237.92,969.07 L1242.08,968.4 L1246.23,967.75 L1250.39,967.11 L1254.54,966.47 L1258.69,965.84 L1262.85,965.22 L1267,964.61 L1271.15,964 L1275.31,963.4 L1279.46,962.81 L1283.62,962.22 L1287.77,961.64 L1291.92,961.07 L1296.08,960.5 L1300.23,959.94 L1304.39,959.39 L1308.54,958.84 L1312.69,958.3 L1316.85,957.76 L1321,957.23 L1325.15,956.7 L1329.31,956.17 L1333.46,955.66 L1337.62,955.14 L1341.77,954.63 L1345.92,954.13 L1350.08,953.63 L1354.23,953.13 L1358.39,952.64 L1362.54,952.15 L1366.69,951.67 L1370.85,951.19 L1375,950.71 L1379.16,950.24 L1383.31,949.77 L1387.46,949.3 L1391.62,948.84 L1395.77,948.38 L1399.92,947.92 L1404.08,947.47 L1408.23,947.02 L1412.39,946.57 L1416.54,946.13 L1420.69,945.68 L1424.85,945.24 L1429,944.81 L1433.16,944.37 L1437.31,943.94 L1441.46,943.51" fill="none" stroke="#3aaf85" stroke-width="2.8" stroke-dasharray="11.6 11.6"/>
</g>
<text x="1020.2" y="843.5" font-size="16.8" fill="#1b6ca8" text-anchor="start" >20</text>
<text x="1129.2" y="855.2" font-size="16.8" fill="#1b6ca8" text-anchor="start" >17</text>
<text x="1037.3" y="932.5" font-size="16.8" fill="#1b6ca8" text-anchor="start" >32</text>
<text x="1112.3" y="964.5" font-size="16.8" fill="#1b6ca8" text-anchor="start" >21</text>
<text x="1450.2" y="874.5" font-size="16.8" fill="#1b6ca8" text-anchor="start" >27</text>
<text x="1324.2" y="829.4" font-size="16.8" fill="#3aaf85" text-anchor="start" >0.9</text>
<text x="1324.2" y="974.5" font-size="16.8" fill="#3aaf85" text-anchor="start" >0.9</text>
<path d="M846,685 L846,1112 L1478,1112" fill="none" stroke="#c4c4c4" stroke-width="2" stroke-linejoin="miter"/>
<text x="774.6" y="643.9" font-size="25.15" fill="#000" text-anchor="start" >Influential Observations</text>
<text x="774.6" y="671.7" font-size="20.9" fill="#000" text-anchor="start" >Points should be inside the contour lines</text>
<text x="874.9" y="1136.7" font-size="19.0" fill="#6b6b6b" text-anchor="middle" >0.0</text>
<text x="1058.7" y="1136.7" font-size="19.0" fill="#6b6b6b" text-anchor="middle" >0.2</text>
<text x="1242.5" y="1136.7" font-size="19.0" fill="#6b6b6b" text-anchor="middle" >0.4</text>
<text x="1426.3" y="1136.7" font-size="19.0" fill="#6b6b6b" text-anchor="middle" >0.6</text>
<text x="836.3" y="795.1" font-size="19.0" fill="#6b6b6b" text-anchor="end" >5</text>
<text x="836.3" y="906.6" font-size="19.0" fill="#6b6b6b" text-anchor="end" >0</text>
<text x="836.3" y="1018.1" font-size="19.0" fill="#6b6b6b" text-anchor="end" >-5</text>
<text x="1162.0" y="1167.5" font-size="21.1" fill="#454545" text-anchor="middle">Leverage (h<tspan font-size="14.6" dy="4.2">ii</tspan><tspan dy="-4.2">)</tspan></text>
<text transform="translate(790.8,898.5) rotate(-90)" font-size="21.5" fill="#454545" text-anchor="middle" >Std. Residuals</text>
<clipPath id="c5"><rect x="122" y="1256" width="630.5" height="427"/></clipPath>
<line x1="183" x2="183" y1="1256" y2="1683" stroke="#e4e4e4" stroke-width="2"/>
<line x1="285" x2="285" y1="1256" y2="1683" stroke="#e4e4e4" stroke-width="2"/>
<line x1="387" x2="387" y1="1256" y2="1683" stroke="#e4e4e4" stroke-width="2"/>
<line x1="489" x2="489" y1="1256" y2="1683" stroke="#e4e4e4" stroke-width="2"/>
<line x1="590" x2="590" y1="1256" y2="1683" stroke="#e4e4e4" stroke-width="2"/>
<line x1="692" x2="692" y1="1256" y2="1683" stroke="#e4e4e4" stroke-width="2"/>
<line x1="122" x2="752.5" y1="1621" y2="1621" stroke="#e4e4e4" stroke-width="2"/>
<line x1="122" x2="752.5" y1="1531" y2="1531" stroke="#e4e4e4" stroke-width="2"/>
<line x1="122" x2="752.5" y1="1464" y2="1464" stroke="#e4e4e4" stroke-width="2"/>
<line x1="122" x2="752.5" y1="1364" y2="1364" stroke="#e4e4e4" stroke-width="2"/>
<line x1="122" x2="752.5" y1="1274" y2="1274" stroke="#e4e4e4" stroke-width="2"/>
<line x1="122" x2="752.5" y1="1683" y2="1683" stroke="#e4e4e4" stroke-width="2"/>
<line x1="122" x2="752.5" y1="1560" y2="1560" stroke="#e4e4e4" stroke-width="2"/>
<line x1="122" x2="752.5" y1="1503" y2="1503" stroke="#e4e4e4" stroke-width="2"/>
<line x1="122" x2="752.5" y1="1425" y2="1425" stroke="#e4e4e4" stroke-width="2"/>
<line x1="122" x2="752.5" y1="1302" y2="1302" stroke="#e4e4e4" stroke-width="2"/>
<g clip-path="url(#c5)">
<rect x="122" y="1502.81" width="630.5" height="180.19" fill="#3aaf85" fill-opacity="0.15"/>
<rect x="122" y="1425.2" width="630.5" height="77.61" fill="#1b6ca8" fill-opacity="0.15"/>
<rect x="122" y="1256" width="630.5" height="169.2" fill="#cd201f" fill-opacity="0.15"/>
<line x1="183.2" x2="183.2" y1="1466.9" y2="1564.7" stroke="#3aaf85" stroke-width="3"/>
<circle cx="183.2" cy="1519.05" r="6.4" fill="#3aaf85"/>
<line x1="285" x2="285" y1="1398.4" y2="1502.19" stroke="#1b6ca8" stroke-width="3"/>
<circle cx="285" cy="1452.07" r="6.4" fill="#1b6ca8"/>
<line x1="386.8" x2="386.8" y1="1506.91" y2="1599.4" stroke="#3aaf85" stroke-width="3"/>
<circle cx="386.8" cy="1557.81" r="6.4" fill="#3aaf85"/>
<line x1="488.6" x2="488.6" y1="1256" y2="1328.64" stroke="#cd201f" stroke-width="3"/>
<circle cx="488.6" cy="1274.12" r="6.4" fill="#cd201f"/>
<path d="M488.6,1256 L483.8,1270 L493.4,1270Z" fill="#cd201f"/>
<line x1="590.4" x2="590.4" y1="1264.09" y2="1373.1" stroke="#cd201f" stroke-width="3"/>
<circle cx="590.4" cy="1319.14" r="6.4" fill="#cd201f"/>
<line x1="692.2" x2="692.2" y1="1486.81" y2="1582.17" stroke="#3aaf85" stroke-width="3"/>
<circle cx="692.2" cy="1538.37" r="6.4" fill="#3aaf85"/>
</g>
<path d="M122,1256 L122,1683 L752.5,1683" fill="none" stroke="#c4c4c4" stroke-width="2" stroke-linejoin="miter"/>
<text x="21.2" y="1214.9" font-size="25.15" fill="#000" text-anchor="start" >Collinearity</text>
<text x="21.2" y="1242.7" font-size="20.9" fill="#000" text-anchor="start" >High collinearity (VIF) may inflate parameter uncertainty</text>
<text x="183.2" y="1707.7" font-size="19.0" fill="#6b6b6b" text-anchor="middle" >am</text>
<text x="285" y="1707.7" font-size="19.0" fill="#6b6b6b" text-anchor="middle" >cyl</text>
<text x="386.8" y="1707.7" font-size="19.0" fill="#6b6b6b" text-anchor="middle" >gear</text>
<text x="488.6" y="1707.7" font-size="19.0" fill="#6b6b6b" text-anchor="middle" >vs</text>
<text x="590.4" y="1707.7" font-size="19.0" fill="#6b6b6b" text-anchor="middle" >vs:cyl</text>
<text x="692.2" y="1707.7" font-size="19.0" fill="#6b6b6b" text-anchor="middle" >wt</text>
<text x="112.3" y="1691" font-size="19.0" fill="#6b6b6b" text-anchor="end" >1</text>
<text x="112.3" y="1568" font-size="19.0" fill="#6b6b6b" text-anchor="end" >3</text>
<text x="112.3" y="1510.81" font-size="19.0" fill="#6b6b6b" text-anchor="end" >5</text>
<text x="112.3" y="1433.2" font-size="19.0" fill="#6b6b6b" text-anchor="end" >10</text>
<text x="112.3" y="1310.2" font-size="19.0" fill="#6b6b6b" text-anchor="end" >30</text>
<text transform="translate(38.1,1471) rotate(-90)" font-size="21.5" fill="#454545" text-anchor="middle" >Variance Inflation</text>
<text transform="translate(61.1,1470.2) rotate(-90)" font-size="21.5" fill="#454545" text-anchor="middle" >Factor (VIF, log-scaled)</text>
<line x1="222.3" x2="222.3" y1="1756" y2="1783.5" stroke="#3aaf85" stroke-width="3"/>
<circle cx="222.3" cy="1770.6" r="6.4" fill="#3aaf85"/>
<text x="251.3" y="1778.2" font-size="19.0" fill="#454545" text-anchor="start" >Low (&lt; 5)</text>
<line x1="358.3" x2="358.3" y1="1756" y2="1783.5" stroke="#1b6ca8" stroke-width="3"/>
<circle cx="358.3" cy="1770.6" r="6.4" fill="#1b6ca8"/>
<text x="385.9" y="1778.2" font-size="19.0" fill="#454545" text-anchor="start" >Moderate (&lt; 10)</text>
<line x1="550.4" x2="550.4" y1="1756" y2="1783.5" stroke="#cd201f" stroke-width="3"/>
<circle cx="550.4" cy="1770.6" r="6.4" fill="#cd201f"/>
<text x="578" y="1778.2" font-size="19.0" fill="#454545" text-anchor="start" >High (≥ 10)</text>
<clipPath id="c6"><rect x="846" y="1256.5" width="632" height="426.5"/></clipPath>
<line x1="966" x2="966" y1="1256.5" y2="1683" stroke="#e4e4e4" stroke-width="2"/>
<line x1="1096" x2="1096" y1="1256.5" y2="1683" stroke="#e4e4e4" stroke-width="2"/>
<line x1="1226" x2="1226" y1="1256.5" y2="1683" stroke="#e4e4e4" stroke-width="2"/>
<line x1="1356" x2="1356" y1="1256.5" y2="1683" stroke="#e4e4e4" stroke-width="2"/>
<line x1="901" x2="901" y1="1256.5" y2="1683" stroke="#e4e4e4" stroke-width="2"/>
<line x1="1031" x2="1031" y1="1256.5" y2="1683" stroke="#e4e4e4" stroke-width="2"/>
<line x1="1161" x2="1161" y1="1256.5" y2="1683" stroke="#e4e4e4" stroke-width="2"/>
<line x1="1291" x2="1291" y1="1256.5" y2="1683" stroke="#e4e4e4" stroke-width="2"/>
<line x1="1421" x2="1421" y1="1256.5" y2="1683" stroke="#e4e4e4" stroke-width="2"/>
<line x1="846" x2="1478" y1="1333" y2="1333" stroke="#e4e4e4" stroke-width="2"/>
<line x1="846" x2="1478" y1="1421" y2="1421" stroke="#e4e4e4" stroke-width="2"/>
<line x1="846" x2="1478" y1="1510" y2="1510" stroke="#e4e4e4" stroke-width="2"/>
<line x1="846" x2="1478" y1="1598" y2="1598" stroke="#e4e4e4" stroke-width="2"/>
<line x1="846" x2="1478" y1="1289" y2="1289" stroke="#e4e4e4" stroke-width="2"/>
<line x1="846" x2="1478" y1="1377" y2="1377" stroke="#e4e4e4" stroke-width="2"/>
<line x1="846" x2="1478" y1="1466" y2="1466" stroke="#e4e4e4" stroke-width="2"/>
<line x1="846" x2="1478" y1="1554" y2="1554" stroke="#e4e4e4" stroke-width="2"/>
<line x1="846" x2="1478" y1="1642" y2="1642" stroke="#e4e4e4" stroke-width="2"/>
<g clip-path="url(#c6)">
<path d="M875.25,1398.72 L938.93,1414.3 L973.33,1419.06 L998.37,1421.11 L1018.67,1421.99 L1036.08,1422.23 L1051.58,1422.07 L1065.7,1421.64 L1078.81,1421.02 L1091.16,1420.23 L1102.93,1419.31 L1114.25,1418.28 L1125.23,1417.13 L1135.97,1415.88 L1146.54,1414.52 L1157.01,1413.04 L1167.45,1411.44 L1177.93,1409.71 L1188.5,1407.82 L1199.23,1405.75 L1210.22,1403.47 L1221.54,1400.95 L1233.31,1398.11 L1245.66,1394.89 L1258.77,1391.17 L1272.89,1386.77 L1288.38,1381.42 L1305.8,1374.65 L1326.1,1365.59 L1351.14,1352.32 L1385.54,1329.61 L1449.22,1275.93 L1449.22,1541.76 L1385.54,1526.18 L1351.14,1521.41 L1326.1,1519.36 L1305.8,1518.49 L1288.38,1518.25 L1272.89,1518.4 L1258.77,1518.83 L1245.66,1519.46 L1233.31,1520.24 L1221.54,1521.16 L1210.22,1522.2 L1199.23,1523.34 L1188.5,1524.59 L1177.93,1525.96 L1167.45,1527.43 L1157.01,1529.03 L1146.54,1530.77 L1135.97,1532.66 L1125.23,1534.73 L1114.25,1537 L1102.93,1539.53 L1091.16,1542.36 L1078.81,1545.58 L1065.7,1549.31 L1051.58,1553.71 L1036.08,1559.06 L1018.67,1565.82 L998.37,1574.88 L973.33,1588.15 L938.93,1610.86 L875.25,1664.55Z" fill="#999" fill-opacity="0.2"/>
<line x1="875.25" x2="1449.22" y1="1466.3" y2="1466.3" stroke="#3aaf85" stroke-width="2.9"/>
<circle cx="875.25" cy="1504.08" r="4.4" fill="#1b6ca8" fill-opacity="0.8"/>
<circle cx="938.93" cy="1515.48" r="4.4" fill="#1b6ca8" fill-opacity="0.8"/>
<circle cx="973.33" cy="1528.37" r="4.4" fill="#1b6ca8" fill-opacity="0.8"/>
<circle cx="998.37" cy="1459.99" r="4.4" fill="#1b6ca8" fill-opacity="0.8"/>
<circle cx="1018.67" cy="1466.17" r="4.4" fill="#1b6ca8" fill-opacity="0.8"/>
<circle cx="1036.08" cy="1463.52" r="4.4" fill="#1b6ca8" fill-opacity="0.8"/>
<circle cx="1051.58" cy="1467.4" r="4.4" fill="#1b6ca8" fill-opacity="0.8"/>
<circle cx="1065.7" cy="1465.6" r="4.4" fill="#1b6ca8" fill-opacity="0.8"/>
<circle cx="1078.81" cy="1468.81" r="4.4" fill="#1b6ca8" fill-opacity="0.8"/>
<circle cx="1091.16" cy="1470.01" r="4.4" fill="#1b6ca8" fill-opacity="0.8"/>
<circle cx="1102.93" cy="1475.39" r="4.4" fill="#1b6ca8" fill-opacity="0.8"/>
<circle cx="1114.25" cy="1481.03" r="4.4" fill="#1b6ca8" fill-opacity="0.8"/>
<circle cx="1125.23" cy="1483.96" r="4.4" fill="#1b6ca8" fill-opacity="0.8"/>
<circle cx="1135.97" cy="1486.39" r="4.4" fill="#1b6ca8" fill-opacity="0.8"/>
<circle cx="1146.54" cy="1491.63" r="4.4" fill="#1b6ca8" fill-opacity="0.8"/>
<circle cx="1157.01" cy="1486.32" r="4.4" fill="#1b6ca8" fill-opacity="0.8"/>
<circle cx="1167.45" cy="1489.27" r="4.4" fill="#1b6ca8" fill-opacity="0.8"/>
<circle cx="1177.93" cy="1489.4" r="4.4" fill="#1b6ca8" fill-opacity="0.8"/>
<circle cx="1188.5" cy="1492.84" r="4.4" fill="#1b6ca8" fill-opacity="0.8"/>
<circle cx="1199.23" cy="1465.93" r="4.4" fill="#1b6ca8" fill-opacity="0.8"/>
<circle cx="1210.22" cy="1455.14" r="4.4" fill="#1b6ca8" fill-opacity="0.8"/>
<circle cx="1221.54" cy="1454.57" r="4.4" fill="#1b6ca8" fill-opacity="0.8"/>
<circle cx="1233.31" cy="1457.15" r="4.4" fill="#1b6ca8" fill-opacity="0.8"/>
<circle cx="1245.66" cy="1462.91" r="4.4" fill="#1b6ca8" fill-opacity="0.8"/>
<circle cx="1258.77" cy="1469.62" r="4.4" fill="#1b6ca8" fill-opacity="0.8"/>
<circle cx="1272.89" cy="1470.11" r="4.4" fill="#1b6ca8" fill-opacity="0.8"/>
<circle cx="1288.38" cy="1476.25" r="4.4" fill="#1b6ca8" fill-opacity="0.8"/>
<circle cx="1305.8" cy="1480.98" r="4.4" fill="#1b6ca8" fill-opacity="0.8"/>
<circle cx="1326.1" cy="1429.66" r="4.4" fill="#1b6ca8" fill-opacity="0.8"/>
<circle cx="1351.14" cy="1420.97" r="4.4" fill="#1b6ca8" fill-opacity="0.8"/>
<circle cx="1385.54" cy="1400.97" r="4.4" fill="#1b6ca8" fill-opacity="0.8"/>
<circle cx="1449.22" cy="1417.69" r="4.4" fill="#1b6ca8" fill-opacity="0.8"/>
</g>
<path d="M846,1256.5 L846,1683 L1478,1683" fill="none" stroke="#c4c4c4" stroke-width="2" stroke-linejoin="miter"/>
<text x="774.6" y="1214.9" font-size="25.15" fill="#000" text-anchor="start" >Normality of Residuals</text>
<text x="774.6" y="1242.7" font-size="20.9" fill="#000" text-anchor="start" >Dots should fall along the line</text>
<text x="900.6" y="1707.7" font-size="19.0" fill="#6b6b6b" text-anchor="middle" >-2</text>
<text x="1030.6" y="1707.7" font-size="19.0" fill="#6b6b6b" text-anchor="middle" >-1</text>
<text x="1160.6" y="1707.7" font-size="19.0" fill="#6b6b6b" text-anchor="middle" >0</text>
<text x="1290.6" y="1707.7" font-size="19.0" fill="#6b6b6b" text-anchor="middle" >1</text>
<text x="1420.6" y="1707.7" font-size="19.0" fill="#6b6b6b" text-anchor="middle" >2</text>
<text x="836.3" y="1296.8" font-size="19.0" fill="#6b6b6b" text-anchor="end" >2</text>
<text x="836.3" y="1385.2" font-size="19.0" fill="#6b6b6b" text-anchor="end" >1</text>
<text x="836.3" y="1473.6" font-size="19.0" fill="#6b6b6b" text-anchor="end" >0</text>
<text x="836.3" y="1562" font-size="19.0" fill="#6b6b6b" text-anchor="end" >-1</text>
<text x="836.3" y="1650.4" font-size="19.0" fill="#6b6b6b" text-anchor="end" >-2</text>
<text x="1162" y="1739" font-size="21.1" fill="#454545" text-anchor="middle" >Standard Normal Distribution Quantiles</text>
<text transform="translate(790.8,1469.75) rotate(-90)" font-size="21.5" fill="#454545" text-anchor="middle" >Sample Quantile Deviations</text>
</svg>
</body></html>
